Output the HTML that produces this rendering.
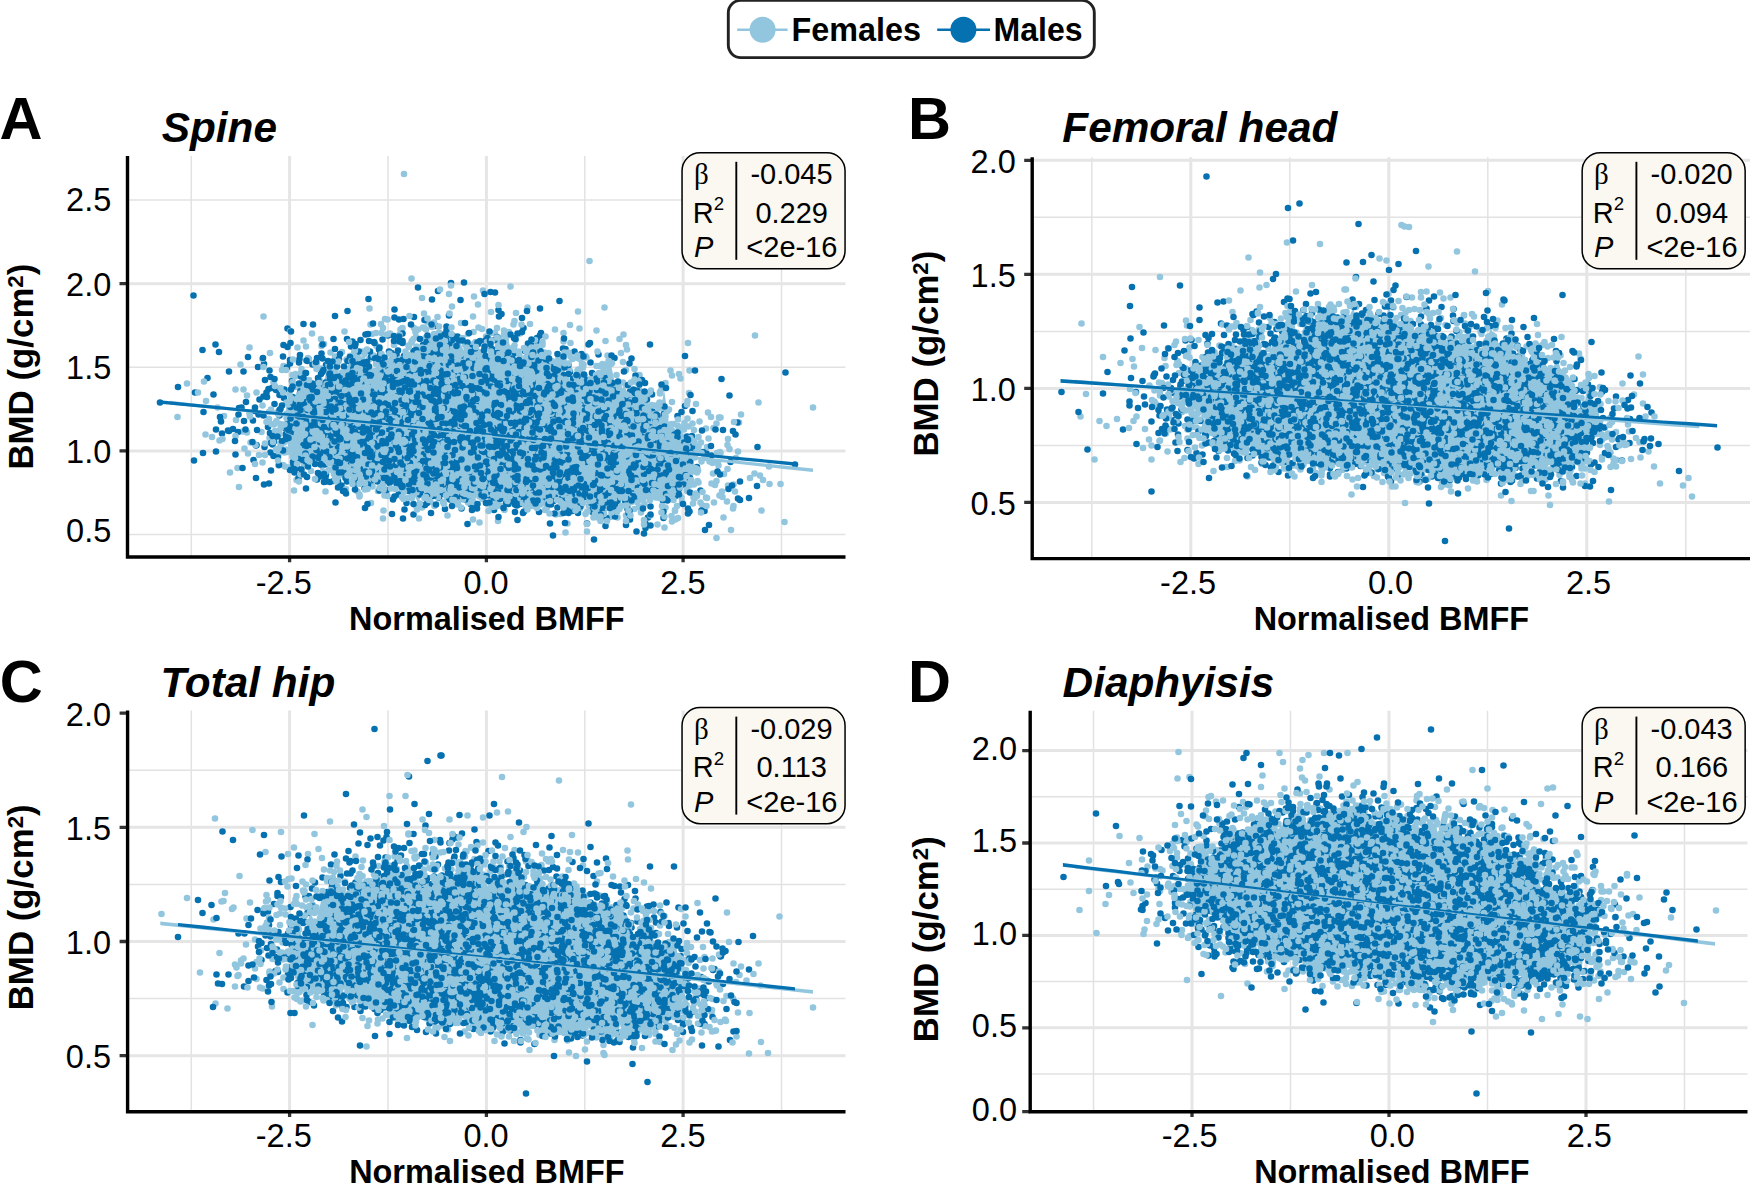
<!DOCTYPE html>
<html lang="en"><head><meta charset="utf-8"><title>BMD vs normalised BMFF</title>
<style>html,body{margin:0;padding:0;background:#fff}svg{display:block}text{font-family:"Liberation Sans",Arial,Helvetica,sans-serif;fill:#000}.tk{font-size:32.5px}.at{font-size:32.5px;font-weight:bold}.yt{font-size:35.3px;font-weight:bold}.sup{font-size:22.6px}.pl{font-size:59.5px;font-weight:bold}.pt{font-size:42.3px;font-weight:bold;font-style:italic}.sb{font-size:29px}.lg{font-size:32.7px;font-weight:bold}.f{stroke:#92C5DE}.m{stroke:#0571B0}</style></head><body>
<svg width="1750" height="1184" viewBox="0 0 1750 1184">
<rect width="1750" height="1184" fill="#fff"/>
<rect x="728.3" y="0.4" width="366" height="57.2" rx="12.5" ry="12.5" fill="#fff" stroke="#222" stroke-width="2.9"/>
<path d="M737.2 29.7H787.6" stroke="#92C5DE" stroke-width="2.6"/><circle cx="762.6" cy="29.7" r="13" fill="#92C5DE"/>
<path d="M937.2 29.7H990" stroke="#0571B0" stroke-width="2.6"/><circle cx="963.4" cy="29.7" r="13" fill="#0571B0"/>
<text class="lg" x="791.6" y="41.3" textLength="129.4" lengthAdjust="spacingAndGlyphs">Females</text>
<text class="lg" x="993.6" y="41.3" textLength="89.0" lengthAdjust="spacingAndGlyphs">Males</text>
<g id="panelA">
<path d="M191.3 156.0 V557.0M388.0 156.0 V557.0M584.8 156.0 V557.0M781.5 156.0 V557.0M127.5 534.5 H845.5M127.5 367.3 H845.5M127.5 200.1 H845.5" stroke="#e2e2e2" stroke-width="1.5" fill="none"/>
<path d="M289.6 156.0 V557.0M486.4 156.0 V557.0M683.1 156.0 V557.0M127.5 450.9 H845.5M127.5 283.7 H845.5" stroke="#e5e5e5" stroke-width="3.0" fill="none"/>
<path d="M286 399L292 402L298 389L304 378L310 387L316 388L322 388L328 366L334 366L340 377L346 374L352 347L358 356L364 363L370 375L376 375L382 362L388 365L394 358L400 362L406 360L412 359L418 351L424 344L430 340L436 338L442 338L448 332L454 341L460 342L466 356L472 349L478 356L484 360L490 361L496 353L502 341L508 337L514 365L520 365L526 352L532 346L538 344L544 357L550 365L556 366L562 360L568 388L574 395L580 359L586 383L592 383L598 378L604 377L610 360L616 388L622 394L628 397L634 395L640 384L646 397L652 412L658 432L664 389L670 431L676 436L682 431L688 443L694 442L694 468L688 481L682 480L676 492L670 495L664 496L658 493L652 493L646 496L640 503L634 497L628 515L622 494L616 512L610 504L604 517L598 513L592 507L586 499L580 501L574 507L568 508L562 502L556 496L550 500L544 500L538 501L532 502L526 500L520 500L514 499L508 499L502 501L496 502L490 491L484 494L478 491L472 498L466 495L460 495L454 500L448 495L442 494L436 492L430 498L424 490L418 503L412 490L406 493L400 491L394 484L388 479L382 486L376 477L370 482L364 480L358 479L352 478L346 472L340 471L334 467L328 460L322 474L316 459L310 459L304 458L298 468L292 466L286 436Z" fill="#92C5DE"/>
<g transform="scale(.5)" fill="none" stroke-linecap="round" stroke-width="13.2">
<path class="f" d="M578 935h0m48-38h0m112-178h0m140-54h0m118 377h0m139 5h0m224-128h0m111 64h0m30-27h0"/>
<path class="m" d="M471 909h0m105-63h0m4-126h0m6 204h0m21-276h0m574 77h0m113 74h0m57 193h0m59 68h0"/>
<path class="f" d="M559 868h0m14-32h0m20 124h0m23-244h0m6 226h0m166-252h0m94-22h0m115 36h0m115 325h0m66-17h0m17 23h0m41-264h0m10-47h0m85 212h0m88-13h0m18 8h0"/>
<path class="m" d="M466 858h0m47 32h0m24-112h0m38-84h0m9 68h0m29 130h0m32-175h0m86-48h0m62 40h0m210-81h0m226 88h0m31 67h0"/>
<path class="f" d="M633 829h0m213-174h0m111 0h0m75-29h0m57 79h0m226 344h0m4-244h0m41 104h0m1-152h0m75 167h0"/>
<path class="m" d="M356 774h0m216 94h0m3-211h0m287 369h0m37-340h0m22-86h0m262 406h0m197-83h0m135-29h0"/>
<path class="f" d="M646 816h0m47-97h0m48-70h0m34 343h0m294-274h0m41-59h0m123 91h0m117 272h0m89-31h0"/>
<path class="m" d="M512 956h0m115-185h0m9 175h0m24-189h0m52-1h0m77-137h0m292 83h0"/>
<path class="f" d="M485 863h0m11 44h0m90-65h0m109 81h0m209-246h0m32-9h0m36 5h0m286 314h0m11 31h0m95-14h0"/>
<path class="m" d="M528 728h0m40 68h0m59 23h0m741 66h0m3 65h0m200-205h0"/>
<path class="f" d="M561 887h0m119 63h0m62 56h0m62-267h0m356 278h0m6-282h0m26 250h0m9 40h0m130-259h0m74 245h0"/>
<path class="m" d="M458 862h0m123-48h0m19-104h0m50 219h0m2-119h0m94-163h0m82-13h0m74-68h0m160 120h0"/>
<path class="f" d="M539 876h0m43 5h0m21-143h0m2 149h0m48-87h0m14 97h0m150-206h0m141 13h0m102-56h0m61 380h0m305-81h0"/>
<path class="m" d="M509 822h0m8 7h0m63 111h0m17 16h0m117-214h0m201-69h0m7 74h0m6-182h0m60 455h0m173-7h0m142-75h0m24 98h0m2-183h0"/>
<path class="f" d="M634 924h0m5-129h0m260-88h0m375 58h0m49 13h0m31 234h0m124-167h0"/>
<path class="m" d="M598 725h0m16 229h0m38-224h0m69-50h0m55-9h0m2 32h0m164 306h0m373-178h0m66 84h0m94-70h0"/>
<path class="f" d="M540 706h0m103 189h0m27-182h0m49 276h0m104-304h0m99-39h0m42 12h0m57-85h0m31 142h0m127-193h0m30 274h0m26 239h0m106-294h0m15 142h0"/>
<path class="m" d="M476 864h0m31 56h0m22-26h0m138-216h0m39 83h0m35 204h0m215-277h0m62 263h0m127-173h0m187-2h0m44 251h0m9-205h0"/>
<path class="f" d="M567 732h0m1 153h0m30-8h0m26 30h0m28 6h0m192 102h0m196-348h0m127 62h0m213 159h0"/>
<path class="m" d="M432 903h0m24-42h0m327-155h0m22-20h0m41 4h0m30-108h0m122 51h0m158 393h0m140 9h0m47-121h0m23 94h0m43 14h0m4-115h0"/>
<path class="f" d="M494 791h0m60 34h0m190-157h0m383 15h0m47 380h0m41-315h0m24-70h0m32 193h0m5 120h0m6-194h0m15 46h0m25-37h0"/>
<path class="m" d="M431 689h0m108 52h0m137 221h0m642-15h0m8 54h0"/>
<path class="f" d="M472 840h0m105-31h0m14-56h0m50 20h0m20-68h0m189 257h0m267-245h0m170 266h0m8-168h0m37 142h0m44-271h0m13 311h0m25-103h0m31 100h0m65-323h0"/>
<path class="m" d="M585 794h0m87-9h0m221-132h0m54 330h0m70 25h0m18-341h0m200 113h0"/>
<path class="f" d="M481 729h0m88 176h0m12-243h0m54 225h0m22-157h0m69-27h0m19 270h0m86 38h0m21-336h0m37 59h0m129-70h0m229 5h0m273 282h0"/>
<path class="m" d="M438 704h0m78 30h0m70 72h0m26-60h0m36 218h0m10-155h0m102-100h0m111-57h0m7 344h0m7-271h0m8-64h0m6 34h0m98-75h0m77 56h0m66 68h0m65 274h0m6 34h0m55-66h0"/>
<path class="f" d="M435 815h0m144-12h0m96 152h0m14-292h0m36 56h0m221 320h0m58-42h0m108-16h0m72-165h0m84 164h0m44-51h0m135 106h0m8-97h0m68 83h0"/>
<path class="m" d="M387 591h0m71 152h0m190 127h0m3-105h0m608-38h0m32 320h0"/>
<path class="f" d="M594 900h0m45-141h0m215 230h0m128-323h0m137 54h0m96-9h0m65 75h0m40 1h0m49 59h0m90 52h0"/>
<path class="m" d="M660 733h0m49 235h0m56-289h0m179 341h0m136-349h0m211 385h0m37-228h0m25 87h0m50 106h0"/>
<path class="f" d="M575 904h0m372-216h0m71 9h0m66 13h0m70 298h0m3-269h0m65-11h0m60 297h0m89-58h0"/>
<path class="m" d="M506 841h0m53-21h0m28 109h0m96 42h0m8-169h0m237-83h0m260 360h0m73-256h0m27 244h0m67-96h0"/>
<path class="f" d="M460 945h0m125-116h0m6-81h0m2 86h0m31-167h0m129 25h0m10-26h0m12-27h0m30 17h0m19 336h0m109-274h0m18-34h0m42 45h0m129 13h0m157 84h0m41 161h0m3-7h0m16-122h0m4 174h0m28-142h0m56-34h0m134 112h0"/>
<path class="m" d="M427 789h0m153-62h0m17 191h0m28-189h0m759 143h0m39 39h0"/>
<path class="f" d="M494 865h0m330-183h0m3-4h0m34 326h0m13-291h0m74-120h0m91 407h0m150 5h0m116-82h0m26 92h0m25-86h0m18 53h0m23-17h0m31 40h0"/>
<path class="m" d="M607 890h0m87-212h0m8 15h0m105-55h0m78 350h0m215 59h0m190-281h0m86 251h0m104-54h0"/>
<path class="f" d="M585 764h0m58-72h0m72 291h0m30-219h0m110-120h0m48 11h0m87 344h0m49-6h0m180-240h0m23-47h0m4 59h0m25 54h0m58 154h0m0 60h0m63-225h0m20 49h0"/>
<path class="m" d="M559 831h0m94 132h0m9-210h0m48 226h0m96 58h0m114-44h0m77 41h0m44-26h0m15-321h0m168 92h0m81 44h0"/>
<path class="f" d="M439 881h0m48-102h0m95 17h0m110 36h0m29-78h0m123-59h0m51 302h0m117-319h0m344 174h0"/>
<path class="m" d="M527 793h0m88-71h0m37 227h0m31-186h0m72 200h0m85 26h0m49-320h0m3 11h0m79 1h0m155 16h0m125 96h0m2 204h0m50-56h0"/>
<path class="f" d="M525 811h0m197-90h0m130-62h0m67 43h0m171 318h0m67-239h0m95-41h0m23 60h0m58 115h0m2-38h0m2 102h0m11 6h0m8-121h0m22-78h0m10 183h0m37-43h0"/>
<path class="m" d="M607 798h0m1 11h0m32 75h0m46 98h0m32-279h0m277 3h0m53 291h0m53-268h0m212 243h0m158-103h0"/>
<path class="f" d="M566 930h0m126 48h0m82-309h0m62-10h0m41 57h0m9 288h0m9-23h0m27-275h0m14 299h0m63-297h0m128 11h0m4 346h0m10-379h0m2 203h0m21-161h0m88 303h0m27-281h0m33 168h0m170-89h0m57 139h0"/>
<path class="m" d="M528 969h0m24-189h0m43 156h0m83-218h0m135 288h0m94-326h0m137-16h0"/>
<path class="f" d="M557 931h0m35-157h0m6 189h0m0-66h0m60 30h0m13-185h0m85 240h0m112-337h0m24 81h0m86 283h0m93-286h0m74-5h0m23 87h0m53 229h0m65-209h0m23 3h0m25 138h0m75-50h0"/>
<path class="m" d="M320 805h0m95-49h0m225 197h0m33-159h0m37 148h0m2-234h0m23 300h0m49 20h0m58-46h0m11-298h0m85 37h0m108 305h0m182-11h0m72-179h0m32 152h0m134-126h0m124 67h0"/>
<path class="f" d="M518 910h0m94-217h0m0 135h0m158-91h0m99 275h0m121-303h0m6-16h0m23 56h0m32-32h0m46-11h0m98 293h0m14-384h0m63 184h0m53 114h0m42-6h0m34 98h0m125-45h0"/>
<path class="m" d="M600 808h0m57 61h0m85-155h0m244-9h0m42 293h0m58-276h0m30 18h0m97 296h0m102-75h0m3-30h0m2-75h0m74 78h0"/>
<path class="f" d="M525 718h0m128 50h0m83 197h0m33 26h0m92-300h0m14-57h0m18 340h0m20-273h0m98 46h0m190 295h0m22-261h0m23 1h0m32 87h0m10-42h0m13 123h0m9-139h0m131 24h0"/>
<path class="m" d="M530 760h0m6 94h0m123-105h0m0 50h0m11-101h0m59 278h0m20-290h0m28 76h0m333-7h0m99 0h0m21 278h0m6-270h0m225 161h0"/>
<path class="f" d="M527 633h0m47 194h0m3 53h0m37-57h0m44 117h0m89-229h0m165 276h0m85-377h0m15 81h0m46 24h0m21 35h0m62 248h0m15-375h0m15 89h0m81 101h0m1 6h0m37-29h0m12-9h0m6 60h0m82 74h0m6 26h0"/>
<path class="m" d="M496 714h0m125 87h0m35-79h0m49-39h0m81 316h0m104 19h0m64-1h0m71-300h0m124-14h0m161 150h0m13-84h0"/>
<path class="f" d="M471 779h0m52 85h0m82-43h0m44 1h0m4 100h0m45-238h0m135 9h0m133-112h0m33 95h0m28-27h0m90 76h0m56-10h0m79 56h0m100 129h0m38 36h0m43 26h0m0 114h0"/>
<path class="m" d="M406 906h0m26-47h0m80 32h0m59-34h0m11-4h0m19-71h0m35-26h0m227-32h0m97-42h0m70 24h0m44-24h0m15 321h0m56 19h0m32-333h0m105 163h0m31 11h0m146-72h0"/>
<path class="f" d="M612 818h0m195 180h0m16-441h0m40 121h0m5-10h0m57 8h0m11 327h0m160-271h0m74 21h0m88 39h0m63 73h0m67 17h0m29-5h0m31 71h0m24-32h0"/>
<path class="m" d="M444 867h0m137-30h0m12-22h0m57-34h0m24-48h0m19 207h0m47-237h0m28 69h0m180-52h0m27-44h0m45 92h0m1-99h0m9 340h0m68-288h0m201 133h0m81 49h0m26 1h0"/>
<path class="f" d="M607 681h0m32 154h0m121 118h0m155-265h0m32-24h0m61-3h0m147 55h0m4 31h0m34-86h0m61 38h0m44 222h0m44-1h0m23 39h0m29-56h0m18 92h0m18-25h0m8-135h0"/>
<path class="m" d="M545 889h0m24-110h0m46 61h0m43-5h0m5-51h0m67 232h0m7-418h0m9 178h0m232 215h0m173-2h0m12-281h0m72 294h0m25-190h0m49 130h0m46-110h0"/>
<path class="f" d="M445 878h0m128-73h0m34-27h0m1 151h0m19-21h0m37-133h0m13-52h0m23 218h0m28-14h0m103-263h0m90 45h0m74-26h0m13-14h0m31 321h0m50-259h0m2 276h0m48-267h0m66-12h0m151 308h0m38-98h0m19-24h0"/>
<path class="m" d="M534 794h0m4 173h0m3-213h0m1 132h0m22-4h0m51-62h0m10 93h0m9-61h0m4-80h0m57-150h0m44 161h0m20 198h0m0-59h0m188 92h0m420-45h0"/>
<path class="f" d="M424 874h0m123-109h0m14 11h0m24 137h0m33-195h0m24 19h0m58-25h0m66 325h0m83-381h0m123 38h0m83-79h0m49 107h0m11 270h0m12-326h0m52 319h0m8-198h0m21 241h0m15-3h0m74-202h0m44 159h0m2-31h0m2-67h0m37 61h0m127 2h0"/>
<path class="m" d="M390 785h0m193 81h0m6 79h0m41-17h0m3-16h0m8 17h0m1-181h0m18-1h0m32 240h0m17-219h0m80 225h0m20 26h0m10-63h0m22-252h0m128-116h0m74 191h0m30-38h0m9-75h0m62 317h0m119-266h0m72 170h0m50 6h0"/>
<path class="f" d="M525 925h0m18-77h0m14-19h0m22-41h0m44 52h0m61-95h0m96-78h0m53 318h0m43 10h0m2-342h0m24-82h0m92 436h0m128-257h0m39 34h0m21-26h0m16-12h0m80 268h0m11-216h0m0 210h0m45-15h0m49-25h0m16-125h0m68 169h0"/>
<path class="m" d="M602 753h0m23 132h0m40-162h0m11 252h0m13-69h0m122 46h0m6 30h0m256-253h0m51 268h0m4-247h0m33 256h0m26-211h0m17-42h0m94 189h0m72-130h0m12 95h0m116 89h0"/>
<path class="f" d="M411 869h0m37-37h0m27 104h0m98-37h0m21 29h0m53-121h0m4-24h0m13 46h0m25-75h0m180-66h0m49 22h0m13-5h0m43-21h0m12 330h0m43-372h0m81 349h0m25 16h0m24-350h0m19 345h0m38-223h0m72 110h0m56 154h0m3-43h0m28-198h0m0 155h0m163-24h0"/>
<path class="m" d="M533 785h0m33-72h0m61 97h0m7 149h0m104-277h0m23 61h0m38-60h0m39 295h0m60-347h0m136 380h0m65-241h0m7 301h0m8-330h0m70 5h0m2 271h0m87 46h0m14-232h0m3 14h0m37 81h0m0 97h0m31-45h0"/>
<path class="f" d="M548 849h0m86 54h0m20-78h0m98-159h0m107 64h0m86-15h0m13-6h0m36-53h0m56 354h0m14 2h0m9-319h0m18-20h0m0 61h0m70-15h0m37 13h0m68 77h0m32 179h0m17-147h0m4 98h0m40-42h0m18-44h0m2-112h0m8 254h0m16-89h0m63 111h0"/>
<path class="m" d="M549 808h0m127-29h0m18 184h0m111-281h0m3 30h0m19 317h0m40-37h0m13-283h0m289 85h0m21 13h0m5 203h0m2-301h0m58 309h0m5 21h0"/>
<path class="f" d="M561 848h0m25-129h0m73 156h0m25-171h0m26-3h0m80 241h0m55-242h0m59-87h0m11 396h0m67-385h0m45 71h0m4-15h0m41 334h0m191-154h0m6-11h0m34-39h0m7 90h0m10-116h0m13 156h0m2-118h0m9 39h0m30 118h0m59-132h0m8 59h0"/>
<path class="m" d="M519 799h0m40-9h0m13 82h0m2-137h0m63 27h0m54 194h0m67-257h0m160-18h0m156 55h0m33 266h0m1-225h0m1 250h0m2-261h0m26-36h0m48 294h0m81-47h0m3 19h0m15-236h0m2 113h0m18-84h0m45 80h0m12 86h0m29-214h0m11 240h0m113-9h0"/>
<path class="f" d="M412 802h0m98 126h0m92-51h0m25-1h0m7-150h0m31 213h0m1-101h0m25-27h0m114 147h0m33 79h0m11-279h0m196 248h0m368 6h0m1-16h0m42-25h0"/>
<path class="m" d="M676 773h0m25 157h0m17-202h0m68 30h0m7 208h0m56-326h0m25 64h0m32-32h0m17 345h0m46-324h0m7 27h0m30-35h0m6 322h0m104-236h0m30-14h0m125-6h0m2 67h0m101 55h0m61 70h0"/>
<path class="f" d="M489 897h0m12-12h0m56 24h0m9-124h0m26 105h0m16-98h0m60 45h0m1-42h0m66-12h0m7 172h0m49-233h0m70 268h0m6-299h0m19-10h0m79 317h0m105-318h0m66 105h0m19 232h0m37-267h0m23 266h0m46-41h0m2 29h0m9-28h0m3 29h0m30-148h0m66 59h0m31 109h0"/>
<path class="m" d="M541 905h0m15 10h0m105-25h0m4-67h0m5-25h0m9-45h0m10 229h0m21-25h0m64-208h0m14-77h0m34 128h0m5-98h0m35 3h0m20 12h0m22 295h0m174 12h0m102-338h0m118 147h0"/>
<path class="f" d="M562 894h0m83-59h0m24 39h0m14-77h0m5 120h0m38 14h0m10-120h0m65-93h0m25-7h0m2-55h0m43 41h0m83 291h0m55-286h0m47-2h0m61 29h0m49 277h0m41-274h0m21 267h0m45-185h0m8 181h0m6-118h0m31 35h0m20-93h0m3 70h0m6-41h0m5 42h0m18 21h0"/>
<path class="m" d="M616 933h0m10-284h0m17 279h0m59-23h0m83-186h0m9 251h0m4-331h0m20 330h0m113 30h0m100-321h0m0 45h0m19-21h0m30-85h0m119 383h0m6 14h0m51-244h0m12 115h0m16-70h0m35 138h0m44-129h0"/>
<path class="f" d="M593 798h0m75 134h0m22-1h0m3-112h0m29-74h0m51 241h0m38-283h0m38 122h0m4-129h0m6 57h0m31-71h0m63 21h0m44 35h0m136 22h0m3 210h0m2 45h0m49 20h0m2-19h0m73-251h0m61 260h0m40-30h0m6-81h0m16-67h0m12 46h0"/>
<path class="m" d="M547 912h0m48-81h0m17 11h0m36 59h0m8-131h0m24-62h0m11 69h0m9 29h0m8-77h0m2 33h0m11-4h0m3-25h0m4-5h0m37-2h0m67-26h0m40 309h0m100-3h0m53-228h0m33 0h0m4 0h0m69-80h0m21 88h0m49 243h0m19-13h0m30-15h0m28-75h0m29-43h0"/>
<path class="f" d="M530 910h0m112-232h0m10 216h0m21 17h0m44-195h0m23 210h0m124-272h0m35-27h0m47 6h0m19 85h0m28 295h0m70-318h0m11 321h0m7-7h0m56-282h0m24 226h0m52-167h0m11-60h0m45 12h0m12 203h0m2-11h0m3 69h0m47-69h0m62 32h0m73-118h0"/>
<path class="m" d="M388 921h0m100-79h0m52 24h0m71 41h0m26 9h0m61-161h0m38-87h0m14 49h0m2-1h0m18 41h0m7-22h0m11 28h0m2-9h0m2 36h0m70-47h0m76 253h0m42-315h0m86 24h0m181 98h0m12-2h0m4 51h0m19 111h0m19 88h0m79-95h0"/>
<path class="f" d="M499 695h0m12 195h0m19-3h0m20-25h0m1-16h0m10 11h0m29 59h0m8-44h0m24-17h0m7 44h0m10-20h0m7-96h0m2-95h0m44 108h0m42-97h0m18 29h0m38 12h0m91-21h0m13-15h0m12 11h0m15 8h0m35-114h0m28 402h0m6-345h0m10 345h0m15-242h0m39 240h0m27-282h0m23 32h0m44 47h0m23 222h0m23-14h0m7-251h0m37 226h0m28-153h0m10 12h0m12 201h0m8-88h0m5 70h0m6-114h0m50 8h0m11-66h0m29 15h0"/>
<path class="m" d="M440 834h0m142-55h0m61-72h0m56 92h0m8 2h0m33-27h0m5 19h0m3-109h0m107-13h0m25 19h0m55 358h0m3-70h0m131-235h0m41 252h0m59-1h0m7-18h0m18-5h0m0-191h0m24 106h0m40 29h0m1 107h0m9-119h0m15-1h0m8-51h0m20-9h0m12 76h0m13 54h0m30-43h0"/>
<path class="f" d="M558 866h0m8-16h0m28 42h0m16-18h0m20-146h0m90 10h0m29 4h0m8 20h0m22-55h0m31 232h0m0-153h0m11-63h0m2-9h0m11 305h0m1-312h0m0 261h0m20-331h0m20 345h0m41 24h0m58-18h0m32-253h0m31-32h0m55 55h0m4 245h0m25-246h0m67 221h0m52-138h0m8 28h0m9-22h0m55 149h0m31-147h0m2 25h0m20-18h0m21 152h0m48-101h0m20 97h0"/>
<path class="m" d="M487 743h0m125 180h0m30-82h0m20 28h0m8-237h0m3 122h0m15 11h0m16-26h0m74 9h0m18-47h0m75 234h0m9-262h0m27 51h0m43-27h0m34 55h0m6-167h0m23 124h0m12 293h0m17-13h0m2-353h0m33 85h0m51-44h0m43 83h0m86 266h0m123-41h0"/>
<path class="f" d="M471 872h0m82-30h0m17 91h0m32-187h0m31 44h0m0-52h0m51 83h0m10-83h0m2 197h0m23 33h0m7-155h0m5-3h0m25-44h0m20-23h0m5-22h0m22 264h0m32-274h0m13 29h0m7-39h0m11 17h0m3 30h0m17-10h0m101 3h0m25 34h0m40-73h0m38 11h0m32 222h0m13-129h0m5 10h0m14-25h0m8-35h0m31-24h0m8 301h0m10-58h0m32-162h0m6 98h0m14-110h0m0 169h0m0-5h0m14-203h0m15 101h0m86 70h0m38-108h0m7 142h0"/>
<path class="m" d="M478 816h0m88 85h0m9-46h0m6-169h0m44 81h0m12 37h0m16 99h0m15-103h0m6 106h0m11-88h0m51 151h0m10-18h0m33-45h0m2 57h0m19-1h0m22-313h0m48 176h0m12-126h0m18 271h0m12-242h0m67 277h0m10-325h0m37 46h0m40-20h0m71 42h0m54 91h0m80 93h0m8-163h0m56 232h0"/>
<path class="f" d="M396 785h0m104 48h0m13-48h0m118 18h0m2 69h0m30-98h0m4 128h0m18 0h0m51-127h0m17-32h0m1 33h0m5 200h0m45-319h0m39 319h0m5-349h0m37 349h0m32 5h0m9 18h0m8-289h0m73 44h0m5-22h0m61 26h0m13-14h0m28 256h0m23-14h0m3-199h0m0-137h0m15 91h0m20 282h0m10-27h0m10-177h0m40 23h0m22 179h0m38-233h0m43 144h0m44 28h0m6-100h0"/>
<path class="m" d="M407 824h0m141 59h0m16-72h0m47-65h0m7 125h0m5-75h0m0 94h0m2-111h0m36-11h0m66-43h0m32 221h0m38 43h0m6-203h0m18-5h0m29 229h0m13-361h0m24 320h0m15-256h0m113 73h0m57-12h0m26-57h0m14 23h0m66 52h0m18 70h0m16 143h0m12-154h0m1-85h0m8 200h0m62-56h0m9 70h0m114 70h0"/>
<path class="f" d="M355 834h0m53-71h0m70 211h0m102-99h0m15-180h0m18 88h0m25-17h0m34-3h0m24 91h0m11-111h0m28 173h0m66-257h0m27 89h0m4-74h0m12-78h0m51 435h0m5-291h0m47 264h0m41-274h0m35-9h0m16-10h0m8 30h0m17 6h0m21-63h0m1 64h0m36 39h0m9 31h0m6-113h0m19 280h0m6-197h0m17 183h0m17-176h0m8 185h0m26-136h0m8-68h0m28 87h0m8 88h0m1-92h0m10 20h0m10 25h0m16-30h0m20-41h0m10 112h0"/>
<path class="m" d="M405 700h0m219 222h0m13-63h0m34 76h0m7-97h0m20-7h0m1-41h0m1-38h0m7 155h0m2-57h0m7 12h0m24 52h0m30-150h0m82-20h0m36 222h0m10-236h0m72 220h0m1-238h0m21 48h0m6 225h0m32 20h0m19-273h0m2 262h0m44-226h0m20 247h0m20-237h0m39 269h0m63-221h0m36 1h0m28 186h0m23-141h0m12 59h0m144 69h0"/>
<path class="f" d="M538 838h0m8 46h0m18-144h0m21 10h0m16 199h0m4-182h0m37 80h0m7-13h0m18 27h0m4-20h0m38-63h0m136-28h0m26 237h0m21-293h0m0 22h0m22 259h0m5-11h0m66-242h0m12 26h0m15 17h0m3 237h0m29-254h0m15 239h0m1-5h0m9 8h0m13 14h0m38-2h0m17-144h0m18-147h0m1 284h0m27-152h0m20 162h0m10-47h0m0-168h0m24 184h0m14-17h0m8-119h0m12-44h0m23 177h0m7-140h0m18 165h0m22-144h0"/>
<path class="m" d="M613 882h0m0-161h0m6 74h0m13-71h0m8 184h0m11 47h0m20-95h0m16-19h0m19-31h0m7 38h0m21 41h0m42-109h0m1 174h0m19-232h0m41 51h0m3-95h0m13 84h0m3 4h0m57 195h0m18 21h0m42-1h0m41-219h0m3-2h0m29 1h0m8-139h0m9 92h0m5 267h0m4 4h0m16-219h0m40-1h0m31 222h0m46-13h0m10-159h0m20-27h0m52 72h0m14 169h0m31-84h0m26 44h0m46-128h0"/>
<path class="f" d="M588 981h0m17-130h0m25 107h0m8-180h0m38 136h0m7-6h0m2 27h0m20-37h0m15-75h0m10 156h0m2-47h0m14-181h0m11 182h0m6-225h0m11 182h0m4 57h0m21-151h0m9 188h0m14-253h0m5 252h0m2-239h0m11-15h0m1 231h0m1-208h0m6 205h0m4-229h0m9 249h0m25-36h0m2 67h0m16-275h0m11 20h0m29 223h0m117-206h0m0 209h0m14-193h0m7-33h0m1 238h0m11 24h0m35-310h0m34 99h0m16 2h0m21 161h0m3-12h0m1-130h0m4 173h0m2-32h0m11-171h0m15 0h0m3 133h0m3 67h0m10 16h0m1-222h0m16-30h0m4 207h0m6-90h0m12 45h0m1 36h0m8 43h0m13-96h0m10-31h0m27 147h0m29-49h0m23-86h0"/>
<path class="m" d="M545 872h0m116 5h0m5 45h0m2-166h0m13 113h0m39 69h0m29-12h0m52-202h0m26 284h0m2-44h0m35-365h0m3 162h0m6 192h0m24-228h0m3 274h0m31-195h0m12-108h0m81 287h0m3-13h0m9-4h0m35 41h0m35-42h0m26 31h0m23-243h0m6 57h0m21 40h0m49 109h0m36-180h0m9 196h0m25-64h0m19-26h0m11 113h0"/>
<path class="f" d="M591 857h0m13-93h0m43 86h0m37 13h0m10-48h0m15-103h0m13 205h0m19-117h0m7-43h0m16 187h0m2-288h0m33 114h0m18-60h0m19 148h0m23-163h0m11 76h0m6-50h0m10-21h0m44-11h0m73 39h0m51 69h0m78 64h0m60-56h0m1-31h0m11 12h0m7-104h0m6 289h0m6-16h0m1 9h0m37 67h0m23-54h0m2-60h0m2 123h0m3-154h0m30 75h0m23 29h0m17-49h0m28-56h0m14 38h0m223-108h0"/>
<path class="m" d="M558 930h0m30 8h0m35-144h0m37 170h0m38-126h0m27-74h0m7 189h0m0-199h0m41 226h0m6-14h0m25 5h0m2-252h0m15 24h0m10-4h0m23 253h0m44 3h0m81-20h0m3 9h0m66 39h0m4-46h0m45 31h0m10-222h0m5 44h0m17-25h0m25 21h0m11 154h0m6-188h0m20 40h0m17-23h0m10-42h0m17 211h0m6-168h0m11 240h0m9-114h0m13-155h0m1 60h0m25-152h0m7 171h0m8 79h0m4-47h0m36-27h0m85 84h0m6-89h0"/>
<path class="f" d="M588 876h0m36-43h0m19-33h0m3 85h0m3-102h0m2 200h0m4-123h0m7 63h0m3-118h0m0 98h0m9-78h0m16 87h0m8-133h0m2 88h0m5 60h0m12-90h0m2 112h0m0 44h0m7-83h0m21-139h0m32-48h0m1 50h0m2 4h0m32-47h0m83 214h0m1-356h0m0 226h0m7-116h0m54 295h0m48-25h0m12 25h0m10-12h0m2-32h0m14 38h0m21-191h0m35 181h0m12 1h0m12-10h0m27-215h0m7 57h0m32-43h0m3 65h0m17 21h0m16 35h0m18-99h0m46 179h0m9-63h0m0-121h0m11 63h0m18 13h0m54 48h0m73-30h0m6 182h0m55-255h0"/>
<path class="m" d="M527 831h0m40-141h0m26 157h0m65 8h0m15 13h0m2-55h0m6-8h0m2 111h0m11-20h0m1-174h0m0 195h0m9-56h0m42-18h0m2-33h0m2-11h0m34 82h0m4-55h0m27 46h0m1-150h0m9 258h0m5-257h0m24 234h0m24-205h0m30 100h0m0-107h0m6 198h0m11-262h0m3 58h0m22-10h0m20 53h0m3 184h0m11-207h0m48 30h0m1-10h0m5-59h0m9-64h0m6 345h0m8-161h0m2 119h0m0-229h0m10 251h0m29 28h0m5-55h0m1-207h0m22 299h0m25-279h0m34 246h0m24-167h0m10-135h0m7 298h0m21-181h0m4 14h0m0 27h0m4-64h0m30-22h0m7 94h0m10 33h0"/>
<path class="f" d="M572 740h0m96 208h0m22-102h0m14-1h0m3 36h0m1 74h0m12-193h0m4 136h0m6 69h0m26-188h0m2-44h0m9 32h0m0 213h0m3-342h0m17 256h0m53 113h0m18-234h0m11-104h0m8 261h0m1-115h0m37-93h0m14 144h0m14 137h0m41-322h0m30 19h0m15 72h0m2-8h0m1 224h0m9-237h0m29 217h0m11-233h0m7 36h0m11-29h0m4 85h0m2 163h0m19-259h0m7 28h0m9 45h0m24 144h0m14-92h0m1-29h0m21 44h0m3-60h0m5-67h0m1 208h0m5 90h0m15-240h0m3 152h0m0-145h0m11 203h0m19-114h0m18 84h0m4-29h0m9-101h0m32 28h0m13 19h0m53 88h0"/>
<path class="m" d="M491 859h0m14 25h0m39-108h0m72 113h0m13-64h0m31-27h0m16 95h0m38-77h0m0 98h0m18-93h0m5 108h0m13-12h0m23 39h0m15-9h0m1-312h0m24 115h0m4 132h0m30-184h0m40 226h0m29-193h0m12 261h0m35-2h0m18-406h0m9 399h0m4-309h0m37 79h0m53 49h0m10-55h0m43 189h0m56-179h0m15 169h0m3-139h0m16 46h0m13 57h0m3-58h0m21 39h0m24 77h0m31-30h0m62-128h0"/>
<path class="f" d="M576 861h0m26-63h0m13 19h0m4 106h0m28-30h0m6-11h0m26 35h0m1-100h0m10 51h0m8-84h0m12-4h0m6 143h0m6-64h0m9-10h0m18-16h0m1 104h0m0 22h0m5-43h0m26-175h0m13 7h0m10 246h0m8-282h0m7-80h0m2 256h0m6-6h0m0-144h0m2 193h0m3-218h0m20 157h0m44-110h0m7 188h0m10-208h0m25 225h0m34-192h0m11-62h0m20-2h0m6 311h0m15-282h0m46 99h0m20 153h0m25-13h0m12 12h0m20-172h0m1 36h0m4 26h0m15 101h0m14-220h0m2 60h0m0 108h0m34 64h0m2-39h0m3-115h0m29 22h0m11-32h0m38 60h0m6-25h0m69 31h0m6-18h0m41-42h0m147 210h0"/>
<path class="m" d="M526 716h0m86 261h0m1-118h0m1-89h0m29 95h0m19-52h0m5 149h0m11-17h0m6 0h0m16-231h0m9 150h0m3-101h0m2-3h0m18-19h0m14 112h0m7 49h0m8-117h0m7 171h0m8-127h0m7 78h0m20-125h0m0 68h0m2-183h0m4 205h0m6-68h0m20-18h0m1-211h0m8 330h0m10 48h0m7-20h0m3-143h0m17-49h0m6 208h0m13 12h0m22-196h0m13-80h0m3-19h0m8 107h0m30-32h0m11 254h0m13 3h0m7 18h0m11-38h0m54-212h0m5 34h0m21 193h0m4-170h0m21 161h0m3-30h0m10 67h0m31-247h0m2 42h0m25-53h0m9 18h0m35 81h0m33 94h0m15 61h0m84-305h0m9 311h0"/>
<path class="f" d="M374 767h0m224 97h0m4-26h0m49 106h0m5-152h0m11 94h0m18-27h0m1-76h0m11 105h0m10-57h0m7-95h0m1 34h0m1 8h0m6 55h0m7-125h0m5 127h0m5-218h0m20 299h0m7 53h0m12-185h0m3-54h0m3 185h0m7-121h0m3 14h0m1-74h0m2 28h0m4 72h0m12-96h0m4 212h0m8-166h0m38 198h0m22-15h0m4-191h0m16 223h0m5-185h0m18-65h0m22 202h0m3-192h0m5 42h0m15-50h0m6 18h0m18-35h0m12 247h0m5 12h0m0-40h0m36-192h0m2-22h0m2 19h0m11-48h0m6 161h0m6-99h0m1-9h0m12 12h0m28 55h0m10 30h0m1-39h0m0 8h0m7 168h0m5-284h0m0 150h0m2-76h0m2 34h0m0-15h0m7 22h0m0-9h0m6 22h0m14 13h0m11 13h0m10 1h0m6-12h0m18-94h0m4 65h0m5 50h0m0 111h0m14-32h0m11 32h0m3-158h0m5 76h0m16 76h0m3-110h0m30 121h0m9-176h0m4 99h0m35-77h0m19-2h0m92 132h0m9-66h0"/>
<path class="m" d="M442 843h0m119-25h0m38 15h0m9 116h0m21-107h0m57 5h0m5-86h0m4 28h0m6 124h0m0-57h0m2-49h0m1 114h0m21-68h0m8-126h0m1 131h0m35-143h0m19-33h0m13 83h0m4 43h0m5 28h0m40 65h0m2-109h0m20-115h0m0 288h0m28-296h0m5 87h0m6 238h0m14-232h0m2-36h0m28 50h0m0-91h0m5 292h0m43-197h0m6 3h0m19 184h0m2-190h0m9 18h0m20 4h0m13 108h0m32 8h0m3 31h0m12-344h0m12 240h0m15-6h0m2 113h0m20-200h0m4 21h0m2 92h0m18-65h0m18 194h0m5-40h0m2-150h0m22 96h0m10-4h0m4-53h0m2 104h0m34 24h0m24-139h0m16 121h0m93-58h0m42 79h0"/>
<path class="f" d="M533 844h0m9-25h0m52 49h0m29-45h0m33 23h0m44-21h0m3-103h0m6 66h0m6 152h0m13-165h0m7 165h0m0-176h0m1 64h0m21 77h0m13-176h0m7 155h0m4-98h0m5 124h0m1-198h0m33 103h0m2 100h0m2-130h0m4-28h0m5 163h0m5-104h0m6 80h0m2-116h0m7 24h0m22-72h0m13 74h0m2 136h0m7-196h0m4 240h0m7 14h0m5-141h0m6 121h0m1-241h0m4 50h0m14-89h0m1 58h0m20 212h0m0 75h0m8-310h0m10 287h0m16-28h0m14-51h0m1-40h0m21-170h0m2 231h0m5-189h0m7 186h0m7-190h0m1-9h0m13 45h0m7 139h0m8 26h0m6-282h0m6 117h0m5 141h0m14-98h0m4-66h0m9 222h0m18-225h0m10 141h0m6 78h0m6-181h0m10 148h0m6 29h0m1-107h0m3-28h0m2-91h0m1 193h0m25-233h0m3 169h0m9-43h0m8 75h0m12-131h0m16 85h0m7-32h0m3 111h0m14-25h0m3 21h0m32 10h0m126 13h0"/>
<path class="m" d="M470 882h0m22-78h0m22 56h0m28 81h0m59-121h0m12 30h0m10 1h0m25 97h0m4-124h0m17 59h0m0-64h0m14-27h0m18 52h0m9-152h0m1-4h0m19 195h0m26-83h0m1-82h0m6 192h0m2-73h0m4 102h0m7-94h0m10-75h0m8 64h0m11 139h0m25-95h0m4-2h0m5-66h0m3-63h0m12 259h0m5-274h0m10 51h0m1 13h0m1-18h0m5 173h0m4-16h0m0-157h0m1 16h0m19 140h0m5-150h0m7 186h0m16-108h0m28-50h0m12-111h0m3 233h0m10-246h0m3 10h0m16 162h0m35 180h0m29-65h0m4-145h0m20 21h0m7-74h0m1 7h0m1-11h0m7 67h0m5-20h0m3 98h0m7 58h0m3-135h0m0-28h0m3 10h0m1 37h0m18-29h0m2 113h0m19 31h0m5 12h0m2-63h0m3-122h0m1 111h0m3-131h0m1 211h0m14-3h0m14-225h0m10 97h0m8-69h0m6 131h0m28 23h0m16-29h0m2-17h0m49 5h0m2-93h0m29 141h0m14-57h0m3-19h0m56-19h0"/>
<path class="f" d="M499 827h0m102-40h0m39 14h0m4 72h0m49-13h0m2 91h0m4-110h0m6 127h0m7-27h0m4-11h0m5-137h0m3 41h0m2 8h0m8-48h0m3 49h0m19-30h0m34 103h0m6-75h0m3 17h0m10-120h0m9-44h0m23 241h0m8 61h0m9 4h0m1-34h0m5-158h0m0 24h0m7 94h0m5 8h0m3-46h0m1-309h0m12 412h0m7-185h0m15 5h0m1 50h0m3-56h0m0-7h0m5 151h0m6-152h0m5 168h0m5 26h0m2-250h0m8 236h0m2-35h0m2-196h0m12 206h0m1 21h0m0-35h0m20 52h0m4-57h0m19-87h0m20-155h0m19 288h0m0-29h0m8-201h0m1-22h0m3 274h0m6-187h0m1-59h0m14 7h0m7 54h0m6 167h0m6 19h0m10-184h0m2-17h0m4 3h0m1 151h0m2-149h0m3 27h0m4 20h0m5 51h0m5-20h0m7 40h0m1 79h0m10-240h0m3 35h0m1 54h0m9 20h0m1 65h0m6 111h0m4-146h0m1 35h0m5-163h0m11-71h0m2 256h0m3-17h0m1-102h0m5 87h0m2-77h0m15 50h0m2-37h0m3 7h0m6 47h0m1-68h0m2 89h0m2 80h0m15-109h0m1 65h0m27-61h0m9 80h0m4-95h0m10-21h0m1 79h0m18 56h0m1-15h0m19-193h0m8 115h0m8-26h0m0 82h0"/>
<path class="m" d="M483 815h0m27 0h0m66 43h0m58-74h0m11-40h0m26 74h0m5 106h0m3-146h0m0 68h0m9-113h0m17 13h0m5 165h0m16-112h0m5 144h0m34-36h0m0-112h0m0 49h0m1 80h0m3-138h0m2 130h0m33 58h0m1-130h0m5-69h0m0 162h0m10-11h0m10 27h0m4-10h0m2-97h0m5 82h0m11-19h0m3 58h0m7-12h0m3-102h0m5-88h0m3 176h0m8-159h0m1 189h0m0-212h0m13 191h0m4 28h0m7-207h0m3 93h0m9 94h0m1-200h0m19 188h0m8-143h0m7-36h0m20-6h0m6-98h0m3 110h0m3 34h0m15 39h0m28-170h0m5 304h0m10-146h0m5 11h0m4-8h0m1 121h0m3 2h0m4-153h0m10-15h0m5 83h0m0-64h0m8 112h0m1-7h0m9 58h0m3-39h0m5-82h0m21-68h0m2-7h0m3 248h0m8-118h0m10 34h0m1-140h0m2 57h0m0 121h0m22-129h0m33-52h0m7 19h0m7 168h0m4-61h0m5 51h0m5-69h0m8 75h0m26-41h0m5-155h0m7 97h0m27 83h0m34-27h0m14-17h0m24-42h0"/>
<path class="f" d="M550 772h0m6 149h0m1-24h0m47-39h0m6 10h0m11 11h0m31 41h0m8-71h0m26 41h0m4-110h0m14 95h0m11 56h0m2-126h0m12 33h0m4-54h0m7 100h0m3-140h0m1 85h0m1 69h0m2-20h0m7-44h0m10 64h0m3 123h0m2-117h0m7-111h0m15 185h0m0-174h0m8-2h0m0-72h0m0-61h0m1 226h0m8-547h0m2 552h0m2-64h0m5 99h0m7 61h0m14-261h0m1-18h0m2 234h0m14-166h0m9 130h0m6-115h0m0 12h0m10-8h0m9-83h0m10 200h0m5 62h0m1-62h0m7 30h0m6-18h0m4-131h0m7-50h0m2 236h0m9-136h0m19 53h0m5 6h0m0-102h0m12-3h0m1 52h0m3-45h0m1 165h0m2-251h0m1 62h0m5-13h0m6 25h0m5-46h0m1 175h0m1 60h0m1-242h0m0 203h0m1-230h0m4 85h0m5 45h0m3-102h0m3 212h0m3-16h0m26-249h0m1 106h0m3-37h0m13 137h0m0 52h0m9-120h0m5-49h0m5-73h0m5 115h0m0 99h0m1 18h0m3-100h0m4-21h0m8 107h0m2-89h0m4-67h0m1 82h0m7-57h0m8 209h0m5-48h0m0-164h0m11 215h0m1-145h0m6 99h0m13-117h0m3-61h0m2 95h0m10-49h0m1 9h0m11 186h0m2-76h0m9 42h0m6-253h0m3 87h0m4 83h0m3-20h0m1-19h0m3 23h0m4 53h0m19-27h0m2 19h0m3 25h0m1 31h0m1-111h0m1 157h0m4-82h0m0-151h0m1 116h0m8-7h0m5 23h0m5-27h0m1-127h0m10 51h0m21 143h0m4-136h0m15 58h0m18-152h0m27 186h0m2 15h0m1-143h0m20 136h0m0 47h0"/>
<path class="m" d="M485 936h0m64-178h0m6 115h0m43-106h0m24 6h0m11 127h0m12-60h0m14 74h0m35-32h0m11-62h0m16 34h0m0 35h0m12-26h0m4-39h0m1-91h0m6 179h0m11-86h0m21 136h0m17-104h0m1-92h0m0-24h0m13 108h0m4 38h0m2-154h0m5 91h0m3 21h0m3 63h0m1 53h0m3-159h0m13-63h0m0 22h0m13 162h0m2-4h0m5-78h0m19-92h0m12 14h0m0 193h0m24-177h0m2 104h0m1 91h0m11-329h0m4 151h0m9-2h0m4-59h0m0 171h0m1 60h0m5-28h0m13-110h0m6-63h0m4 161h0m13-115h0m3-7h0m1 47h0m20 80h0m2-5h0m2 9h0m2-13h0m4-11h0m1-80h0m3-49h0m2 138h0m1 103h0m8-252h0m6 40h0m6-24h0m9 88h0m2-89h0m6-51h0m1 85h0m7 180h0m3-159h0m16 63h0m10 69h0m0-37h0m0-132h0m9-16h0m2-81h0m15 136h0m1 135h0m6-23h0m9 18h0m0-128h0m7-96h0m6 132h0m11-61h0m0 72h0m1-52h0m1 134h0m2-146h0m3 70h0m1-7h0m3-126h0m9 84h0m0 111h0m7-138h0m8-3h0m1 73h0m4 16h0m2-77h0m2 83h0m13-7h0m7 36h0m5-123h0m5 161h0m1-174h0m4 38h0m19 89h0m4-25h0m20 70h0m5-51h0m44-23h0m135 91h0"/>
<path class="f" d="M552 899h0m58-50h0m1 62h0m22-49h0m8-38h0m46-79h0m7 131h0m4 72h0m1-128h0m5 141h0m5-123h0m2 48h0m11 72h0m0-143h0m12 0h0m18 71h0m2 65h0m2-74h0m8-99h0m2 68h0m13-24h0m2-20h0m4-19h0m2 78h0m3-24h0m4 27h0m2-84h0m3 43h0m3 114h0m5-34h0m1-37h0m10-113h0m9 87h0m5 77h0m2-24h0m0-133h0m2-1h0m1 92h0m2 117h0m3-106h0m3 81h0m6-163h0m4 121h0m2-77h0m8 125h0m6-55h0m2 78h0m1-238h0m5 183h0m3 63h0m0-18h0m5-162h0m1-10h0m5 117h0m2-144h0m0 159h0m10-21h0m0-150h0m1 52h0m1-4h0m6 93h0m2 15h0m2-96h0m5 204h0m4-54h0m2-28h0m1 11h0m2-133h0m2-116h0m2 263h0m1-211h0m3 97h0m0 98h0m1-110h0m7 160h0m6-178h0m1 18h0m4 126h0m4-34h0m3-83h0m0-70h0m2 46h0m1-22h0m7 123h0m2-92h0m2 75h0m2 38h0m0 11h0m1-247h0m12-28h0m4 163h0m3 35h0m6 83h0m9-238h0m2 211h0m19-185h0m0 110h0m0-15h0m2 89h0m1-98h0m1 112h0m3 41h0m3-108h0m1 45h0m1-105h0m6 95h0m1 37h0m3-80h0m1 47h0m2-171h0m12 208h0m13-193h0m2 78h0m4-41h0m3 15h0m0 160h0m2-57h0m1-118h0m1 95h0m1-24h0m1 98h0m3-175h0m2 90h0m5-154h0m15 290h0m0-212h0m2-6h0m2-36h0m4 137h0m1-52h0m9 76h0m0-21h0m2 55h0m4 65h0m1-159h0m8-24h0m2-73h0m2 162h0m2-96h0m1 21h0m0 40h0m3 56h0m0 14h0m6-4h0m3-36h0m2 12h0m2-56h0m2 76h0m6-20h0m8 12h0m5-31h0m3-144h0m9 37h0m0 139h0m14-81h0m0 33h0m20 32h0m0-54h0m2-187h0m38 128h0m19 15h0m9 155h0m9-29h0m2 96h0m7-185h0m15 169h0"/>
<path class="m" d="M477 829h0m105-166h0m17 55h0m4 221h0m3-19h0m39-231h0m19 162h0m4-9h0m10 37h0m20-110h0m7-47h0m12 100h0m1 48h0m24-119h0m2 191h0m2-96h0m1-17h0m1 57h0m11-12h0m0-179h0m0 161h0m2-38h0m12 115h0m0-73h0m3-50h0m2 112h0m8-148h0m13 7h0m14 39h0m5-35h0m3 109h0m0-125h0m10 115h0m4 0h0m0 27h0m10-122h0m2 103h0m2-179h0m2 55h0m2 169h0m2-43h0m0-45h0m3 14h0m0 78h0m0-147h0m13 22h0m1-11h0m0-22h0m1 56h0m2-53h0m2 40h0m2 52h0m0-76h0m10 107h0m2-126h0m3 61h0m1-96h0m0 103h0m6-29h0m8-35h0m5 135h0m2-46h0m5-23h0m0-38h0m9-61h0m10 18h0m4 19h0m8 76h0m1-26h0m6-18h0m0-45h0m3 7h0m6 119h0m7 39h0m2 16h0m10-66h0m1-63h0m5 120h0m3-117h0m4 2h0m0 138h0m3-49h0m5-88h0m1 43h0m6 101h0m2-70h0m2-111h0m6 58h0m8-47h0m0 198h0m5-165h0m2-20h0m9 61h0m2-43h0m3 59h0m1-124h0m9 69h0m2 156h0m10-170h0m2-55h0m4 42h0m6 29h0m0-58h0m7 108h0m2-35h0m0-2h0m1 97h0m0-71h0m8 59h0m1-102h0m9 132h0m2-12h0m1-109h0m1 70h0m1-139h0m0 42h0m4 98h0m2-41h0m2-149h0m8 64h0m0 227h0m11-91h0m9 9h0m4-84h0m1 25h0m5-172h0m1 255h0m18 2h0m5-24h0m9 34h0m3-81h0m0-48h0m1 100h0m13-81h0m7 45h0m2 20h0m1-13h0m1-26h0m15 74h0m5-227h0m14 208h0m5-98h0m8 38h0m12 43h0m9-59h0m1-4h0m48 97h0m10-94h0m88-116h0"/>
<path class="f" d="M615 920h0m11-56h0m14 3h0m30 90h0m15-125h0m0 63h0m9-2h0m11-60h0m6 38h0m2 4h0m4 27h0m21 43h0m6-14h0m3-118h0m4 52h0m2-108h0m5 40h0m3 81h0m1-230h0m3 150h0m1 62h0m1 43h0m1 73h0m5-106h0m2-76h0m8 41h0m3 70h0m1-8h0m9-78h0m1 41h0m4 40h0m1 12h0m4-49h0m0 55h0m1-38h0m0 5h0m2-62h0m1 60h0m1 77h0m3-105h0m4-19h0m1 4h0m0 105h0m10-137h0m6 98h0m3-111h0m1 52h0m0 32h0m1 36h0m2-26h0m5-19h0m1-145h0m0 48h0m1 80h0m7-37h0m3 94h0m0-91h0m3 108h0m9-9h0m1 51h0m3-71h0m0-48h0m3 25h0m5-35h0m5-13h0m1-48h0m1 120h0m2 49h0m1-130h0m1 17h0m4-34h0m0 57h0m4 116h0m2-103h0m0-43h0m1 65h0m3-132h0m7 153h0m1-50h0m5-14h0m1-67h0m1 123h0m4-47h0m2-3h0m1 74h0m2-86h0m0 69h0m0-149h0m8 193h0m1-91h0m2 55h0m4-206h0m2 123h0m3-144h0m1 70h0m1-27h0m0 188h0m1-194h0m2-7h0m1 66h0m1 176h0m1-149h0m8-71h0m0 139h0m1 80h0m1 21h0m3-256h0m4 54h0m1 16h0m2-15h0m3 96h0m7-88h0m0 148h0m1-161h0m3 142h0m1 67h0m4-171h0m1 145h0m2-46h0m2 41h0m1-17h0m0-177h0m2 199h0m6-146h0m2-81h0m1 115h0m8-93h0m0 149h0m4-207h0m3 46h0m1 137h0m11-22h0m0-212h0m1 240h0m3-68h0m1 85h0m3 32h0m4 67h0m0-143h0m0 157h0m1-82h0m2 10h0m0 27h0m3-148h0m8 65h0m5 85h0m2-161h0m2 3h0m0 90h0m0-42h0m3 12h0m1 64h0m3 35h0m0-131h0m1 105h0m3 13h0m1-123h0m2 87h0m1-101h0m2 96h0m14-14h0m1 62h0m1-83h0m1-16h0m3-100h0m4 93h0m0-31h0m0 117h0m7-56h0m3-19h0m1-149h0m12 239h0m3-106h0m4 33h0m5 13h0m3-91h0m2 93h0m3 93h0m3-148h0m6 92h0m3 4h0m2-107h0m2-26h0m7 102h0m0 23h0m6-67h0m2 45h0m5-36h0m3-133h0m4 161h0m5 27h0m2 32h0m9-130h0m10 20h0m3 81h0m8 27h0m1-115h0m2 54h0m12-15h0m15 3h0m1 66h0m3-122h0m14 87h0m17-34h0m1 57h0m1 19h0m10-159h0m10 85h0m1-6h0m17-1h0m3-3h0m105 6h0"/>
<path class="m" d="M607 834h0m19-10h0m8-108h0m37 289h0m3-143h0m7 16h0m16-127h0m2 68h0m12-19h0m10 83h0m9 23h0m7-29h0m0-2h0m2-125h0m1 124h0m4-10h0m11 28h0m3-47h0m3-30h0m3 50h0m1 22h0m2-158h0m3 78h0m2 80h0m9-33h0m0 46h0m2-31h0m7-63h0m1 124h0m1-39h0m4 6h0m2-224h0m0 190h0m0 41h0m4-37h0m3 62h0m2-167h0m1 59h0m2 94h0m9-15h0m3-41h0m1-29h0m4-10h0m2 125h0m2-141h0m16 56h0m11-14h0m3-70h0m6 171h0m10-76h0m8-24h0m1 38h0m2-69h0m1-67h0m10 136h0m1-23h0m3 65h0m1-84h0m1 67h0m1 24h0m2-111h0m2 15h0m1-68h0m1 65h0m1-143h0m6 138h0m5-10h0m0 53h0m0-24h0m1-77h0m5 5h0m1-43h0m1 118h0m2-34h0m2 64h0m2-7h0m1 15h0m1-28h0m1 13h0m1-66h0m2 7h0m2-1h0m0-27h0m6 37h0m11 48h0m1 29h0m2 56h0m1-79h0m3-126h0m1-14h0m2-3h0m0 51h0m2 36h0m3 86h0m0-16h0m6 3h0m6-75h0m2 150h0m2-77h0m6-127h0m2 43h0m6 79h0m5-18h0m1-81h0m2-43h0m3 91h0m1 61h0m2-30h0m0-75h0m3 25h0m1 2h0m2 89h0m0-62h0m2 82h0m0-34h0m0-47h0m2-7h0m4 95h0m1-50h0m1-23h0m2-132h0m2 136h0m0-53h0m0 97h0m1-36h0m4-151h0m2 131h0m3-50h0m0 158h0m1-160h0m3 78h0m3-57h0m2 27h0m17-25h0m0 158h0m1-98h0m1 52h0m3-45h0m4 42h0m1-23h0m1-128h0m1 101h0m12-27h0m6-121h0m6 177h0m3-75h0m3 68h0m12-15h0m2 52h0m12-68h0m1-107h0m3 231h0m3-130h0m0 63h0m8-57h0m0 28h0m1-37h0m4-12h0m6 56h0m1-75h0m17 50h0m8-43h0m2 73h0m1 33h0m3-90h0m0 5h0m5-28h0m0 46h0m20 8h0m10-18h0m24 87h0m95 9h0"/>
<path class="f" d="M527 734h0m11 90h0m31 25h0m35 17h0m14-49h0m0-57h0m31 157h0m18-67h0m4 5h0m2 108h0m5-190h0m5 77h0m31 44h0m2-21h0m0-26h0m2-77h0m0 47h0m7 54h0m1-3h0m2-111h0m7 221h0m1-159h0m8 67h0m6-27h0m10-108h0m2 46h0m4 20h0m5 82h0m10 41h0m1 37h0m9-93h0m3 60h0m1-67h0m1 46h0m3-41h0m1 67h0m1-198h0m5 73h0m1-78h0m5 162h0m0-105h0m0-9h0m1 127h0m1-73h0m1 148h0m3-130h0m4 68h0m3-141h0m1 23h0m1 38h0m3 48h0m4-68h0m1-59h0m1 96h0m1 29h0m1 31h0m6-115h0m0 11h0m0 16h0m0 10h0m6 124h0m1-112h0m1 129h0m3-159h0m2-119h0m2 169h0m9-50h0m1 75h0m0-171h0m2 124h0m0-128h0m1 11h0m1 18h0m7 135h0m1 8h0m3-90h0m0 80h0m0-73h0m2 135h0m1-72h0m0-29h0m1 31h0m6 43h0m2-18h0m0-46h0m1-6h0m0-30h0m1-56h0m3 204h0m2-312h0m2 285h0m0 5h0m3-81h0m1 9h0m1-18h0m7 78h0m3-3h0m4-42h0m0-58h0m2 143h0m1-231h0m1 169h0m0-13h0m1 63h0m2-24h0m1-168h0m1 49h0m0 91h0m3-26h0m0-103h0m1 112h0m1-178h0m0 198h0m0-104h0m5-38h0m1 5h0m0 126h0m0-154h0m1 175h0m0-91h0m2 32h0m0-44h0m4 131h0m1-109h0m5 39h0m1-21h0m0 78h0m1-67h0m0-122h0m5 135h0m1 45h0m0-13h0m4-61h0m1-143h0m4 109h0m0 31h0m2 15h0m2-41h0m2 117h0m0-84h0m1 37h0m2-53h0m0 114h0m1 4h0m0-67h0m2 30h0m1-92h0m0 86h0m3-49h0m2 31h0m1-44h0m2-48h0m2 84h0m0-56h0m6-77h0m2 24h0m1 37h0m2 32h0m1 55h0m2-97h0m1 37h0m0-134h0m4 161h0m2 85h0m1-121h0m2-44h0m1 29h0m0-18h0m1 75h0m2-28h0m1-106h0m3 126h0m4-51h0m1 36h0m1 48h0m3-7h0m0-110h0m4 173h0m1-77h0m1 31h0m5-61h0m1-41h0m4-46h0m0 77h0m1 40h0m2-7h0m1-44h0m1 88h0m2-15h0m1-101h0m2 84h0m1-143h0m10 171h0m1-46h0m1-29h0m0 27h0m2 82h0m2-164h0m2 132h0m0-71h0m8 35h0m0-25h0m3-31h0m3-20h0m0 99h0m2 109h0m1-124h0m7-2h0m2 4h0m2 2h0m4 4h0m3-93h0m0 68h0m1-64h0m0 52h0m1 23h0m3 42h0m2-74h0m0 13h0m3 35h0m3-142h0m2 161h0m4-101h0m0-54h0m4 143h0m1-98h0m4 91h0m1-23h0m9-18h0m1 45h0m5 44h0m2-23h0m8-39h0m0-121h0m4 38h0m5-18h0m14 109h0m6-11h0m6-22h0m1 57h0m0-117h0m2-81h0m7-11h0m5 258h0m3-167h0m1 8h0m8 203h0m1-139h0m7 25h0m3-29h0m3-30h0m18 29h0m11 13h0m12 5h0m14-26h0m11 116h0m16-159h0m15 138h0m13-219h0m47 236h0m35-80h0"/>
<path class="m" d="M572 878h0m5-2h0m0-16h0m8-87h0m22-17h0m40-16h0m1 114h0m11-37h0m21 156h0m0-47h0m42-139h0m4 78h0m8-141h0m7 179h0m2-78h0m6-36h0m3 70h0m1-6h0m5-48h0m7 77h0m4-54h0m2 92h0m1-97h0m5 55h0m2-40h0m1 95h0m2-59h0m3-57h0m1 26h0m3 75h0m0 38h0m1-135h0m11 104h0m2-124h0m9 10h0m2-51h0m1 156h0m1-76h0m1-74h0m2 141h0m1-124h0m3-20h0m1 106h0m1 23h0m2 10h0m1-39h0m0-94h0m6 24h0m4 33h0m0-21h0m7 33h0m0-24h0m1 65h0m0 43h0m1 27h0m3-62h0m1-2h0m5 15h0m3-22h0m2 2h0m2-80h0m2 92h0m1-33h0m0-58h0m1 104h0m1-21h0m0-14h0m2-51h0m6 17h0m3 22h0m4-91h0m0 67h0m3 36h0m4 45h0m0 11h0m2-123h0m3 77h0m1-87h0m12 91h0m1-36h0m1 52h0m2-75h0m1 107h0m3-146h0m6 53h0m1 80h0m2-24h0m1-19h0m2-63h0m1 39h0m0-22h0m2 54h0m2-90h0m2 143h0m7-233h0m0 201h0m2-125h0m1-28h0m0 205h0m1-72h0m2 11h0m2 37h0m3-87h0m0-48h0m1 62h0m2 55h0m2-59h0m1-108h0m1 109h0m0 74h0m1-40h0m1 55h0m1-103h0m0-79h0m1 69h0m1 58h0m0 66h0m1-94h0m2-13h0m0 143h0m4-69h0m1-1h0m6-74h0m3 10h0m6 59h0m0 48h0m1-3h0m0-9h0m0-90h0m2 9h0m2 10h0m0-53h0m2-61h0m1 139h0m0-190h0m3 67h0m0 102h0m1 24h0m0-140h0m0 57h0m1 110h0m0-85h0m4 47h0m1-37h0m1 44h0m0-185h0m1 136h0m6 34h0m0-60h0m1 83h0m2-210h0m1 116h0m3 60h0m1-35h0m2 31h0m1 26h0m4-106h0m0 142h0m1 16h0m2-86h0m1 21h0m1-74h0m1 144h0m0-8h0m2-192h0m3 145h0m5 2h0m1 0h0m0-123h0m10 134h0m0 11h0m2-127h0m6 94h0m0-76h0m1 45h0m0 66h0m1 40h0m1-91h0m2 59h0m1-20h0m0-23h0m1 62h0m1-102h0m1-11h0m0 69h0m7-55h0m3 46h0m3-13h0m1 23h0m3-37h0m2 54h0m1-196h0m0 143h0m5-127h0m4 125h0m6-68h0m0 56h0m1 63h0m1-116h0m3 123h0m6-39h0m0 53h0m1-4h0m7-232h0m4 261h0m5-93h0m1 38h0m2 24h0m0 39h0m6-187h0m2 32h0m9 66h0m1 78h0m4-13h0m3-42h0m14-41h0m10 31h0m1-11h0m1-6h0m6 40h0m3-16h0m16 24h0m5-70h0m2 138h0m8-92h0m27 69h0m6 19h0m5-72h0m2-129h0m31 90h0m156 88h0"/>
<path class="f" d="M629 894h0m133-63h0m9 19h0m21-5h0m5 25h0m13-72h0m39 6h0m81 83h0m40-78h0m15 116h0m1-188h0m9 14h0m57 19h0m132 178h0m63 2h0m8-48h0"/>
<path class="m" d="M736 897h0m59-130h0m66 109h0m32-14h0m2 32h0m19 42h0m41 72h0m0-129h0m31 86h0m10-139h0m4 50h0m52-35h0m11-162h0m73 189h0m3-99h0"/>
</g>
<path d="M170.0 400.8L196.8 403.8L223.6 406.7L250.4 409.6L277.2 412.5L304.0 415.4L330.8 418.4L357.5 421.3L384.3 424.2L411.1 427.1L437.9 430.0L464.7 432.8L491.5 435.7L518.3 438.5L545.1 441.2L571.9 444.0L598.7 446.7L625.5 449.4L652.2 452.2L679.0 454.9L705.8 457.6L732.6 460.3L759.4 463.1L786.2 465.8L813.0 468.5L813.0 472.1L786.2 469.2L759.4 466.3L732.6 463.3L705.8 460.4L679.0 457.5L652.2 454.6L625.5 451.7L598.7 448.7L571.9 445.8L545.1 443.0L518.3 440.1L491.5 437.2L464.7 434.4L437.9 431.6L411.1 428.9L384.3 426.1L357.5 423.4L330.8 420.7L304.0 418.0L277.2 415.2L250.4 412.5L223.6 409.8L196.8 407.1L170.0 404.4Z" fill="#92C5DE"/>
<path d="M160.0 400.2L186.5 402.9L212.9 405.6L239.4 408.3L265.8 410.9L292.3 413.6L318.8 416.3L345.2 419.0L371.7 421.6L398.1 424.3L424.6 427.0L451.0 429.6L477.5 432.2L504.0 434.8L530.4 437.3L556.9 439.9L583.3 442.4L609.8 444.9L636.2 447.4L662.7 449.8L689.2 452.3L715.6 454.8L742.1 457.3L768.5 459.8L795.0 462.3L795.0 465.7L768.5 463.0L742.1 460.4L715.6 457.7L689.2 455.0L662.7 452.3L636.2 449.6L609.8 447.0L583.3 444.3L556.9 441.6L530.4 439.0L504.0 436.4L477.5 433.8L451.0 431.2L424.6 428.7L398.1 426.2L371.7 423.7L345.2 421.2L318.8 418.7L292.3 416.2L265.8 413.7L239.4 411.2L212.9 408.8L186.5 406.3L160.0 403.8Z" fill="#0571B0"/>
<path d="M119.5 450.9 H127.5M119.5 283.7 H127.5M289.6 557.0 V562.2M486.4 557.0 V562.2M683.1 557.0 V562.2" stroke="#333" stroke-width="3.3" fill="none"/>
<path d="M127.5 156.0 V557.0 H845.5" stroke="#000" stroke-width="3.4" fill="none" stroke-linejoin="miter"/>
<text class="tk" text-anchor="end" x="111.3" y="542.2">0.5</text>
<text class="tk" text-anchor="end" x="111.3" y="462.9">1.0</text>
<text class="tk" text-anchor="end" x="111.3" y="379.3">1.5</text>
<text class="tk" text-anchor="end" x="111.3" y="295.7">2.0</text>
<text class="tk" text-anchor="end" x="111.3" y="210.7">2.5</text>
<text class="tk" text-anchor="middle" x="283.8" y="594.2">-2.5</text>
<text class="tk" text-anchor="middle" x="486.1" y="594.2">0.0</text>
<text class="tk" text-anchor="middle" x="682.9" y="594.2">2.5</text>
<text class="at" text-anchor="middle" x="486.8" y="630.4" textLength="275.4" lengthAdjust="spacingAndGlyphs">Normalised BMFF</text>
<text class="yt" text-anchor="middle" textLength="206" lengthAdjust="spacingAndGlyphs" transform="translate(32.9 366.6) rotate(-90)">BMD (g/cm<tspan class="sup" dy="-10.1">2</tspan><tspan dy="10.1">)</tspan></text>
<text class="pl" x="-0.5" y="139.0">A</text>
<text class="pt" x="161.8" y="142.0">Spine</text>
<g transform="translate(681.3 152.0)">
<rect x="0.75" y="0.75" width="163.0" height="116.1" rx="18" ry="18" fill="#FAF8F1" stroke="#000" stroke-width="1.5"/>
<path d="M55.0 9.8 V107.8" stroke="#000" stroke-width="1.9"/>
<text class="sb" x="12.6" y="32.3" style="font-family:'Liberation Serif',serif;font-size:29px">β</text>
<text class="sb" x="11.4" y="70.6">R<tspan style="font-size:18.6px" dy="-12.6">2</tspan></text>
<text class="sb" x="12.6" y="105.1" style="font-style:italic">P</text>
<text class="sb" text-anchor="middle" x="110.2" y="32.3">-0.045</text>
<text class="sb" text-anchor="middle" x="110.4" y="70.6">0.229</text>
<text class="sb" text-anchor="middle" x="110.6" y="105.1">&lt;2e-16</text>
</g>
</g>
<g id="panelB">
<path d="M1091.8 157.2 V558.6M1289.8 157.2 V558.6M1487.8 157.2 V558.6M1685.8 157.2 V558.6M1032.2 445.4 H1750.0M1032.2 331.4 H1750.0M1032.2 217.3 H1750.0" stroke="#e2e2e2" stroke-width="1.5" fill="none"/>
<path d="M1190.8 157.2 V558.6M1388.8 157.2 V558.6M1586.8 157.2 V558.6M1032.2 502.4 H1750.0M1032.2 388.4 H1750.0M1032.2 274.3 H1750.0M1032.2 160.3 H1750.0" stroke="#e5e5e5" stroke-width="3.0" fill="none"/>
<path d="M1185 374L1191 375L1197 370L1203 370L1209 357L1215 360L1221 372L1227 351L1233 353L1239 353L1245 346L1251 345L1257 335L1263 358L1269 358L1275 344L1281 330L1287 318L1293 315L1299 350L1305 321L1311 333L1317 326L1323 315L1329 313L1335 322L1341 322L1347 322L1353 308L1359 326L1365 322L1371 322L1377 325L1383 326L1389 307L1395 329L1401 329L1407 325L1413 336L1419 335L1425 331L1431 332L1437 341L1443 344L1449 344L1455 342L1461 341L1467 341L1473 352L1479 349L1485 349L1491 327L1497 350L1503 349L1509 343L1515 360L1521 360L1527 366L1533 349L1539 359L1545 373L1551 374L1557 357L1563 377L1569 384L1575 402L1581 428L1587 389L1593 407L1599 409L1599 429L1593 430L1587 444L1581 459L1575 457L1569 465L1563 466L1557 465L1551 458L1545 474L1539 474L1533 461L1527 463L1521 457L1515 459L1509 477L1503 476L1497 461L1491 470L1485 469L1479 470L1473 473L1467 473L1461 473L1455 474L1449 475L1443 480L1437 472L1431 467L1425 466L1419 476L1413 462L1407 463L1401 463L1395 468L1389 470L1383 465L1377 462L1371 462L1365 461L1359 452L1353 459L1347 463L1341 460L1335 458L1329 463L1323 463L1317 460L1311 457L1305 457L1299 455L1293 450L1287 464L1281 459L1275 466L1269 451L1263 452L1257 449L1251 442L1245 447L1239 448L1233 446L1227 444L1221 444L1215 442L1209 429L1203 408L1197 401L1191 423L1185 397Z" fill="#92C5DE"/>
<g transform="scale(.5)" fill="none" stroke-linecap="round" stroke-width="13.2">
<path class="f" d="M2273 833h0m51-67h0m178 168h0m185-309h0m286 335h0m0-278h0m140 127h0m114 108h0m35 1h0"/>
<path class="m" d="M2123 784h0m126-83h0m764-24h0m67 37h0m74 15h0m44 135h0"/>
<path class="f" d="M2213 852h0m100-43h0m59-72h0m38 115h0m88-179h0m19-3h0m849 301h0"/>
<path class="m" d="M2549 644h0m37-163h0m488 476h0m45-207h0m103 230h0"/>
<path class="f" d="M2303 919h0m26-203h0m191-171h0m221 85h0m160-35h0m60 68h0m155 150h0m11 130h0m141-154h0"/>
<path class="m" d="M2351 885h0m29-144h0m188-137h0m87 35h0m5 314h0m0-4h0m66 25h0m61-394h0m52 383h0m136-342h0m49 19h0m88 130h0m71-86h0m3 202h0m42-69h0"/>
<path class="f" d="M2343 822h0m122-198h0m196-15h0m343 0h0m196 165h0m58 89h0"/>
<path class="m" d="M2518 645h0m10 43h0m52-59h0m27-9h0m184-49h0m334 19h0"/>
<path class="f" d="M2265 718h0m94 166h0m15-233h0m105 270h0m54-351h0m48 67h0m8 316h0m166-14h0m23-298h0m43 1h0m108 32h0m10-20h0m16 125h0"/>
<path class="m" d="M2317 866h0m257-206h0m77-24h0m78 315h0m178-309h0m276 140h0"/>
<path class="f" d="M2587 899h0m181 47h0m79-7h0m254-203h0m26-10h0m74 82h0m20 27h0m76 68h0"/>
<path class="m" d="M2290 809h0m43-56h0m80-400h0m31 353h0m128 218h0m311-310h0m129 112h0m14-19h0m100 268h0m70-173h0"/>
<path class="f" d="M2241 726h0m62 165h0m32 12h0m1-207h0m69 18h0m196-66h0m31 298h0m8-458h0m45 452h0m173-312h0"/>
<path class="m" d="M2418 956h0m24-309h0m45 13h0m26-37h0m75 20h0m11-236h0m126 223h0m514 246h0"/>
<path class="f" d="M2290 858h0m48-65h0m37 84h0m80 57h0m120-322h0m26 327h0m23-369h0m209 394h0m27-327h0m22-1h0m50 61h0m144-27h0m94 137h0"/>
<path class="m" d="M2288 793h0m60-7h0m396-130h0m162-25h0m50 320h0"/>
<path class="f" d="M2268 733h0m169 46h0m87 149h0m47-302h0m3 8h0m187 20h0m230 2h0m53 56h0m20-8h0m75 245h0m31-12h0m62-73h0"/>
<path class="m" d="M2307 753h0m8 141h0m222-240h0m139 290h0m56-324h0m25 8h0m85 21h0m64 304h0"/>
<path class="f" d="M2353 730h0m2 52h0m54 49h0m14 6h0m72 116h0m199-1h0m103-350h0m85 372h0m157-263h0m116 200h0"/>
<path class="m" d="M2330 708h0m45 192h0m105-3h0m143 6h0m95-295h0m64-7h0m392 304h0"/>
<path class="f" d="M2320 791h0m18 41h0m166-172h0m132-25h0m122 12h0m126 317h0m128-282h0m67 61h0m18 181h0m16-104h0m33-1h0m10-12h0m76 126h0m145 23h0"/>
<path class="m" d="M2770 613h0m27-85h0m212 73h0m104 121h0m119 71h0"/>
<path class="f" d="M2298 879h0m174-182h0m46-38h0m149-44h0m11-7h0m366 354h0m36-3h0m81-242h0m43 202h0m77-4h0m5-108h0"/>
<path class="m" d="M2287 665h0m150 237h0m10-299h0m141 82h0m274-35h0m141 305h0m107-201h0m28 73h0m16-47h0m22-11h0"/>
<path class="f" d="M2189 919h0m130-37h0m80-6h0m37 16h0m56 4h0m101-231h0m231-70h0m14 65h0m2-40h0m4 40h0m47-10h0m74 39h0m156 22h0m10 156h0"/>
<path class="m" d="M2259 803h0m479-141h0m120-61h0m118 354h0m146 7h0m142-170h0"/>
<path class="f" d="M2375 705h0m267-63h0m123 322h0m12-376h0m12 55h0m91-58h0m18 352h0m101-245h0m54 1h0"/>
<path class="m" d="M2259 811h0m210-113h0m26 218h0m10-5h0m26 19h0m94-16h0m218 36h0m110-297h0m116 278h0m21-141h0m88 71h0"/>
<path class="f" d="M2396 816h0m111 74h0m61 47h0m81-303h0m57 19h0m222-23h0m106 65h0m83 108h0m44 125h0m4-2h0m51-59h0m8 12h0"/>
<path class="m" d="M2356 869h0m30-122h0m111 166h0m41 2h0m275-221h0m224 19h0m59 261h0m57-22h0m44-18h0m40-55h0"/>
<path class="f" d="M2400 741h0m24 125h0m43-61h0m60 102h0m47 10h0m69 34h0m25-330h0m44-7h0m4 342h0m55-291h0m110 277h0m38-278h0m90 51h0m28 11h0m19 206h0m44 78h0m26-99h0"/>
<path class="m" d="M2393 906h0m62-73h0m80 64h0m83-254h0m184 11h0m277 139h0m110 132h0"/>
<path class="f" d="M2284 696h0m137 159h0m30 79h0m92-289h0m86 270h0m119 37h0m55-502h0m181 220h0m1 84h0m111-38h0"/>
<path class="m" d="M2384 768h0m51-163h0m55 88h0m259-93h0m17 43h0m23 11h0m415 130h0"/>
<path class="f" d="M2337 836h0m53-3h0m7-86h0m42 111h0m157 75h0m81 12h0m413-18h0m36 36h0m14-229h0m52 99h0"/>
<path class="m" d="M2380 652h0m26 137h0m46 68h0m291-347h0m263 196h0"/>
<path class="f" d="M2172 788h0m127-17h0m164-81h0m61 204h0m33-208h0m50 243h0m107 44h0m193-297h0m226 250h0m139-50h0"/>
<path class="m" d="M2342 776h0m36 108h0m74-116h0m8-11h0m104-95h0m12 289h0m48-295h0m69 281h0m160-320h0m11 336h0m213-197h0m42 176h0m84-187h0m53 55h0m6 15h0"/>
<path class="f" d="M2383 811h0m0-34h0m93 127h0m98-419h0m177 151h0m94 263h0m135-209h0m28 263h0m54-27h0m3 24h0m2-204h0m22-62h0m51 119h0m12 120h0m6-216h0m2 115h0m117-109h0"/>
<path class="m" d="M2303 983h0m291-295h0m7 239h0m142 18h0m54 5h0m71-357h0m134 374h0m22-6h0m17-261h0m131 184h0"/>
<path class="f" d="M2332 867h0m32-43h0m40 67h0m9-116h0m41 141h0m16 6h0m11-62h0m356 105h0m18-300h0m11-39h0m33 345h0m55-282h0m52 35h0m22 226h0m14-247h0m81-29h0m0 197h0m3 95h0m10-103h0m41-115h0m27 166h0m19-76h0m33 11h0m128 144h0"/>
<path class="m" d="M2246 859h0m307-201h0m37-24h0m36 10h0m7 5h0m10-2h0m189-145h0m149 150h0m112 258h0"/>
<path class="f" d="M2279 654h0m159 109h0m7-114h0m11 124h0m15-67h0m11 139h0m16 71h0m3-276h0m163 11h0m70-14h0m288 85h0m3 217h0m87 29h0m122-48h0"/>
<path class="m" d="M2401 842h0m55 59h0m503-213h0m72 248h0m113-2h0m88-40h0m12 27h0m16-83h0"/>
<path class="f" d="M2386 870h0m21-56h0m115-148h0m5-13h0m52 273h0m113-347h0m38 76h0m178-15h0m126 313h0m73-238h0m23 26h0"/>
<path class="m" d="M2272 784h0m47 47h0m9-180h0m84 91h0m20 127h0m23-143h0m10-10h0m22-19h0m7-43h0m401-2h0m140 39h0m245 76h0"/>
<path class="f" d="M2309 803h0m27-34h0m47 57h0m32 15h0m11 14h0m3-151h0m40-51h0m50-78h0m8 348h0m350-277h0m37-143h0m168 224h0m24 211h0m35-10h0m5-133h0m15 127h0m43-53h0m75 15h0"/>
<path class="m" d="M2360 793h0m97 91h0m15-215h0m164 236h0m64-257h0m318 103h0"/>
<path class="f" d="M2307 809h0m64-11h0m33-46h0m6 66h0m293 171h0m139-394h0m88 52h0m165 247h0m120-2h0"/>
<path class="m" d="M2206 787h0m56-31h0m71 100h0m12-41h0m40 27h0m31-137h0m77 246h0m23-47h0m197-273h0m14 39h0m157 2h0m21 50h0m137 229h0m13-277h0m4 54h0m15-24h0m32 197h0"/>
<path class="f" d="M2342 782h0m16-36h0m69 144h0m12 11h0m22-42h0m92-211h0m75 270h0m68-283h0m40 16h0m8 13h0m58-34h0m8 376h0m19-388h0m20-9h0m87 368h0m14-27h0m55 16h0m86-7h0m50-196h0m19 109h0m3-76h0"/>
<path class="m" d="M2324 858h0m40-95h0m43-31h0m41-37h0m6-44h0m16 29h0m53 234h0m19 21h0m361-262h0m21 14h0m5 149h0m156-106h0m60-28h0m22 111h0m135 64h0"/>
<path class="f" d="M2349 690h0m21 162h0m57 90h0m12-251h0m52-14h0m19 263h0m10-326h0m20 22h0m82 33h0m36-55h0m35 32h0m46-32h0m50 51h0m199 8h0m183 92h0m47 108h0"/>
<path class="m" d="M2332 837h0m373-238h0m77 364h0m95-40h0m333-143h0m45 37h0"/>
<path class="f" d="M2206 714h0m201 57h0m70 13h0m177-162h0m3 39h0m65 9h0m10 254h0m22-273h0m17 3h0m46 302h0m72-33h0m122-175h0m8 205h0m59-1h0m7-262h0m1 245h0m153-44h0"/>
<path class="m" d="M2285 762h0m42 33h0m83-38h0m15 75h0m63-163h0m152 17h0m81 246h0m46-301h0m12 13h0m34-50h0m20 366h0m188 4h0m51-234h0m76 102h0"/>
<path class="f" d="M2331 732h0m40 89h0m6 81h0m24-142h0m101-30h0m67-42h0m32 233h0m42 43h0m83-322h0m87-49h0m40 31h0m34-27h0m27 49h0m16 91h0m20-194h0m24 113h0m49 346h0m3-288h0m3 222h0m62-186h0m88 172h0m39 81h0"/>
<path class="m" d="M2260 612h0m69 255h0m62-143h0m0 7h0m31 63h0m9-40h0m74-86h0m247-7h0m56-24h0m166 7h0m71 293h0m108-204h0m28 59h0"/>
<path class="f" d="M2385 854h0m102 51h0m90 35h0m4-319h0m57 28h0m101 297h0m57-1h0m141-274h0m77 60h0m1 185h0m2-210h0m163 111h0m24 63h0"/>
<path class="m" d="M2557 944h0m59-286h0m59-23h0m57 312h0m19-297h0m27 305h0m287-196h0m14 186h0m10-223h0m33 141h0m63 4h0m74 19h0"/>
<path class="f" d="M2271 786h0m97 18h0m2-64h0m20 20h0m92-2h0m9 143h0m23-217h0m57 11h0m16 236h0m26-257h0m30 272h0m129-338h0m120 325h0m63 10h0m95-212h0m19 171h0m19-166h0m0 221h0m14-210h0m17 203h0m6-13h0m31-142h0m75 8h0"/>
<path class="m" d="M2261 677h0m99-106h0m42 160h0m44-25h0m12 132h0m22-155h0m7 78h0m59-203h0m36 54h0m39 29h0m87-27h0m25 52h0m40-77h0m36 338h0m36-205h0m13 285h0m148-320h0m8 195h0m88 67h0m9-24h0m19 10h0m51-130h0"/>
<path class="f" d="M2379 695h0m52 16h0m50-14h0m0-116h0m27 82h0m27 63h0m65-89h0m16 285h0m49-25h0m29-195h0m82-46h0m11 272h0m10-264h0m23-2h0m16-1h0m109 34h0m8 16h0m62 2h0m74 169h0m100-94h0m12 1h0"/>
<path class="m" d="M2310 747h0m78 170h0m40-35h0m23-132h0m31-11h0m38-77h0m70-40h0m145 298h0m43-380h0m17 137h0m31-29h0m44 23h0m112 49h0m37 219h0m118-160h0m25-59h0m4 62h0"/>
<path class="f" d="M2161 833h0m166-3h0m70-150h0m20 148h0m56-113h0m19-15h0m47 30h0m37-44h0m34-21h0m31-38h0m144 46h0m2-58h0m67 325h0m36 29h0m21-285h0m17-6h0m34 78h0m22 180h0m11-295h0m194 111h0m57 128h0m4 10h0m36-141h0"/>
<path class="m" d="M2385 796h0m78 136h0m34-220h0m26 213h0m3-203h0m15-55h0m57 26h0m8-56h0m48 32h0m123-3h0m169 7h0m77-6h0m42 53h0m20 247h0m23-289h0m117 150h0"/>
<path class="f" d="M2345 802h0m48 53h0m11-92h0m25 63h0m18 64h0m2 7h0m16-198h0m73 46h0m8 156h0m90-293h0m31 340h0m219-31h0m2 3h0m45-260h0m35 65h0m25-78h0m90 153h0m23-57h0m33 157h0m105 22h0"/>
<path class="m" d="M2368 702h0m10 69h0m8 19h0m58 145h0m4-53h0m3-148h0m7 41h0m47-147h0m14 45h0m19 52h0m67-77h0m25 24h0m306-11h0m41 51h0m5 236h0m4-310h0m18 65h0m7 65h0m25 185h0m112-248h0m3 168h0m31 56h0"/>
<path class="f" d="M2419 766h0m75 122h0m168-263h0m130 307h0m30-276h0m241 111h0m8-80h0m2 37h0m14 46h0m31 135h0m41-12h0m161 74h0"/>
<path class="m" d="M2411 670h0m5 61h0m70 112h0m17-155h0m5 59h0m116-121h0m35 11h0m122-7h0m29 13h0m60 304h0m30-238h0m54-9h0m38 28h0m76-92h0m67 248h0m36-62h0"/>
<path class="f" d="M2355 784h0m2 90h0m49-52h0m9-95h0m89-29h0m66 203h0m40 19h0m86-267h0m77-132h0m80 408h0m4-204h0m61-53h0m10-41h0m20 2h0m53 279h0m20-257h0m6 65h0m50-27h0m38 106h0m51 47h0m79-45h0m8 88h0"/>
<path class="m" d="M2361 774h0m7-24h0m37 159h0m80-42h0m50-101h0m15-91h0m63-10h0m21 10h0m4-56h0m74-65h0m170 384h0m48-286h0m29 78h0m39 211h0m109-12h0m8-143h0m5 39h0m31-43h0m13 102h0m21-108h0m40 92h0"/>
<path class="f" d="M2286 896h0m112 19h0m37-166h0m33 23h0m35-63h0m5 20h0m11-38h0m46 207h0m58-208h0m109 249h0m181 3h0m99 18h0m83-267h0m46 248h0m52-73h0m7 22h0m24-46h0"/>
<path class="m" d="M2175 899h0m133-149h0m26 69h0m29 0h0m2-85h0m11 22h0m7-76h0m39 119h0m15 0h0m33 18h0m22 56h0m29-144h0m35 179h0m17-213h0m88 225h0m6-256h0m46-27h0m143 338h0m32-164h0m2 271h0m52-434h0m3 301h0m14-50h0m1 25h0m49-167h0m3 164h0m35-267h0m46 128h0m52 71h0"/>
<path class="f" d="M2304 800h0m37 59h0m18-52h0m12-59h0m1-36h0m100 187h0m1-253h0m2 210h0m35 31h0m31 57h0m8-4h0m3-25h0m61-236h0m82-76h0m59 352h0m44-49h0m31 20h0m81-216h0m69 19h0m9-35h0m123 88h0m34 8h0m21 64h0m12-98h0m67 11h0"/>
<path class="m" d="M2349 840h0m16-51h0m39-5h0m29 131h0m7-199h0m16 142h0m33-9h0m16-131h0m70-121h0m37 11h0m28 298h0m378 151h0m41-369h0m104 218h0"/>
<path class="f" d="M2258 856h0m121-141h0m17 111h0m3 13h0m4-37h0m36-51h0m15 8h0m13 135h0m9-22h0m72 47h0m20-262h0m26 24h0m50 259h0m83-256h0m74 277h0m21-287h0m12 278h0m86-245h0m43 224h0m8-203h0m12 31h0m28-103h0m60 41h0m8 216h0m3-12h0m108-86h0m31 90h0"/>
<path class="m" d="M2346 760h0m29 79h0m24-199h0m13 232h0m3-101h0m91-64h0m229-67h0m135 281h0m9-283h0m36 49h0m51 195h0m41-135h0m16-22h0m1 198h0m17 0h0m33-4h0m9-171h0m9 105h0m12-89h0m36 172h0m31-19h0m17-63h0m73-103h0m4 111h0"/>
<path class="f" d="M2163 647h0m146 134h0m28 42h0m15-140h0m68 119h0m4-65h0m9 7h0m5-8h0m20-77h0m50 212h0m8-31h0m23 38h0m30-156h0m14-47h0m35-34h0m8 246h0m68 5h0m143 59h0m18 7h0m54-25h0m27-247h0m21 33h0m3 18h0m77 30h0m82 45h0m10 41h0m16-67h0m18 151h0m6-124h0m2 99h0m4 9h0m116-88h0"/>
<path class="m" d="M2317 820h0m40 27h0m4-78h0m10-88h0m68 85h0m3 5h0m41 107h0m69-330h0m26 388h0m1-271h0m74 243h0m1-231h0m29-22h0m118 7h0m13 20h0m44-14h0m72 282h0m66-250h0m65 209h0m47-124h0m4-83h0m5 238h0m53-131h0m117 74h0m13 9h0"/>
<path class="f" d="M2381 677h0m9 218h0m8-80h0m18-51h0m2 18h0m1-57h0m5 97h0m30-109h0m9 105h0m6-83h0m83 200h0m17-267h0m23-85h0m39 315h0m17-21h0m12-202h0m51-118h0m7 93h0m3 33h0m45-79h0m26 351h0m13-339h0m33 327h0m30-29h0m32-237h0m17 69h0m7-65h0m18 33h0m2 8h0m33-48h0m73 271h0m20-21h0m6 7h0m8-221h0m23 29h0m26 29h0m1 52h0m9 68h0"/>
<path class="m" d="M2399 615h0m75 277h0m16-157h0m60 5h0m35 186h0m28-294h0m5 63h0m39 3h0m3 238h0m27-235h0m21-8h0m14-2h0m103 212h0m6 37h0m64-212h0m18-66h0m5 293h0m57-18h0m7-237h0m24 257h0m52-179h0m60-72h0m25 168h0m12-69h0m31 157h0"/>
<path class="f" d="M2375 859h0m34-61h0m5 49h0m22-20h0m4 57h0m44-90h0m34-90h0m19 206h0m35-164h0m36-127h0m23 77h0m9 212h0m12-252h0m62 32h0m47-25h0m5 14h0m38 10h0m5-234h0m45 231h0m72 241h0m61-218h0m1 37h0m53 224h0m14-16h0m51-72h0m10-165h0m13 88h0m43-26h0m8 67h0m3-1h0m27 32h0"/>
<path class="m" d="M2323 737h0m27 14h0m5 151h0m55-36h0m90-167h0m27 181h0m5 31h0m26-183h0m26-46h0m46 270h0m20-278h0m126 279h0m0-340h0m44 274h0m51-230h0m67 61h0m36 210h0m18-173h0m57 17h0m40 73h0m21-103h0m145 98h0"/>
<path class="f" d="M2366 818h0m22-11h0m2 21h0m2 14h0m16-115h0m47 84h0m31 68h0m36-66h0m22 99h0m13-255h0m6 269h0m6-200h0m11-11h0m13 192h0m6-234h0m25 7h0m23 21h0m7 110h0m14-165h0m0 267h0m125-277h0m40 294h0m18 27h0m5-277h0m106 22h0m6 244h0m5-217h0m32 113h0m7-99h0m10 216h0m8-230h0m5 173h0m12-157h0m15-10h0m34 175h0m38-82h0m5 12h0m35 32h0"/>
<path class="m" d="M2157 824h0m192 34h0m75-154h0m0-36h0m16 115h0m27-31h0m12 165h0m5-112h0m25-123h0m17 101h0m15-20h0m5 168h0m37-264h0m45-6h0m38 21h0m5 229h0m53-284h0m17 43h0m14-8h0m29 277h0m8-254h0m54 237h0m29-243h0m1 277h0m24 4h0m21-320h0m32 109h0m27 12h0m120 193h0m11-111h0m12-70h0m28 110h0m11-17h0m44-30h0"/>
<path class="f" d="M2199 842h0m155-1h0m45-105h0m20 111h0m28 25h0m6-165h0m21 113h0m2-118h0m65 9h0m9-6h0m2 63h0m17 112h0m47 27h0m49-210h0m6 1h0m13-25h0m61-7h0m14-149h0m50 148h0m76 286h0m19-255h0m28 246h0m29-2h0m31-24h0m32-4h0m39-138h0m16 56h0m22 17h0m27-47h0m13 18h0m5 147h0m43-21h0m11-98h0m10 9h0m11 79h0"/>
<path class="m" d="M2276 816h0m61-119h0m10 148h0m60-26h0m10 66h0m0-41h0m9-66h0m17-85h0m32 193h0m11-174h0m204-1h0m35-16h0m12 13h0m105-36h0m23 24h0m19-4h0m29 164h0m26-174h0m14 39h0m78 207h0m57-99h0m9 6h0m39-26h0m72 46h0m2 51h0m39-96h0m54 15h0"/>
<path class="f" d="M2320 554h0m67 183h0m41 130h0m72-22h0m62-208h0m33 246h0m32 12h0m44-203h0m12-14h0m19 231h0m3-245h0m24 255h0m40-281h0m5 287h0m6-250h0m13-14h0m8 19h0m11-43h0m2 279h0m28 7h0m23-259h0m14 9h0m12 272h0m6 8h0m35-235h0m42 201h0m28-178h0m6 120h0m48-74h0m5 136h0m1 59h0m18-218h0m14 80h0m1 5h0m6-68h0m16 59h0m6 11h0m35 7h0m6 93h0m6 16h0"/>
<path class="m" d="M2215 744h0m106 68h0m22 5h0m84 30h0m3 51h0m22-154h0m42 47h0m5 46h0m8-207h0m19 129h0m106-175h0m115-21h0m39 90h0m85 50h0m17-2h0m24 226h0m27-9h0m33-231h0m17 43h0m16 174h0m3 10h0m1 16h0m14-3h0m23-225h0m23 110h0m18-52h0m21 126h0m65-10h0m112 24h0m32-12h0"/>
<path class="f" d="M2355 722h0m9 92h0m108 14h0m25 45h0m8-8h0m19-78h0m37-87h0m11 1h0m1 187h0m11 59h0m51-236h0m10-49h0m1-13h0m26 26h0m14-11h0m1 271h0m6-269h0m5-26h0m74 35h0m29-27h0m17 57h0m16 8h0m14-31h0m83 247h0m50-205h0m2 194h0m9 1h0m10 72h0m0-269h0m0 223h0m2-209h0m16-61h0m20 81h0m22 141h0m7-101h0m14 128h0m11-23h0m21-68h0m13-18h0m24 23h0m21 23h0"/>
<path class="m" d="M2412 714h0m32 113h0m4-157h0m52 66h0m77-54h0m2-5h0m4 205h0m126-174h0m9-63h0m41 83h0m5 4h0m45-64h0m10 47h0m38 225h0m66 5h0m18-241h0m39 3h0m11-57h0m13 130h0m10-93h0m1 87h0m77 35h0m15-14h0m56 51h0"/>
<path class="f" d="M2375 784h0m26 1h0m7-68h0m49 135h0m7-22h0m38-86h0m22-85h0m21 83h0m5-47h0m22 164h0m15-140h0m4 199h0m7-289h0m39 262h0m68 68h0m36-259h0m43 11h0m69 203h0m7 19h0m53-274h0m2 287h0m6-236h0m4 1h0m19-5h0m19-38h0m14 5h0m18 113h0m25-52h0m9-11h0m17 71h0m8 91h0m2 7h0m41-136h0m2 159h0m4-108h0m47 5h0m77 115h0m10-111h0"/>
<path class="m" d="M2264 574h0m103 162h0m44 151h0m11-140h0m17-22h0m28-91h0m22 48h0m11 79h0m5 98h0m39-175h0m6 37h0m3 28h0m30 141h0m17-129h0m7-65h0m4-7h0m43 214h0m62 12h0m25 3h0m1-277h0m43-28h0m57 20h0m16 88h0m15-27h0m49 41h0m18 6h0m27 132h0m44 111h0m8-155h0m59-133h0m30 155h0m12 26h0m23-36h0m5-35h0m1-48h0m21 214h0m2-139h0m16 31h0"/>
<path class="f" d="M2358 728h0m52-2h0m15 159h0m39-96h0m7 12h0m1 63h0m11-37h0m4-104h0m9 138h0m9-6h0m9-39h0m14 76h0m0-64h0m14-34h0m4-3h0m39 104h0m24-163h0m10 186h0m56-252h0m45 32h0m13-11h0m21 13h0m1-36h0m16 250h0m18-197h0m18 232h0m6-231h0m8 229h0m2-266h0m51 231h0m15 2h0m13-161h0m0 192h0m18-5h0m15-69h0m3 55h0m24-13h0m1-209h0m8 186h0m1-88h0m44 89h0m10-147h0m47 166h0m4-33h0m4-3h0m13-84h0m5 149h0m10-44h0m4 44h0m6-83h0m6 27h0m92 14h0m37-61h0"/>
<path class="m" d="M2327 776h0m30 56h0m36-56h0m38-58h0m7 74h0m8-36h0m3 112h0m0-69h0m13-90h0m8 71h0m0-41h0m1 171h0m0-41h0m26-200h0m31-36h0m8 59h0m9 40h0m2 67h0m4 102h0m10-219h0m3-32h0m15-52h0m10 67h0m25 152h0m23 110h0m6-259h0m31 52h0m19-27h0m33-169h0m49 153h0m62 21h0m19-43h0m124 258h0m5-100h0m40-7h0m22 41h0m62-10h0m3 76h0m8-144h0m7 148h0m54-39h0"/>
<path class="f" d="M2372 641h0m35 236h0m5-75h0m36-44h0m2 119h0m8-276h0m36 51h0m3-137h0m40 183h0m26 56h0m6 28h0m1-107h0m28 231h0m14 5h0m10-156h0m14-67h0m14 247h0m8-228h0m21-26h0m83 256h0m21 8h0m27 1h0m20-239h0m11-31h0m7-22h0m1 278h0m11-230h0m17-78h0m77 310h0m19-197h0m5 171h0m7-4h0m9-35h0m11 49h0m12-104h0m20-99h0m11 196h0m0-131h0m2-60h0m11 25h0m4 134h0m2-102h0m30 214h0m15-285h0m15 79h0m2 9h0m10 160h0m2-103h0m5-96h0"/>
<path class="m" d="M2352 828h0m26-21h0m28-55h0m11-76h0m7 24h0m33-12h0m18 41h0m15 99h0m41-9h0m17 35h0m40 2h0m7 0h0m2-24h0m26-154h0m11 46h0m27-59h0m49 263h0m27-241h0m41 14h0m22 222h0m8-56h0m25 77h0m37-199h0m30-59h0m22 33h0m4 37h0m26 63h0m23-18h0m13 118h0m1-238h0m4 248h0m15 7h0m3-164h0m3 12h0m5-17h0m19 33h0m31-59h0m7 164h0m50-76h0m74 23h0m2-32h0m233 75h0"/>
<path class="f" d="M2325 832h0m71-55h0m34 10h0m17 110h0m14-159h0m10 12h0m6 69h0m8-91h0m10 9h0m19 127h0m2-237h0m7 239h0m1-113h0m19-30h0m0 12h0m15-53h0m2 58h0m22 169h0m20-204h0m1 35h0m12-36h0m8-86h0m7 1h0m7 38h0m3 266h0m2-154h0m40 2h0m16-53h0m19 204h0m1-241h0m21-55h0m16 15h0m8 47h0m2 238h0m19 47h0m23-58h0m4-290h0m6 204h0m29 105h0m11-28h0m7-4h0m1 39h0m1-5h0m16-252h0m9 250h0m38-240h0m38 98h0m11-47h0m10-5h0m3 162h0m16-106h0m2-4h0m29 3h0m4 108h0m3-40h0m20-166h0m7 251h0m8-133h0m5 103h0m19-228h0m37 101h0m8-10h0m5 79h0m66 46h0m88 27h0"/>
<path class="m" d="M2273 888h0m174-67h0m30-97h0m17 91h0m2 18h0m3-48h0m1 68h0m24-103h0m10 115h0m14-186h0m11 216h0m6-160h0m25 41h0m6-42h0m20 164h0m44 26h0m0-253h0m2 207h0m3 48h0m26-249h0m7-1h0m68 45h0m11 207h0m25-253h0m28 14h0m4 224h0m22-206h0m10 50h0m12 79h0m26-61h0m59 126h0m2-193h0m3-74h0m1 131h0m0 184h0m5-196h0m9 140h0m40-15h0m4 20h0m34-84h0m5 29h0m4-42h0m11-53h0m15 130h0m48 29h0m4-93h0m9 61h0m49-99h0"/>
<path class="f" d="M2320 784h0m33 10h0m60 66h0m14-73h0m14-45h0m2 123h0m12-44h0m5-15h0m13 27h0m11 58h0m10-65h0m15-108h0m7 175h0m3-58h0m0 17h0m12-112h0m3 136h0m13 14h0m7 32h0m3-94h0m4 34h0m30 33h0m4-84h0m1 57h0m17-121h0m10 39h0m19 148h0m13-7h0m34-24h0m12-188h0m21-56h0m15 63h0m3 179h0m8-1h0m7 3h0m9-195h0m46-3h0m4-27h0m4-224h0m0 166h0m9 153h0m4-107h0m22-83h0m12 125h0m3 203h0m26-170h0m4 174h0m3 43h0m1 25h0m7-66h0m16-160h0m8-28h0m16 33h0m19 51h0m5 70h0m17 65h0m0-261h0m35-4h0m14 39h0m1 86h0m19-1h0m3-107h0m8 124h0m2-37h0m10 35h0m2 75h0m7-156h0m2 60h0m7 84h0m3-68h0m8-55h0m7 30h0m26-20h0"/>
<path class="m" d="M2331 851h0m10-71h0m74-93h0m17 152h0m19-35h0m3 52h0m8-132h0m13 82h0m18-55h0m17-63h0m2 159h0m24 41h0m1-3h0m2-26h0m8-145h0m9 75h0m4-139h0m4 172h0m7 31h0m5-437h0m2 493h0m4-246h0m9 121h0m4-41h0m22 149h0m5-193h0m10 3h0m45 219h0m10-286h0m12 27h0m78 44h0m3 189h0m67-199h0m35 139h0m47-92h0m19 27h0m23-54h0m3 78h0m33-37h0m7 133h0m14-127h0m3-84h0m3 217h0m5-110h0m4 34h0m9 90h0m4-75h0m12 25h0m1 27h0m6-77h0m16 82h0m6-121h0m11 132h0m75-28h0m63-1h0m43 4h0"/>
<path class="f" d="M2311 700h0m44 106h0m13-27h0m61-6h0m2 36h0m0 12h0m8 64h0m35-184h0m8 90h0m2-18h0m3 60h0m11-66h0m59-21h0m11 174h0m14-72h0m5-141h0m18 71h0m2 100h0m17 15h0m10-190h0m7 0h0m0-11h0m3 218h0m16-221h0m4 74h0m19-68h0m10 189h0m8-172h0m7 120h0m3 29h0m1 46h0m14-187h0m6 117h0m1-189h0m18-2h0m4 277h0m3-9h0m21 49h0m2-222h0m3-42h0m1 221h0m5-27h0m8-209h0m1 251h0m13 1h0m9-163h0m10 10h0m26-88h0m11 194h0m1 20h0m16-195h0m0 70h0m2-47h0m3-51h0m2 59h0m12 17h0m14-67h0m2-23h0m13 32h0m10 75h0m1-151h0m0 191h0m10 106h0m19-12h0m5-115h0m9 59h0m6 33h0m7-133h0m11 32h0m2 117h0m1-36h0m1 34h0m1-165h0m6 45h0m7-46h0m6-45h0m3 139h0m8 41h0m1 20h0m5-78h0m13 100h0m9-267h0m26 170h0m0-16h0m5 23h0m10 85h0m3-167h0m20 174h0m5-51h0m76-16h0"/>
<path class="m" d="M2377 858h0m50-113h0m5 69h0m57-50h0m7 93h0m4-27h0m1-84h0m4 153h0m7-98h0m1-76h0m7 82h0m20 46h0m4-39h0m7 65h0m6-227h0m37 168h0m9 113h0m43-216h0m3 183h0m4-78h0m4 78h0m17-255h0m7 211h0m6 37h0m21-17h0m23-145h0m6 44h0m3-40h0m1-55h0m7 48h0m0 41h0m13 146h0m62-214h0m14 31h0m0-43h0m25 31h0m83 185h0m20-245h0m8 98h0m20 0h0m6 170h0m42-8h0m6-116h0m2 119h0m6-130h0m4 72h0m16 26h0m29-104h0m42 100h0m212 55h0"/>
<path class="f" d="M2318 765h0m43 159h0m8-8h0m5-205h0m18 21h0m20 34h0m25 41h0m5-2h0m28 33h0m35-28h0m23-2h0m4-90h0m1-6h0m3 111h0m3-40h0m3-32h0m12 125h0m0-22h0m20 1h0m3-18h0m6-140h0m4 8h0m12-13h0m3 90h0m21 159h0m18-50h0m11 26h0m22-63h0m5 56h0m0-19h0m8-123h0m5-79h0m7 210h0m4-20h0m3-178h0m3-93h0m10 294h0m6-198h0m5 13h0m2-16h0m10 187h0m2 35h0m11-255h0m3-44h0m5 92h0m5-22h0m9 246h0m3-248h0m17 53h0m1 176h0m3-154h0m10-113h0m6 109h0m2-73h0m2 48h0m3-10h0m14-88h0m1 297h0m3-353h0m55 337h0m14-215h0m7 52h0m7 120h0m11 6h0m7-73h0m1 102h0m12-172h0m7 10h0m9-54h0m3 92h0m19-72h0m1 76h0m6-85h0m8 168h0m24-53h0m4 91h0m3-29h0m12-41h0m4 36h0m12-116h0m11 23h0m12-12h0m3 40h0m0 36h0m8 73h0m10-100h0m19-69h0m178 78h0"/>
<path class="m" d="M2349 714h0m33 200h0m15-51h0m61-77h0m17-24h0m7-108h0m7 204h0m9-37h0m3-43h0m2 37h0m9 38h0m5 10h0m10-157h0m4 84h0m3-1h0m1 23h0m4 22h0m1 16h0m10-163h0m10 22h0m2 185h0m1-119h0m5-47h0m2-16h0m7 37h0m17 20h0m12-18h0m3 70h0m5 6h0m7-240h0m2 147h0m2-12h0m5 27h0m9 71h0m3 109h0m5-308h0m15 23h0m18 39h0m3 228h0m4-191h0m16 197h0m11-162h0m21 138h0m10-146h0m12-47h0m0 238h0m2-265h0m2 237h0m0-33h0m16-97h0m21-91h0m12 224h0m9 13h0m2-170h0m15 105h0m2 6h0m20-134h0m5 120h0m2-107h0m28 37h0m12 68h0m2-233h0m4 116h0m0-144h0m1 158h0m3 213h0m6-26h0m12-66h0m20-83h0m23 29h0m17-33h0m1 114h0m56-131h0m2-24h0m5 160h0m35-137h0m12 101h0m27-28h0m47 14h0m2 122h0m115-159h0"/>
<path class="f" d="M2234 838h0m140-77h0m23 167h0m6-69h0m33-91h0m10-29h0m7 109h0m3-151h0m0 96h0m53 29h0m5 55h0m10-44h0m1 90h0m1-53h0m22-113h0m1 22h0m1 41h0m12-9h0m12-104h0m6 30h0m2 67h0m4-105h0m2 71h0m1 117h0m20-165h0m1 108h0m1 59h0m10-258h0m14 130h0m1-95h0m26 57h0m11-66h0m26 135h0m1-180h0m0 303h0m3-138h0m9-56h0m8-51h0m7 66h0m9-59h0m2 257h0m2-226h0m12 225h0m2-50h0m0-79h0m4-56h0m7-47h0m7 232h0m10-211h0m7 0h0m6 177h0m3 18h0m4-224h0m3 37h0m5 61h0m2 75h0m1-99h0m15-3h0m9 92h0m9-183h0m6 37h0m5-177h0m1 384h0m1-66h0m3 100h0m9-217h0m5-30h0m23 59h0m7-44h0m1 50h0m5 115h0m5 27h0m0-150h0m4 119h0m0-98h0m9-15h0m16 194h0m4-62h0m26-317h0m3 358h0m5 6h0m15-58h0m18-11h0m3 51h0m5-112h0m5 29h0m2 75h0m5-68h0m8-36h0m11 55h0m38-76h0m1 77h0m16 25h0m4-22h0m1-13h0m10-117h0m8 164h0m27 58h0m15-115h0"/>
<path class="m" d="M2372 790h0m5 11h0m18-8h0m23 9h0m24 15h0m6-73h0m23-22h0m1 73h0m39 110h0m3-148h0m5 37h0m4-60h0m12 49h0m1 72h0m3-25h0m18 90h0m3-132h0m1-45h0m0 92h0m5-23h0m0 12h0m10-66h0m6-6h0m5 72h0m7-107h0m4 201h0m5-71h0m2 9h0m10-4h0m2-18h0m2-76h0m0 101h0m6-149h0m16 67h0m25 132h0m15-127h0m12-257h0m6 205h0m7 60h0m22 26h0m9-65h0m9-72h0m8 28h0m2 13h0m5 175h0m2-152h0m8-5h0m17 149h0m7-197h0m6 213h0m0-162h0m0 145h0m6-169h0m3 160h0m9-91h0m21 148h0m2-227h0m9 0h0m3 153h0m8-21h0m4-164h0m4 51h0m6 160h0m13-137h0m21 15h0m5-43h0m2 200h0m8-24h0m0-174h0m6 168h0m5-143h0m6 79h0m9 63h0m4-39h0m3-104h0m6 160h0m4-146h0m2 154h0m5-131h0m5 41h0m5-16h0m2 59h0m1 6h0m1-91h0m4 94h0m9-12h0m0 10h0m12-83h0m27-16h0m6 43h0m8 36h0m7-31h0m4-89h0m58 162h0m10 2h0m0-23h0m145-40h0"/>
<path class="f" d="M2320 881h0m17-93h0m33-110h0m26 129h0m23-48h0m30 24h0m10-18h0m3 119h0m1-231h0m19 190h0m2-66h0m8 128h0m2-102h0m12 79h0m3-33h0m1-15h0m6 49h0m0-258h0m1 120h0m3 146h0m6-125h0m0 36h0m8 93h0m7-67h0m5-126h0m1 73h0m1 65h0m4 23h0m7-137h0m15 65h0m4 61h0m1-128h0m4 139h0m1-67h0m4-69h0m7 120h0m6 12h0m4-144h0m6 201h0m0-13h0m4-53h0m12-57h0m3 16h0m15-102h0m2 84h0m3 33h0m3-95h0m2 35h0m7 97h0m1-37h0m11-186h0m8 241h0m1-243h0m6 128h0m2 170h0m2-273h0m5 262h0m6 12h0m1-258h0m1 210h0m7-5h0m1-169h0m5-10h0m1 142h0m1-184h0m2 270h0m2-232h0m3 47h0m1-50h0m14 180h0m5 54h0m4-248h0m1 102h0m8-18h0m10 17h0m1-62h0m4 130h0m6 17h0m9-123h0m2 175h0m6-201h0m3-4h0m27 153h0m10-132h0m1 123h0m3 38h0m2-141h0m6-103h0m2 43h0m1 176h0m3 28h0m6-176h0m16 20h0m0 191h0m1 17h0m14-176h0m7-28h0m2-60h0m1 201h0m2-54h0m0-217h0m14 211h0m1 65h0m2 42h0m12-32h0m1-73h0m1-88h0m2 9h0m2 22h0m3 147h0m2-172h0m7-22h0m1 104h0m1-114h0m4 228h0m12-72h0m22-57h0m8-51h0m0 136h0m1-51h0m6 40h0m2-195h0m12-1h0m1 212h0m3-126h0m0 106h0m4 29h0m8-69h0m4 48h0m2-106h0m6 17h0m1 93h0m0 36h0m14-84h0m9 5h0m0-47h0m13 19h0m3 122h0m27-62h0m12-8h0m4-120h0m11 201h0m7-59h0m18-6h0m12 45h0m11-96h0"/>
<path class="m" d="M2385 756h0m13 9h0m69 114h0m17-62h0m2-28h0m4-11h0m8 24h0m12-69h0m8 89h0m9 32h0m2-81h0m10-143h0m8 266h0m7-115h0m3 76h0m1-103h0m2 16h0m12 102h0m5-128h0m2 124h0m14-22h0m6-95h0m11-42h0m1 155h0m3 2h0m4-16h0m11-112h0m1 106h0m7-110h0m16-25h0m4 44h0m4-34h0m1 57h0m1-89h0m1 26h0m8 54h0m15-15h0m5 69h0m27-84h0m6 154h0m5-115h0m6-9h0m4 27h0m3-37h0m1 31h0m21-12h0m5 164h0m12-159h0m2-127h0m0 191h0m1-96h0m2 72h0m8-103h0m1 126h0m4-39h0m4-63h0m10 40h0m5 152h0m5-211h0m21 133h0m1 5h0m4 23h0m1 23h0m6-152h0m5 74h0m6 41h0m3-41h0m2-75h0m1 33h0m11-68h0m0 71h0m3 100h0m1-166h0m3 160h0m4-173h0m2 127h0m14-51h0m1 110h0m1-137h0m5 42h0m3-28h0m0 95h0m5-74h0m4 61h0m1-31h0m1-14h0m9 49h0m4-58h0m14-9h0m6 70h0m1-124h0m10 129h0m20-30h0m19-158h0m4 183h0m8 17h0m1-155h0m1 96h0m5-9h0m11 23h0m3 21h0m0 46h0m2-42h0m18 7h0m18-52h0m51 87h0m17 21h0m7-90h0"/>
<path class="f" d="M2267 842h0m148-152h0m2 24h0m20 149h0m5-14h0m12-7h0m9-100h0m3 18h0m3 86h0m46-149h0m8 108h0m0 1h0m2 33h0m12-83h0m20-32h0m2 130h0m6 25h0m6-101h0m3 66h0m0 4h0m2-145h0m10 31h0m12 89h0m1-33h0m0 81h0m0-8h0m1 14h0m6 38h0m1-126h0m11-17h0m3 55h0m1 93h0m2-99h0m1 44h0m1 71h0m1-120h0m2 56h0m3-99h0m1 14h0m5 94h0m4-156h0m2 101h0m5-90h0m1 118h0m0 9h0m14 68h0m2-180h0m6 40h0m0 94h0m0-145h0m6 166h0m0 22h0m1-24h0m3-170h0m7-155h0m3 178h0m1-133h0m6 234h0m0 21h0m3 22h0m0-212h0m0 179h0m11-49h0m3-77h0m3 11h0m1 83h0m1-21h0m1-105h0m5 87h0m1-19h0m2 95h0m3-128h0m4 17h0m3 63h0m9-86h0m1 19h0m5-23h0m0 60h0m7-128h0m5 257h0m4-17h0m4-37h0m3-156h0m1 55h0m1 142h0m5-222h0m0 162h0m3-118h0m2 4h0m1 142h0m2 56h0m11-92h0m4-146h0m0 2h0m20 13h0m9 162h0m1-25h0m2-10h0m14-46h0m1 49h0m2 41h0m4-140h0m2 29h0m4 103h0m10-48h0m3-53h0m1 16h0m0-33h0m3 77h0m1 66h0m8-54h0m2-76h0m2 12h0m1 88h0m1-58h0m17-39h0m0-5h0m3 27h0m1 23h0m4 31h0m2-10h0m5 55h0m0-114h0m4 44h0m11-144h0m2 56h0m7 137h0m4-47h0m10 75h0m0-161h0m3-17h0m2 116h0m0 40h0m4-19h0m1-69h0m7 59h0m14 32h0m4 7h0m11-64h0m8-59h0m8 20h0m5-15h0m31 211h0m6-208h0m16 51h0m3 2h0m8 53h0m9-119h0m5-50h0m11 135h0m26 50h0m11-126h0m16 126h0"/>
<path class="m" d="M2398 798h0m68 80h0m5-110h0m2 13h0m5-33h0m10 112h0m6 25h0m4-201h0m1 194h0m1-127h0m4 87h0m5-77h0m4 27h0m0 10h0m3-30h0m1 31h0m4-88h0m28 120h0m1 6h0m1-26h0m5-12h0m2 79h0m6-70h0m2 23h0m2-70h0m1-22h0m3 154h0m8-165h0m2 114h0m1-70h0m10-22h0m2 51h0m2-96h0m4 101h0m2 30h0m2-113h0m10 151h0m11 53h0m2-71h0m2-51h0m15-7h0m2-122h0m5 174h0m4-53h0m1 68h0m2-146h0m1 74h0m4 59h0m2-219h0m4 123h0m2-43h0m3 117h0m3 51h0m3-51h0m0-107h0m4 68h0m5-19h0m5-15h0m4 127h0m4-77h0m1-43h0m2-30h0m1 47h0m2-137h0m1 144h0m6 48h0m1-113h0m0-275h0m5 265h0m1 86h0m3-49h0m1 71h0m8 20h0m6 32h0m5-25h0m2-27h0m3 24h0m2 48h0m6-78h0m0-22h0m2-38h0m6 98h0m9 35h0m3-201h0m8 84h0m1 65h0m0-37h0m1-37h0m4-57h0m4 87h0m5-87h0m2 90h0m5 114h0m0-155h0m3 48h0m1-46h0m1-5h0m1 138h0m10-93h0m1 86h0m2-56h0m3 78h0m0-141h0m1 60h0m0 54h0m1 22h0m4-217h0m1 249h0m4-55h0m3-23h0m1-2h0m1 39h0m0-45h0m1-7h0m3-5h0m3-52h0m3-30h0m2 168h0m3-120h0m0 45h0m1 14h0m2-56h0m1-27h0m1 67h0m3 67h0m3-190h0m0 211h0m7-31h0m3 8h0m1-206h0m6 175h0m2-109h0m4 133h0m1-151h0m1-27h0m15 148h0m1-105h0m6 2h0m3 98h0m6 48h0m3 45h0m2-197h0m1 34h0m0-26h0m5 46h0m6-26h0m2 68h0m0-70h0m10 97h0m4-36h0m4 5h0m6-23h0m4 74h0m5-65h0m3-74h0m7-34h0m3 126h0m23-41h0m4 4h0m1 19h0m4-16h0m0-3h0m26 141h0m8-173h0m3 155h0m10-97h0m2 18h0m10 7h0m4 75h0m33-189h0m3 186h0m1-147h0m3 93h0m4-111h0m21 73h0m35-43h0m11 74h0"/>
<path class="f" d="M2260 778h0m119 71h0m40-36h0m7-100h0m3 79h0m3-53h0m5 98h0m8-77h0m35 54h0m0-71h0m8 65h0m1-59h0m4-25h0m7 75h0m9-10h0m2-82h0m10 28h0m3-60h0m13 105h0m4 65h0m14-7h0m0-32h0m1 44h0m8-176h0m13 143h0m10 15h0m1-23h0m2-52h0m11-34h0m0 109h0m1 78h0m7-130h0m0 35h0m2 30h0m2-66h0m4-65h0m12 165h0m2-119h0m0 37h0m2 78h0m4-88h0m1 77h0m1-206h0m2 179h0m1 18h0m0 12h0m1-18h0m0-36h0m9 17h0m5 63h0m2-24h0m0-127h0m3 91h0m5-4h0m0 47h0m1-93h0m0-76h0m1 111h0m1 81h0m1-113h0m4 89h0m1 73h0m1-171h0m0-37h0m2-36h0m2 45h0m1-3h0m3 52h0m1 10h0m0-16h0m1 46h0m4-58h0m0 34h0m3-74h0m0 60h0m2-161h0m1 101h0m1 26h0m1 80h0m0-31h0m0-65h0m0 118h0m1-72h0m1 53h0m1-167h0m2 64h0m3 2h0m0 93h0m3-69h0m5-7h0m4 148h0m1-39h0m2-98h0m3 76h0m2-88h0m3 141h0m3-28h0m2 35h0m2-99h0m1-25h0m18-23h0m3 36h0m3-60h0m1 47h0m1 98h0m0-21h0m5 18h0m1-116h0m1-8h0m3-8h0m2 40h0m3 88h0m0-38h0m5 21h0m4 52h0m0-110h0m3 169h0m0-144h0m1 53h0m4 6h0m1-132h0m1 104h0m1-10h0m2-40h0m1-41h0m10 51h0m2-81h0m2 162h0m2-128h0m1-120h0m0 257h0m0-15h0m1 20h0m1-109h0m1-120h0m1 239h0m7-134h0m3-99h0m3 85h0m0 104h0m1 29h0m7-122h0m5-12h0m1-37h0m1 77h0m2 49h0m0-129h0m13 146h0m1-197h0m1 79h0m4-52h0m3 135h0m8 24h0m1-45h0m1 57h0m1-114h0m1 36h0m0-48h0m1 107h0m4-12h0m2-103h0m1 145h0m0 15h0m2-107h0m5-86h0m1 110h0m10-32h0m1 35h0m1-65h0m0 117h0m2-41h0m2-109h0m12 82h0m1-28h0m8 58h0m3 94h0m1-12h0m0-196h0m7 84h0m4 73h0m1-120h0m2 46h0m0-45h0m2 35h0m0 42h0m1-47h0m5 37h0m4-127h0m1 150h0m5-78h0m1 68h0m2-40h0m2 125h0m2-60h0m1-98h0m0-67h0m3 122h0m3-20h0m2 15h0m4 34h0m1-54h0m7-77h0m0 102h0m2-86h0m1 69h0m2-122h0m1 85h0m5 169h0m3-106h0m6-44h0m4-41h0m1 130h0m0-86h0m1 93h0m0-30h0m10 19h0m1-142h0m10 182h0m1-101h0m3 59h0m0-50h0m4 17h0m6 43h0m19-46h0m1 51h0m7-24h0m3-48h0m7 31h0m4 17h0m53 45h0"/>
<path class="m" d="M2407 924h0m39-89h0m9-131h0m1 139h0m5 47h0m3-55h0m6 24h0m1-104h0m34-41h0m17 59h0m1-27h0m4 100h0m1-7h0m3-87h0m3 21h0m5 96h0m5-97h0m12 29h0m19 96h0m4-137h0m4 54h0m6-49h0m8-92h0m3 212h0m2-101h0m0 113h0m3-130h0m3-87h0m8-39h0m1 88h0m3 212h0m0-140h0m1 90h0m4-17h0m1-110h0m0 192h0m7-127h0m1-32h0m2 56h0m1-102h0m2 75h0m3-78h0m2 88h0m0-82h0m5-45h0m0-22h0m1 127h0m0 60h0m6-103h0m0 114h0m1-111h0m5-38h0m0 9h0m5 24h0m0 29h0m3 83h0m1-202h0m2 184h0m1-46h0m0-14h0m5 35h0m1-78h0m0 57h0m3 5h0m2 10h0m1 13h0m2-162h0m3 167h0m3-119h0m0 133h0m2-184h0m2 63h0m9 67h0m2-9h0m1-62h0m2 165h0m0-75h0m1 13h0m0 6h0m3-180h0m2 122h0m5 15h0m8-21h0m2 45h0m1 26h0m4-51h0m1 60h0m5-3h0m0-147h0m1 86h0m4-109h0m7 26h0m4-33h0m1 135h0m0 30h0m4-66h0m14 2h0m1 26h0m3-14h0m2-141h0m2 131h0m11 2h0m0 84h0m2-46h0m6 29h0m2-184h0m1 258h0m1-163h0m6-39h0m0 129h0m2 40h0m9 19h0m3-244h0m0 83h0m0 140h0m3-175h0m1 81h0m1 18h0m3-52h0m2 80h0m5 3h0m0-135h0m1 35h0m0 53h0m2-9h0m0-18h0m3 184h0m3-196h0m2 43h0m10-97h0m1 97h0m2-29h0m0 117h0m1-36h0m2-57h0m2 92h0m3-15h0m1-23h0m2 38h0m1-163h0m1 135h0m1-132h0m1 117h0m2-6h0m1-171h0m1 289h0m2-126h0m7 23h0m4-59h0m10 15h0m2 51h0m3 120h0m1-81h0m1-116h0m3 69h0m5 29h0m1-80h0m7 37h0m6 82h0m1-110h0m8 18h0m2-94h0m2-12h0m1 72h0m3 110h0m2-135h0m2 61h0m2-9h0m4-47h0m1-2h0m1 128h0m3-46h0m15-61h0m4 44h0m3 81h0m4-71h0m9-255h0m2 201h0m2 55h0m0-13h0m3 4h0m22-97h0m21 6h0m20 81h0m23-61h0m1 136h0m35-60h0m8 64h0m73-5h0"/>
<path class="f" d="M2394 779h0m1 91h0m49-79h0m13 27h0m1-87h0m2 141h0m40-96h0m8 11h0m0 121h0m6-132h0m1 52h0m11 23h0m8 4h0m2-54h0m1 9h0m4-10h0m3-33h0m2-6h0m10 88h0m1-91h0m1 127h0m2-84h0m1-86h0m1 89h0m1 76h0m0-84h0m4 116h0m2-68h0m2-40h0m4-18h0m4-4h0m5 91h0m4-84h0m2 52h0m2-53h0m12 119h0m5-142h0m4-7h0m4 30h0m0-33h0m1-17h0m2 57h0m0 41h0m4-26h0m1-68h0m1 33h0m5-95h0m0 30h0m1 144h0m2-21h0m4-30h0m1 113h0m4-87h0m1-86h0m2 58h0m1 40h0m0 47h0m1-110h0m1-30h0m0 23h0m4-21h0m1 32h0m9 62h0m0-32h0m5 34h0m0 40h0m0-18h0m0-231h0m1 205h0m1-112h0m0 223h0m1-86h0m1-132h0m1-41h0m7 115h0m2 60h0m2-26h0m2 16h0m1 69h0m2-55h0m3-159h0m0 218h0m1-64h0m1-72h0m1 119h0m0-135h0m0 52h0m2-15h0m2-58h0m9-31h0m2-51h0m6 123h0m0 16h0m0 50h0m1-79h0m0-59h0m3-16h0m0 151h0m1-113h0m0 134h0m1-53h0m3-101h0m2 150h0m1 36h0m1-53h0m2-101h0m3 26h0m0 63h0m2 34h0m0-77h0m1-113h0m1 0h0m1 140h0m4 71h0m1-91h0m0-40h0m0 42h0m0 4h0m2-150h0m0 241h0m2-100h0m4 29h0m1-64h0m5 99h0m5-91h0m0 28h0m0 12h0m1 83h0m1-59h0m1-43h0m1 14h0m0 77h0m1 0h0m1-85h0m1-14h0m3 69h0m3-36h0m1 25h0m1 44h0m2-112h0m4 8h0m2-184h0m0 130h0m3 125h0m2-35h0m0 23h0m0-153h0m1 75h0m2-45h0m2 88h0m2-11h0m1-27h0m1 57h0m1 39h0m1-82h0m2 65h0m3-106h0m7 92h0m4-37h0m0-15h0m1 29h0m2-75h0m1 113h0m2 10h0m1-22h0m0-11h0m4-98h0m3 45h0m2 102h0m1-71h0m4-135h0m2 117h0m2-7h0m0-48h0m1 167h0m1-184h0m0 110h0m12-99h0m1 71h0m0 64h0m0-86h0m7 41h0m0-2h0m3 101h0m1-111h0m0-46h0m0 53h0m6-63h0m0 40h0m2 3h0m5 2h0m0 85h0m3-72h0m0-21h0m6 60h0m2-64h0m2-32h0m0 34h0m2-99h0m0 120h0m5 68h0m0-6h0m2-74h0m1 78h0m0-56h0m1-43h0m1 66h0m0-113h0m1 171h0m0-53h0m0 13h0m3-27h0m0-33h0m5 4h0m1-70h0m1-21h0m2 187h0m6-123h0m10 85h0m1-87h0m5-22h0m1 174h0m0-46h0m0-23h0m5 46h0m0-48h0m0-24h0m5-69h0m1 28h0m0 15h0m0 150h0m6-99h0m11-102h0m4 86h0m0-80h0m7 60h0m4 10h0m6-6h0m2 3h0m0-68h0m2 160h0m2-110h0m9 84h0m1-77h0m14 27h0m2-95h0m0 109h0m8-32h0m1-60h0m1 94h0m0-35h0m3 40h0m9-114h0m1 80h0m5-7h0m4-36h0m10 53h0m2-133h0m0 115h0m10 22h0m6-72h0m2 83h0m7-102h0m3 126h0m2-28h0m30 44h0m48 20h0m4-28h0m37-93h0"/>
<path class="m" d="M2303 843h0m1-29h0m52-108h0m33-14h0m2 61h0m37-22h0m1 126h0m7-13h0m5-32h0m25 36h0m2 59h0m6-136h0m4-53h0m8-16h0m13 118h0m4-71h0m3 16h0m2 84h0m6-110h0m5-19h0m1 107h0m6-87h0m3 101h0m2-152h0m6 31h0m8 149h0m12-28h0m2-74h0m6 3h0m6 47h0m2-44h0m2 3h0m1 53h0m12 10h0m8 33h0m1-17h0m1-100h0m6 61h0m1-14h0m2-2h0m1 8h0m1-96h0m0 27h0m0-55h0m2 67h0m5 38h0m1 97h0m1-17h0m1-59h0m2 34h0m4-40h0m13-19h0m4 31h0m2 53h0m2-104h0m6 83h0m0-142h0m1 131h0m3-104h0m1 96h0m0-27h0m12-42h0m3 88h0m1-38h0m1-28h0m9-139h0m1 61h0m2 212h0m0-185h0m7 146h0m1 54h0m0-163h0m1 162h0m4-95h0m1-13h0m4 23h0m0 47h0m1-37h0m2-76h0m0-92h0m1 124h0m2 45h0m3-65h0m1 113h0m0-121h0m1 110h0m0-122h0m2 85h0m2-38h0m2-44h0m2 53h0m6-24h0m0 112h0m2-160h0m1 94h0m0-62h0m0 125h0m12-74h0m1 29h0m3-84h0m1 91h0m4-109h0m2 108h0m2-13h0m2-27h0m4 5h0m1-40h0m0 65h0m1-37h0m5-16h0m0-9h0m2-112h0m1 41h0m0 108h0m0 40h0m1-71h0m0 8h0m2 10h0m2-7h0m0-55h0m1 91h0m1-121h0m1 20h0m0 98h0m1-102h0m1 37h0m0 119h0m9-201h0m2 108h0m2-2h0m1-92h0m10 178h0m0-63h0m1-16h0m0-42h0m5-38h0m0 141h0m1-43h0m1 34h0m2-67h0m4 15h0m5 45h0m2-25h0m2 8h0m3-35h0m1 20h0m1-66h0m1-12h0m2 64h0m2 66h0m1-94h0m1-50h0m3 27h0m2 55h0m0 5h0m1-12h0m4 17h0m3 59h0m4-208h0m1 143h0m1-1h0m4-31h0m2-9h0m1-15h0m1-2h0m0 76h0m6-25h0m1 48h0m0-207h0m2 204h0m12-36h0m1 86h0m4-204h0m6-12h0m0 36h0m2 197h0m3-141h0m1 110h0m1-53h0m6-99h0m1 75h0m13-4h0m8-19h0m3 50h0m1 100h0m5-69h0m3-34h0m4 76h0m5-76h0m0-101h0m6 147h0m3-70h0m1 6h0m4-76h0m1-165h0m3 240h0m2 70h0m3-30h0m2 20h0m7-114h0m5-24h0m5 26h0m9 51h0m8-23h0m26 90h0m22-102h0m3 114h0m13-103h0m1 80h0m37 39h0m73-62h0"/>
<path class="f" d="M2460 799h0m41-8h0m40 96h0m67-18h0m55-122h0m20 95h0m3-127h0m68 114h0m1 28h0m33-40h0m6-38h0m8-83h0m3 79h0m34-20h0m49 78h0m33 18h0m16 46h0m50-111h0m23 46h0"/>
<path class="m" d="M2564 871h0m20-126h0m43 92h0m51-28h0m6 19h0m29-175h0m0 82h0m33 109h0m66-60h0m33 25h0m80-21h0m27 79h0"/>
</g>
<path d="M1075.0 379.8L1101.0 381.7L1127.0 383.7L1153.0 385.7L1179.0 387.7L1205.1 389.6L1231.1 391.6L1257.1 393.6L1283.1 395.5L1309.1 397.5L1335.1 399.4L1361.1 401.4L1387.2 403.3L1413.2 405.1L1439.2 407.0L1465.2 408.8L1491.2 410.6L1517.2 412.4L1543.2 414.2L1569.2 416.0L1595.2 417.7L1621.3 419.5L1647.3 421.3L1673.3 423.1L1699.3 424.9L1699.3 428.3L1673.3 426.4L1647.3 424.4L1621.3 422.4L1595.2 420.4L1569.2 418.5L1543.2 416.5L1517.2 414.5L1491.2 412.5L1465.2 410.6L1439.2 408.7L1413.2 406.7L1387.2 404.8L1361.1 403.0L1335.1 401.1L1309.1 399.3L1283.1 397.5L1257.1 395.7L1231.1 393.9L1205.1 392.2L1179.0 390.4L1153.0 388.6L1127.0 386.8L1101.0 385.0L1075.0 383.2Z" fill="#92C5DE"/>
<path d="M1060.5 379.1L1087.9 381.1L1115.2 383.0L1142.6 385.0L1169.9 387.0L1197.3 388.9L1224.7 390.9L1252.0 392.9L1279.4 394.8L1306.7 396.8L1334.1 398.7L1361.4 400.6L1388.8 402.5L1416.2 404.4L1443.5 406.2L1470.9 408.0L1498.2 409.8L1525.6 411.5L1552.9 413.3L1580.3 415.1L1607.7 416.8L1635.0 418.6L1662.4 420.4L1689.7 422.1L1717.1 423.9L1717.1 427.5L1689.7 425.5L1662.4 423.6L1635.0 421.6L1607.7 419.6L1580.3 417.7L1552.9 415.7L1525.6 413.7L1498.2 411.8L1470.9 409.8L1443.5 407.9L1416.2 406.0L1388.8 404.1L1361.4 402.2L1334.1 400.4L1306.7 398.6L1279.4 396.8L1252.0 395.1L1224.7 393.3L1197.3 391.5L1169.9 389.8L1142.6 388.0L1115.2 386.2L1087.9 384.5L1060.5 382.7Z" fill="#0571B0"/>
<path d="M1024.2 502.4 H1032.2M1024.2 388.4 H1032.2M1024.2 274.3 H1032.2M1024.2 160.3 H1032.2" stroke="#333" stroke-width="3.3" fill="none"/>
<path d="M1032.2 157.2 V558.6 H1750.0" stroke="#000" stroke-width="3.4" fill="none" stroke-linejoin="miter"/>
<text class="tk" text-anchor="end" x="1015.8" y="514.7">0.5</text>
<text class="tk" text-anchor="end" x="1015.8" y="400.7">1.0</text>
<text class="tk" text-anchor="end" x="1015.8" y="286.6">1.5</text>
<text class="tk" text-anchor="end" x="1015.8" y="172.6">2.0</text>
<text class="tk" text-anchor="middle" x="1188.1" y="594.2">-2.5</text>
<text class="tk" text-anchor="middle" x="1390.5" y="594.2">0.0</text>
<text class="tk" text-anchor="middle" x="1588.5" y="594.2">2.5</text>
<text class="at" text-anchor="middle" x="1391.4" y="630.2" textLength="275.4" lengthAdjust="spacingAndGlyphs">Normalised BMFF</text>
<text class="yt" text-anchor="middle" textLength="206" lengthAdjust="spacingAndGlyphs" transform="translate(938.1 353.6) rotate(-90)">BMD (g/cm<tspan class="sup" dy="-10.1">2</tspan><tspan dy="10.1">)</tspan></text>
<text class="pl" x="908.0" y="139.0">B</text>
<text class="pt" x="1062.3" y="142.0">Femoral head</text>
<g transform="translate(1581.4 152.0)">
<rect x="0.75" y="0.75" width="163.0" height="116.1" rx="18" ry="18" fill="#FAF8F1" stroke="#000" stroke-width="1.5"/>
<path d="M55.0 9.8 V107.8" stroke="#000" stroke-width="1.9"/>
<text class="sb" x="12.6" y="32.3" style="font-family:'Liberation Serif',serif;font-size:29px">β</text>
<text class="sb" x="11.4" y="70.6">R<tspan style="font-size:18.6px" dy="-12.6">2</tspan></text>
<text class="sb" x="12.6" y="105.1" style="font-style:italic">P</text>
<text class="sb" text-anchor="middle" x="110.2" y="32.3">-0.020</text>
<text class="sb" text-anchor="middle" x="110.4" y="70.6">0.094</text>
<text class="sb" text-anchor="middle" x="110.6" y="105.1">&lt;2e-16</text>
</g>
</g>
<g id="panelC">
<path d="M191.3 710.4 V1111.8M388.0 710.4 V1111.8M584.8 710.4 V1111.8M781.5 710.4 V1111.8M127.6 998.6 H845.5M127.6 884.4 H845.5M127.6 770.2 H845.5" stroke="#e2e2e2" stroke-width="1.5" fill="none"/>
<path d="M289.6 710.4 V1111.8M486.4 710.4 V1111.8M683.1 710.4 V1111.8M127.6 1055.7 H845.5M127.6 941.5 H845.5M127.6 827.3 H845.5" stroke="#e5e5e5" stroke-width="3.0" fill="none"/>
<path d="M292 937L298 923L304 944L310 911L316 926L322 896L328 896L334 869L340 894L346 898L352 890L358 885L364 887L370 886L376 878L382 880L388 870L394 870L400 878L406 873L412 882L418 887L424 886L430 888L436 881L442 880L448 872L454 880L460 869L466 869L472 875L478 863L484 879L490 892L496 884L502 888L508 887L514 867L520 877L526 890L532 892L538 871L544 893L550 893L556 895L562 881L568 888L574 890L580 895L586 907L592 909L598 910L604 908L610 912L616 911L622 907L628 927L634 940L640 937L646 913L652 937L658 951L664 951L670 947L676 945L682 983L682 1012L676 1013L670 1013L664 1016L658 1022L652 1029L646 1031L640 1026L634 1032L628 1032L622 1032L616 1010L610 1031L604 1032L598 1032L592 1028L586 1023L580 1031L574 1032L568 1033L562 1028L556 1029L550 1029L544 1031L538 1023L532 1022L526 1029L520 1027L514 1026L508 1025L502 1025L496 1022L490 1026L484 1026L478 1025L472 1024L466 1016L460 1018L454 1019L448 1020L442 1021L436 1017L430 1016L424 1012L418 1012L412 1017L406 1016L400 1020L394 1014L388 1003L382 1003L376 1005L370 1002L364 1002L358 995L352 995L346 982L340 1001L334 998L328 996L322 992L316 988L310 988L304 987L298 987L292 968Z" fill="#92C5DE"/>
<g transform="scale(.5)" fill="none" stroke-linecap="round" stroke-width="13.2">
<path class="f" d="M567 1978h0m263-261h0m364 46h0m161 154h0m43 60h0"/>
<path class="m" d="M405 1826h0m508-151h0m19 54h0m47-98h0m244 139h0m5 315h0m174-131h0m39-41h0"/>
<path class="f" d="M594 1998h0m216-254h0m219-44h0m259 159h0m63 149h0m115-11h0"/>
<path class="m" d="M396 1800h0m132-130h0m11 91h0m100 35h0m6-41h0m173-202h0m124 177h0m176 57h0"/>
<path class="f" d="M477 1950h0m62-7h0m49-248h0m166 99h0m3-62h0m209 17h0m126-31h0m22 62h0m4-219h0m138 158h0m92 206h0"/>
<path class="m" d="M488 1973h0m50-2h0m47-105h0m2 79h0m27 29h0m413-258h0m213 57h0m160 52h0m9 223h0"/>
<path class="f" d="M723 1734h0m305 348h0m341-128h0m5-35h0m21 31h0m14-36h0m84 47h0"/>
<path class="m" d="M542 1888h0m34 60h0m133 66h0m52 6h0m426-268h0m42 20h0m83 94h0m32 94h0"/>
<path class="f" d="M374 1796h0m234 84h0m6 76h0m269 95h0m9 1h0m61-3h0m93 18h0m143-258h0m18 281h0m111-222h0m2-57h0m18 73h0m1 168h0m20 29h0m13-141h0m37 112h0m14-116h0"/>
<path class="m" d="M639 1957h0m13 4h0m200 103h0m395-233h0"/>
<path class="f" d="M431 2007h0m94-30h0m34-12h0m5-60h0m49-90h0m221-102h0m25 57h0m135 299h0m35-315h0m119 13h0m66 37h0m88 52h0"/>
<path class="m" d="M575 1985h0m43-193h0m68 13h0m22-156h0m3 116h0m53 3h0m141-89h0m366 118h0m90 115h0m28 2h0m23 69h0"/>
<path class="f" d="M475 1952h0m150 98h0m50-277h0m58 320h0m74-75h0m245-295h0m100 389h0m55-39h0m2 37h0m89-40h0"/>
<path class="m" d="M444 1968h0m150-232h0m76 45h0m11-29h0m12 262h0m86 30h0m217-353h0m35 101h0m136 224h0m143-116h0"/>
<path class="f" d="M482 1921h0m11-84h0m111-26h0m83-21h0m69 249h0m56-317h0m46-56h0m31 408h0m166-354h0m111 11h0m53 296h0m69-262h0m23 318h0m34-201h0"/>
<path class="m" d="M497 1931h0m51-123h0m31 135h0m104 57h0m125 51h0m63-338h0m393 179h0m18-12h0m94 77h0"/>
<path class="f" d="M430 1637h0m180 341h0m82 42h0m33 16h0m86-7h0m224-281h0m121-43h0"/>
<path class="m" d="M538 1850h0m68-4h0m24-81h0m225-9h0m51-85h0m18-4h0m133 65h0m12 356h0m187-318h0m44-37h0m53 211h0m114 119h0"/>
<path class="f" d="M537 1859h0m23-9h0m236 191h0m431-201h0m104 202h0m43-136h0"/>
<path class="m" d="M583 1889h0m28-96h0m185 257h0m55-399h0m13 117h0m113-66h0m228 378h0"/>
<path class="f" d="M562 1664h0m349 382h0m307-202h0m112 63h0m6-39h0m37 142h0m106-60h0m43 134h0"/>
<path class="m" d="M697 1702h0m158-180h0m194 188h0m33 340h0m17-355h0m113 22h0m58 65h0m37 27h0m5 36h0m35 32h0m99 91h0"/>
<path class="f" d="M500 1805h0m45 113h0m44 77h0m18-157h0m18-29h0m5 136h0m129-188h0m58-88h0m58 387h0m357-214h0m43 223h0m33-177h0m7-19h0m67 25h0m41 130h0"/>
<path class="m" d="M592 1837h0m74-52h0m442-6h0m145 33h0m53 196h0m115-143h0"/>
<path class="f" d="M780 1788h0m14-50h0m20 338h0m92-322h0m62-25h0m16-28h0m70 376h0m195-316h0m227 264h0"/>
<path class="m" d="M523 1920h0m32-128h0m26 22h0m20 143h0m149 115h0m38-379h0m26-45h0m51 60h0m19 43h0m256 53h0m133 258h0m102-200h0m25 121h0m25 51h0"/>
<path class="f" d="M450 1786h0m63 172h0m7 17h0m59-131h0m87 157h0m9-195h0m15-43h0m125-8h0m54-55h0m12 5h0m34 46h0m40 303h0m26-311h0m29 7h0m38 4h0m371 300h0m5-34h0m23-18h0"/>
<path class="m" d="M620 1866h0m64 177h0m57-366h0m54 44h0m53-13h0m61 5h0m112 348h0m11-336h0m19-7h0m50 349h0m44-343h0m211 316h0m44 8h0"/>
<path class="f" d="M513 1924h0m14-105h0m14 46h0m24 20h0m55-36h0m34-87h0m10-6h0m15 73h0m43-48h0m247 11h0m120 259h0m12-292h0m119 204h0m3-148h0m211 156h0m102 135h0"/>
<path class="m" d="M516 1893h0m26 75h0m12-69h0m64 105h0m62-12h0m67-260h0m110 298h0m272-254h0m133 70h0m13-3h0m82 137h0m34-47h0m24 63h0"/>
<path class="f" d="M427 1839h0m453-86h0m16 306h0m151-395h0m88 417h0m35-267h0m51 259h0m6-223h0m71 24h0m73-41h0m1 111h0"/>
<path class="m" d="M562 1794h0m66 217h0m64-423h0m57-130h0m20 557h0m2-300h0m31-4h0m27-103h0m159 0h0m120 504h0m186-299h0m5 64h0m57 80h0m73-19h0"/>
<path class="f" d="M544 2013h0m23-58h0m7-80h0m329-136h0m118-65h0m88 406h0m188-258h0m67 116h0"/>
<path class="m" d="M579 1935h0m10 91h0m7-53h0m109-232h0m44 277h0m120-219h0m298-81h0m123 160h0"/>
<path class="f" d="M561 1802h0m187-53h0m201-31h0m17-33h0m314 173h0m12 198h0m79-58h0m36-38h0m46 32h0"/>
<path class="m" d="M537 1911h0m14 31h0m64-116h0m61 209h0m10-232h0m68-26h0m14-42h0m124 323h0m416-223h0m23 220h0m39-40h0m56-75h0"/>
<path class="f" d="M571 1829h0m5-121h0m128 296h0m25-195h0m445-18h0m159 221h0m47 20h0m11-38h0m168-161h0"/>
<path class="m" d="M423 1810h0m134 54h0m29 70h0m6-162h0m139 241h0m12-188h0m65-129h0m278 99h0m95 10h0m153 159h0m103 129h0m32-89h0"/>
<path class="f" d="M521 1857h0m10-5h0m54 26h0m94 127h0m12 29h0m215-267h0m127 301h0m111-398h0m103 332h0m30-87h0m69 71h0m66-27h0m61 114h0"/>
<path class="m" d="M356 1874h0m141 88h0m322-276h0m0 356h0m42-257h0m82-44h0m154 36h0m113 15h0m105 261h0"/>
<path class="f" d="M595 1846h0m15-15h0m47 66h0m111 115h0m11-420h0m46 191h0m41-85h0m39-30h0m32 77h0m144 12h0m284 265h0m60-24h0m92-71h0"/>
<path class="m" d="M445 1663h0m57 174h0m54 88h0m86 28h0m1-35h0m29 78h0m53 17h0m31-267h0m17 71h0m24-121h0m130 49h0m17-20h0m38 8h0m183 338h0m2-278h0m7 330h0m127-86h0m34-147h0m31 159h0m13-132h0m3 138h0"/>
<path class="f" d="M585 1897h0m11-42h0m13-73h0m24 212h0m160 5h0m136 64h0m73-329h0m25 12h0m75 25h0m134 85h0m20 205h0m59-112h0m3 16h0m52 42h0m1-27h0m18 3h0m49-40h0"/>
<path class="m" d="M626 1813h0m55-16h0m19-21h0m16 12h0m5 234h0m46-341h0m187 63h0m172 39h0m109 297h0m110-90h0m128 16h0"/>
<path class="f" d="M464 1818h0m46 119h0m70 45h0m45-221h0m225-101h0m18 48h0m88 53h0m101 318h0m80-339h0m125-131h0m35 300h0m7 123h0m5-21h0m36-99h0m79 25h0"/>
<path class="m" d="M582 1851h0m11 35h0m2 80h0m14-24h0m85-195h0m95-8h0m5 278h0m33-254h0m49-34h0m127 24h0m198 196h0m104-12h0m16-113h0m17 28h0m29-5h0m92 111h0"/>
<path class="f" d="M400 1945h0m232-3h0m157-229h0m22-121h0m3 140h0m31-93h0m71 407h0m3-371h0m75-50h0m124 439h0m32-261h0m162 119h0m5 107h0m15-79h0m2-35h0m13 41h0"/>
<path class="m" d="M567 1915h0m429-154h0m19-38h0m416 74h0"/>
<path class="f" d="M616 1708h0m91 294h0m68 28h0m31-272h0m18-19h0m93-50h0m92 370h0m7-436h0m37 31h0m144 93h0m79 62h0m26-32h0m45 257h0m7-73h0m23 85h0m18-240h0"/>
<path class="m" d="M543 2004h0m25-131h0m13 153h0m17-149h0m68 145h0m27-79h0m190-432h0m36 244h0m122 330h0m33-324h0m140-23h0m7 95h0m122 75h0m42 116h0m22-49h0"/>
<path class="f" d="M528 1863h0m89 16h0m16-64h0m1 144h0m20-203h0m7 154h0m72-276h0m52 393h0m139-181h0m42 181h0m208 56h0m6-250h0m26 233h0m51-30h0m11 43h0m0-277h0m61 236h0m103 23h0"/>
<path class="m" d="M624 1777h0m136-86h0m240 342h0m9 54h0m307-202h0m18 16h0m55 72h0m5-98h0m48 37h0"/>
<path class="f" d="M470 1929h0m64-62h0m96 97h0m2-112h0m5-154h0m88-79h0m77 408h0m27-326h0m0 13h0m223 347h0m87-245h0m27 221h0m46 27h0m47-113h0m37 116h0m4-11h0"/>
<path class="m" d="M541 1871h0m35-4h0m32 17h0m152-81h0m140-55h0m138-103h0m2 96h0m58-1h0m84 104h0m81 11h0m23 175h0m14-131h0m68 73h0m68-19h0"/>
<path class="f" d="M505 1660h0m29 185h0m86-21h0m28 90h0m128-199h0m9 37h0m86 303h0m100-345h0m32 358h0m135-349h0m63 27h0m37 87h0m105 192h0m13-29h0m58-33h0m24-54h0m3 135h0"/>
<path class="m" d="M533 1960h0m8-87h0m20 2h0m101-146h0m55 48h0m3-112h0m48 129h0m5-59h0m85-107h0m40 73h0m145 54h0m55 35h0m44 287h0m75-143h0m99-24h0m30 18h0m100-23h0"/>
<path class="f" d="M467 1815h0m93 12h0m2-12h0m4 104h0m54-41h0m52 133h0m38-241h0m163-4h0m69-72h0m226 376h0m82-233h0m24-2h0m8 222h0m6-216h0m50 86h0m120-43h0"/>
<path class="m" d="M536 1823h0m56 80h0m27-21h0m6 37h0m6-50h0m25-59h0m99 216h0m24-9h0m59-286h0m61-45h0m21 381h0m71-36h0m70-243h0m189 156h0m115 94h0m14-8h0m81 50h0"/>
<path class="f" d="M521 1928h0m65 54h0m19-3h0m37-154h0m2-109h0m16 25h0m65 11h0m53-21h0m197 22h0m267 82h0m10 56h0m6-36h0m5 205h0m30-137h0m54 85h0"/>
<path class="m" d="M497 1850h0m85 106h0m89-127h0m21-112h0m79 102h0m20-116h0m81 364h0m36-350h0m198 17h0m45 311h0m60-235h0m22 0h0m130 88h0m9 60h0"/>
<path class="f" d="M531 1704h0m44 69h0m23 86h0m3 144h0m4-2h0m9-113h0m1 51h0m4-127h0m28 189h0m16-92h0m11-50h0m0 117h0m24-189h0m1 111h0m70-175h0m90 13h0m13 2h0m16 80h0m2-81h0m33 52h0m10-86h0m9 58h0m43 39h0m25-104h0m8 377h0m66-366h0m136 170h0m30-104h0m33 73h0m22 175h0m15-170h0m3-24h0m73 220h0"/>
<path class="m" d="M523 1886h0m59-52h0m87-125h0m77 16h0m357-53h0m101 135h0m17 12h0m16 101h0m51-27h0m43-6h0m17-154h0m8 204h0"/>
<path class="f" d="M591 1799h0m58 201h0m21-5h0m29 2h0m18 18h0m62-268h0m2 7h0m15 255h0m55-313h0m69 84h0m69 262h0m63-298h0m106 305h0m12 19h0m74-155h0m3-18h0m82-63h0m27 202h0m23-113h0m50 141h0"/>
<path class="m" d="M436 1967h0m21-18h0m101-32h0m5-204h0m48 222h0m43 35h0m47-248h0m97 291h0m38-225h0m59-56h0m52 40h0m7-52h0m97 50h0m123-28h0m75 56h0m38 73h0m11-59h0m38 206h0m21-203h0m17 213h0m42-10h0"/>
<path class="f" d="M572 1933h0m21 36h0m30-171h0m6 28h0m48-65h0m16 100h0m26-101h0m46 277h0m37-281h0m92 19h0m124-41h0m41 366h0m24-370h0m14-7h0m28 30h0m11 319h0m44-6h0m19-275h0m9 30h0m36-4h0m23 101h0m111 127h0m29-108h0"/>
<path class="m" d="M433 1836h0m82-16h0m12 7h0m4 44h0m127 123h0m65 16h0m14-240h0m37-106h0m3 115h0m76-18h0m180 20h0m8 299h0m206-154h0m43 146h0m8-124h0m0-89h0m31 80h0m12 56h0m22-23h0m77-25h0"/>
<path class="f" d="M631 1815h0m2 118h0m37-131h0m77-40h0m60 278h0m2-271h0m20 43h0m41-37h0m77-26h0m53 80h0m44 233h0m22-260h0m103 246h0m24 27h0m208-66h0m2 56h0m3-171h0"/>
<path class="m" d="M477 1867h0m136 123h0m8-29h0m189-225h0m25 290h0m4-245h0m20 266h0m9-294h0m23 15h0m10-10h0m11-58h0m169 104h0m86 16h0m74 123h0m1-158h0m15 289h0m1-75h0m13 53h0m42-160h0m65 102h0m55 6h0"/>
<path class="f" d="M447 1802h0m45 87h0m47 58h0m35-29h0m12 13h0m26-132h0m12 132h0m5-263h0m40 132h0m50-52h0m19 14h0m60-46h0m3 311h0m136 44h0m59-230h0m28-64h0m45-21h0m69 349h0m8-317h0m15 21h0m46 297h0m6-266h0m6 233h0m7-320h0m24 319h0m31-176h0m66 45h0m15-24h0m47 93h0"/>
<path class="m" d="M557 1754h0m77 155h0m20-125h0m9 54h0m88-71h0m30 242h0m22-221h0m202 259h0m25-250h0m104 281h0m1-258h0m117-10h0m31 207h0m41-174h0m59 104h0m25 43h0m54 1h0"/>
<path class="f" d="M510 1879h0m12 22h0m84-120h0m8 77h0m46-215h0m35 160h0m25 199h0m52 27h0m11-264h0m17-43h0m16 94h0m7-114h0m43 13h0m0 14h0m63 9h0m113 344h0m75-260h0m66 230h0m9-6h0m6-66h0m54-95h0m1 33h0m19 32h0m12 146h0m1-38h0m29-74h0m11-66h0m115 61h0"/>
<path class="m" d="M518 1882h0m44-118h0m5 114h0m10 30h0m54 49h0m17 29h0m8-197h0m30 217h0m31-319h0m54 38h0m121 59h0m54-16h0m39 102h0m11 158h0m25 22h0m55-2h0m1-315h0m33 340h0m3-320h0m15 73h0m22 241h0m86-168h0m18-56h0m6 25h0m4 202h0m2 25h0m3-50h0m37-17h0m30 7h0m18-180h0m97 47h0"/>
<path class="f" d="M632 1780h0m2 159h0m13-6h0m27-96h0m56-6h0m2-51h0m117-30h0m42 7h0m64 10h0m58 24h0m116 38h0m6 210h0m77-184h0m29 173h0m88-135h0m13 108h0m46 6h0m15 14h0m79-88h0"/>
<path class="m" d="M556 1944h0m70-73h0m40-26h0m33-120h0m5 101h0m193-101h0m35 320h0m93-336h0m166 60h0m25 305h0m47-66h0m15 39h0m29-84h0m77 99h0m15-75h0m5-124h0m15 1h0"/>
<path class="f" d="M479 1752h0m70 147h0m0-38h0m22 78h0m12-90h0m10-57h0m6 192h0m140-144h0m86-64h0m7-14h0m34 301h0m47-21h0m1-270h0m6-48h0m5 97h0m6-119h0m24 80h0m32-59h0m17-169h0m20 203h0m163 87h0m7 225h0m31-22h0m5-113h0m11-129h0m2 233h0m16 12h0m41-132h0m29 109h0m9-49h0m48 38h0m14-96h0m7 36h0m13 40h0m79 30h0"/>
<path class="m" d="M591 1915h0m14 18h0m20-56h0m11 64h0m56-121h0m23 171h0m20-301h0m33 62h0m53 6h0m3 47h0m3 230h0m1-299h0m156 303h0m53-264h0m15 412h0m17-154h0m73 30h0m15-33h0m3-210h0m107 252h0m4-169h0m41 68h0m21-166h0m27 121h0m54-79h0"/>
<path class="f" d="M536 1800h0m8 104h0m39-30h0m14 8h0m9 25h0m92-28h0m40 162h0m144-217h0m17-185h0m1 443h0m17-351h0m68 328h0m14-336h0m37 14h0m18 59h0m70-6h0m148-32h0m13 126h0m7-54h0m10 88h0"/>
<path class="m" d="M616 1858h0m36-65h0m12-20h0m17 17h0m27 177h0m63-193h0m15 261h0m73-224h0m68 235h0m60-257h0m175 40h0m3-48h0m1 286h0m41-274h0m44 59h0m18 182h0m94-107h0"/>
<path class="f" d="M570 1817h0m25 169h0m17 27h0m56-269h0m18 35h0m15 108h0m10-82h0m2 88h0m1-104h0m21 263h0m32-233h0m24 95h0m16-119h0m67-15h0m32-7h0m57 18h0m3-156h0m2 389h0m3-301h0m46 337h0m25-17h0m4-223h0m75 32h0m81-9h0m29 81h0m22 87h0m46-171h0m12 228h0m58-101h0m8-41h0m7 153h0"/>
<path class="m" d="M611 1867h0m43 109h0m4 13h0m22-77h0m5 102h0m61-175h0m14-29h0m31-51h0m24 0h0m65-79h0m39-50h0m62 433h0m91-373h0m42 47h0m41 337h0m20-253h0m18 7h0m0-39h0m10 66h0m34 210h0m19-202h0m15 208h0m57-118h0m0-28h0"/>
<path class="f" d="M470 1973h0m78-26h0m46-22h0m2-31h0m52-155h0m57 39h0m6-65h0m28 83h0m71 5h0m70-38h0m21 1h0m33 61h0m85-105h0m57 326h0m9 14h0m17-342h0m9 93h0m2 253h0m68-238h0m25 231h0m14-228h0m41 18h0m1 95h0m33 84h0m1-34h0m60-80h0"/>
<path class="m" d="M489 1867h0m16 62h0m29-33h0m115 8h0m24-37h0m12-14h0m16-106h0m1 154h0m60-122h0m1 46h0m7-96h0m8 7h0m28 263h0m28 61h0m136-51h0m59-196h0m125 248h0m59-14h0m6-120h0m0-99h0m20 256h0m3-132h0m41 31h0m24-74h0m52 75h0m7 80h0"/>
<path class="f" d="M439 1906h0m16 111h0m78-227h0m47 117h0m9-58h0m9 58h0m14-138h0m23 54h0m33 26h0m12-108h0m0 242h0m28-101h0m72 112h0m35-444h0m1 253h0m13 16h0m79-95h0m51 33h0m12 279h0m17-301h0m17-22h0m30 328h0m32-291h0m53 60h0m74 12h0m21 98h0m13-50h0m5 172h0m3-24h0m47 28h0m6-79h0m101 56h0"/>
<path class="m" d="M433 1949h0m75 6h0m47-169h0m61 74h0m36 28h0m27-42h0m17-54h0m13 108h0m50-107h0m38 4h0m6 5h0m10-21h0m32-14h0m51-31h0m64 43h0m13-27h0m11 292h0m22 19h0m27-326h0m42 32h0m56-15h0m10 36h0m0-13h0m36-130h0m11 412h0m6-264h0m17 101h0m32 0h0m4 120h0m61-78h0m29-92h0m13 120h0m156-94h0"/>
<path class="f" d="M473 1935h0m22 40h0m75-212h0m19 112h0m13 65h0m41 30h0m7-156h0m10 127h0m38-137h0m10-25h0m25-16h0m31 25h0m24-16h0m12-20h0m35 283h0m17-310h0m45 312h0m4-22h0m20-198h0m76 125h0m123-102h0m6 195h0m2 31h0m16-23h0m7 12h0m1-4h0m3-264h0m13 15h0m30 230h0m4-142h0m1-26h0m29 204h0m37 18h0m22-156h0m54 170h0m80-183h0"/>
<path class="m" d="M572 1886h0m44 20h0m6-3h0m21-23h0m6-41h0m10 116h0m3-27h0m7 2h0m21-164h0m3 65h0m10-10h0m29 119h0m8-153h0m240-24h0m7 291h0m13-318h0m47 39h0m20 276h0m92-45h0m6-151h0m19 220h0m33-182h0m1-25h0m1 47h0m14-58h0m21 188h0m10-45h0m9 72h0m60-95h0m72 64h0m40-144h0"/>
<path class="f" d="M529 1816h0m9 19h0m70-50h0m32 186h0m15-168h0m33 152h0m14-86h0m14 23h0m10-171h0m18 293h0m24-362h0m1 108h0m81 16h0m13-38h0m108 19h0m20 69h0m9-83h0m58 29h0m11 20h0m36 239h0m21-331h0m18 151h0m3 88h0m53 80h0m12-174h0m15-23h0m6 5h0m2-10h0m7 112h0m11-7h0m3 100h0m11-205h0m29 67h0m68 108h0m88 50h0"/>
<path class="m" d="M577 1959h0m64-67h0m29 26h0m34 58h0m0-167h0m6 54h0m9-28h0m12 10h0m12-106h0m31 6h0m2 57h0m4-183h0m9 174h0m27 158h0m128-127h0m35 20h0m61-143h0m44 338h0m103-189h0m19 81h0m27-13h0m27 14h0m14-11h0m4-35h0m11 155h0m82-93h0m21 50h0"/>
<path class="f" d="M443 1803h0m146 107h0m26 48h0m47-99h0m3-39h0m22 152h0m7-122h0m17-54h0m27 194h0m21 14h0m33 10h0m80-256h0m58-45h0m11 328h0m2-291h0m2 272h0m1 27h0m69-3h0m23-274h0m54 13h0m23 41h0m8 232h0m1-223h0m10 199h0m2-230h0m34 295h0m51-145h0m1-15h0m11 114h0m23-59h0m2 32h0m51-6h0m163-56h0"/>
<path class="m" d="M597 1711h0m18 8h0m46 229h0m1-53h0m1 73h0m4-65h0m0 34h0m8 30h0m6-65h0m3-85h0m17 161h0m27-208h0m12 193h0m9-61h0m40-173h0m38-61h0m16 112h0m53-34h0m4 302h0m0-269h0m4-53h0m23-17h0m22-50h0m35 128h0m86 32h0m115 36h0m16 1h0m67 172h0m7-38h0m81 28h0m97 0h0m24-134h0"/>
<path class="f" d="M532 1803h0m48 42h0m48 17h0m46-33h0m4-49h0m23 218h0m47-206h0m16 140h0m16-139h0m36 18h0m37 226h0m16-357h0m3 112h0m2-60h0m139 49h0m4 277h0m4-266h0m10 261h0m13-1h0m34-265h0m26 42h0m1 238h0m49-287h0m4 28h0m5 234h0m43-116h0m8-53h0m43 192h0m10-165h0m13 131h0m36-103h0m24-27h0m93 67h0"/>
<path class="m" d="M541 1953h0m62-1h0m42-50h0m8-49h0m22 154h0m19-48h0m28-117h0m22-37h0m39 87h0m8-45h0m4-81h0m35 33h0m18 235h0m3-216h0m77-22h0m32-79h0m1 5h0m28 32h0m4 8h0m21 281h0m5-279h0m17 68h0m24-38h0m28 243h0m35-270h0m4 24h0m50 247h0m20-16h0m1-179h0m19 42h0m5 152h0m31-191h0m10 80h0m15 15h0m14 84h0m4-75h0m23 41h0m4-85h0m2 118h0m11-81h0"/>
<path class="f" d="M577 1758h0m11 148h0m15 11h0m23 89h0m6-23h0m22-160h0m10 156h0m3-92h0m7-164h0m2 174h0m9 50h0m26-115h0m5-14h0m12-28h0m35 3h0m12 178h0m46-188h0m1 53h0m14 174h0m25-190h0m40 200h0m10-4h0m22-211h0m16 18h0m5-17h0m9-9h0m20 215h0m8-245h0m4 257h0m5 32h0m12-281h0m48 0h0m25-7h0m0 299h0m9-6h0m56-195h0m2-57h0m25 237h0m6-42h0m5-142h0m4 151h0m0-115h0m48 111h0m15-308h0m2 222h0m12-38h0m2-6h0m20 127h0m2-21h0m0 80h0m18 0h0m37-171h0"/>
<path class="m" d="M592 1932h0m101-42h0m17 33h0m2-134h0m58 151h0m3-266h0m6 394h0m2-198h0m13-89h0m9-31h0m5 127h0m8 63h0m8 114h0m58-12h0m14-242h0m12-21h0m39-35h0m128 64h0m9 228h0m44-226h0m34 218h0m35-141h0m2 164h0m3 12h0m17 19h0m13-34h0m10-162h0m31 8h0m8 125h0m7-40h0m23-48h0m5 8h0m6-44h0m87 135h0m64-87h0"/>
<path class="f" d="M553 1830h0m5 49h0m85-45h0m2 162h0m9 4h0m7-160h0m1-60h0m0 39h0m13 3h0m4 17h0m34 120h0m42 55h0m37-70h0m23 84h0m16 23h0m25 8h0m11-238h0m5 199h0m5-154h0m122-76h0m4 283h0m1-41h0m60 4h0m45-195h0m8 204h0m25-188h0m14-19h0m22-33h0m3 131h0m16 2h0m6 123h0m18-20h0m32-66h0m5-15h0m1-77h0m7 69h0m1 1h0m5-26h0m17 137h0m19-112h0m0-130h0m2 183h0m16-25h0m7-10h0m22 45h0m19-129h0m55 154h0m25-215h0"/>
<path class="m" d="M541 1839h0m13 75h0m31 1h0m53-68h0m12 97h0m31-84h0m6-21h0m3 73h0m13 79h0m13-101h0m8 44h0m53-90h0m26-67h0m122 15h0m27 3h0m29 10h0m3-69h0m6 102h0m45-109h0m22 112h0m47-59h0m21 61h0m39 220h0m33-21h0m25-193h0m17 110h0m18-3h0m24-92h0m37 181h0m3-70h0m7 40h0m5-50h0m12-14h0m73 12h0"/>
<path class="f" d="M605 1972h0m18-63h0m4 66h0m7-53h0m10 58h0m0-119h0m3 17h0m29-48h0m6 135h0m10-116h0m4-13h0m0-27h0m9 173h0m6-80h0m8-32h0m1 71h0m18 8h0m9-2h0m31-89h0m13 40h0m25-56h0m26 13h0m3-92h0m84 112h0m1 157h0m35 13h0m11-251h0m26-53h0m12 114h0m9 185h0m2-253h0m13 28h0m27 237h0m26-78h0m2-171h0m39 251h0m8-350h0m3 355h0m2-29h0m19-56h0m8-77h0m70-18h0m8 152h0m3-92h0m1-88h0m25 169h0m22-51h0m14 46h0m2 67h0m7-90h0m15-71h0m10 135h0m101-17h0m15 46h0"/>
<path class="m" d="M426 2014h0m94-305h0m25 197h0m70 12h0m6-26h0m54 65h0m9-91h0m33-23h0m34 51h0m3-71h0m27 33h0m1 11h0m104-102h0m23 255h0m15-3h0m3-247h0m15-3h0m5 291h0m1-221h0m43-125h0m7 283h0m18-214h0m5-49h0m22 67h0m6-14h0m36 149h0m15-93h0m81-12h0m10 33h0m7-28h0m23 60h0m10 18h0m17 116h0m17 100h0m13-159h0m1 42h0m0-87h0m1 80h0m0 38h0m1-134h0m13 26h0m42-14h0"/>
<path class="f" d="M560 1905h0m60 35h0m1 45h0m13-95h0m26-46h0m20 51h0m9-23h0m37 93h0m7 41h0m1-150h0m22-42h0m4 0h0m11 36h0m2-68h0m9 35h0m16 33h0m7-40h0m40 215h0m9-178h0m27-39h0m32 225h0m22-402h0m9 65h0m23 146h0m6 183h0m44-209h0m2-15h0m3 4h0m10-38h0m12 26h0m38-20h0m8 92h0m2-111h0m6 273h0m40-248h0m8 126h0m3-75h0m17 134h0m1 92h0m40-117h0m1 67h0m22-117h0m1-32h0m7 81h0m2-7h0m1-102h0m3 234h0m9-271h0m13 96h0m3 51h0m24 108h0m3-60h0m14-54h0m10 120h0m201-82h0"/>
<path class="m" d="M536 1983h0m103-55h0m12 4h0m36-49h0m1 8h0m4 49h0m3-122h0m6 1h0m11-97h0m2 229h0m16 8h0m23-200h0m3 53h0m20 107h0m10-77h0m26-30h0m10 200h0m5 10h0m12-290h0m21 109h0m3 142h0m63-270h0m16 71h0m38 53h0m16 8h0m3-72h0m3 52h0m3 216h0m12 14h0m7-21h0m13-288h0m5 284h0m24-199h0m19-4h0m9-6h0m0 147h0m9-51h0m48-7h0m9-62h0m6-24h0m28-99h0m11 187h0m24-59h0m35 54h0m31-12h0m24 178h0m4-56h0m31 12h0m4-147h0m18 100h0m57-89h0"/>
<path class="f" d="M555 1809h0m33-1h0m6 0h0m31 47h0m3 41h0m5-2h0m9 50h0m47-51h0m3-27h0m3 109h0m7-14h0m6-27h0m7-29h0m15 28h0m0 51h0m5-205h0m3 219h0m8-130h0m0 134h0m3-87h0m4-80h0m29 49h0m2-25h0m1 133h0m5-158h0m1 119h0m21 19h0m3-188h0m3 197h0m1 41h0m1-13h0m1-236h0m1 218h0m25-209h0m2 160h0m28-157h0m10-81h0m16 94h0m12 206h0m8 23h0m16-265h0m21 20h0m0 59h0m17 197h0m6-267h0m63 258h0m0-9h0m17-296h0m16 113h0m22-22h0m13 182h0m8 18h0m24-172h0m2 33h0m16-2h0m8 154h0m2-166h0m1-21h0m4 16h0m4 112h0m3 96h0m11-8h0m4-246h0m7 20h0m27 115h0m20 95h0m3-70h0m12 31h0m42-43h0m8 125h0m9-239h0m38 190h0m28-50h0"/>
<path class="m" d="M601 1842h0m9 2h0m14 45h0m10 12h0m72-66h0m11 14h0m8-4h0m0-25h0m16 11h0m1 123h0m8-84h0m6-156h0m5 220h0m10-49h0m1 81h0m12-15h0m7-160h0m36 57h0m4-77h0m13 229h0m0-292h0m15 118h0m8 98h0m1-93h0m2 212h0m2-34h0m2-169h0m19 168h0m6-10h0m2-213h0m5 245h0m14-265h0m14 263h0m6-234h0m17 241h0m31-201h0m9-66h0m19-20h0m6 117h0m19-73h0m11 248h0m14-227h0m41-43h0m31 151h0m35-17h0m0 26h0m1 37h0m6-153h0m4 80h0m13 102h0m10 38h0m10-59h0m5-66h0m13 27h0m57 5h0m17 40h0m25-62h0m16 13h0m76-49h0"/>
<path class="f" d="M578 1861h0m39-17h0m23-8h0m4 87h0m9-95h0m14 136h0m9-32h0m8-98h0m6 90h0m27 54h0m7-99h0m2 97h0m14-73h0m12 93h0m7-43h0m10-101h0m3-47h0m2 65h0m2-34h0m9 50h0m8 145h0m10-166h0m14-198h0m12 126h0m3 244h0m0-28h0m1-12h0m4-222h0m14 47h0m2 162h0m6 11h0m10-234h0m11 204h0m19 79h0m28-259h0m24 5h0m1 39h0m3-101h0m7 338h0m5-58h0m3-172h0m7-8h0m3 209h0m9 45h0m11-62h0m52-195h0m1 211h0m2-326h0m15 41h0m1 335h0m4-25h0m1-236h0m0 106h0m1 75h0m2 64h0m2-191h0m17 161h0m10-252h0m1 17h0m8 176h0m6 49h0m10-106h0m11-100h0m9 75h0m6 112h0m3-170h0m9 107h0m22-9h0m9-37h0m0 5h0m3-23h0m3-8h0m6 183h0m2-147h0m10 109h0m3 5h0m3-90h0m12 36h0m9-107h0m21 139h0m15-87h0m9 145h0m7-67h0m47 94h0m9-30h0m18 26h0m15-83h0"/>
<path class="m" d="M551 1872h0m48-45h0m3 140h0m5-58h0m47 12h0m19 28h0m7-27h0m1 45h0m11-13h0m63-119h0m11-69h0m4 238h0m4-24h0m6-23h0m0 46h0m3-25h0m3-11h0m4-6h0m2 10h0m13 39h0m35-213h0m9 184h0m18-156h0m21 198h0m2-233h0m21 204h0m5-227h0m22 36h0m21 45h0m23 17h0m2-50h0m12-49h0m4 20h0m54 7h0m22 242h0m12-252h0m17 107h0m34 95h0m5-92h0m40-6h0m3-77h0m2 148h0m8-109h0m12-34h0m22 107h0m13-12h0m6 23h0m6 51h0m19-165h0m1 49h0m3 103h0m20-77h0m29 40h0m18 65h0m37-80h0"/>
<path class="f" d="M323 1828h0m232 111h0m46-18h0m38-63h0m28 7h0m2 57h0m13-7h0m5-14h0m9 6h0m6 5h0m3 10h0m1 24h0m5-105h0m11 154h0m3-128h0m17 145h0m4-24h0m5-235h0m1 234h0m5 33h0m8-32h0m1-97h0m1-30h0m12 58h0m0-239h0m11 199h0m1 58h0m5-125h0m28 141h0m5-3h0m3 93h0m23-104h0m14 94h0m2-224h0m1 22h0m6 4h0m4 174h0m10-147h0m3 34h0m26-97h0m17 257h0m5-80h0m19-177h0m0 36h0m12 215h0m46-218h0m1 3h0m23-70h0m13 288h0m1 12h0m16-130h0m7 94h0m2-3h0m4-226h0m10 101h0m7-178h0m0 111h0m16-76h0m3 233h0m2 33h0m3-92h0m19 107h0m3-162h0m3 105h0m0-209h0m1 203h0m1-182h0m6 130h0m27 92h0m2-18h0m1 28h0m1-208h0m5 93h0m5-35h0m7 145h0m5-67h0m2-228h0m5 337h0m13-58h0m7-39h0m0 13h0m15-106h0m20 148h0m4-64h0m5 40h0m5-34h0m56 51h0m152 93h0m128-92h0"/>
<path class="m" d="M466 1680h0m127 178h0m21 67h0m3 3h0m20 44h0m15-113h0m3 5h0m18 126h0m23-148h0m1 87h0m0-15h0m6-41h0m11-98h0m1 38h0m2 16h0m2 95h0m5-37h0m13 26h0m3 15h0m7-4h0m12-80h0m5 28h0m10 88h0m11-16h0m0-43h0m4 32h0m21 32h0m2 26h0m10-14h0m6-222h0m3 140h0m2-15h0m8 61h0m4-110h0m10 204h0m9-231h0m0 201h0m16-178h0m2 53h0m5 161h0m10-230h0m2 50h0m2 29h0m3 64h0m6-162h0m10 161h0m9-198h0m11 62h0m13-133h0m36 167h0m17 172h0m10-204h0m1-75h0m12 73h0m3 18h0m5 148h0m24-84h0m0-98h0m3 99h0m16-43h0m5 215h0m3-262h0m0-69h0m9 131h0m6 154h0m1-225h0m18 15h0m3 70h0m5-11h0m17 9h0m4-28h0m5 166h0m19-116h0m3 62h0m11-181h0m2 234h0m3-184h0m17 25h0m25 159h0m8-113h0m3-22h0m47-46h0m24 196h0m9-204h0m2 256h0m58-87h0"/>
<path class="f" d="M519 1917h0m26-24h0m55 2h0m5-132h0m5 130h0m26 86h0m6-189h0m3-8h0m3 28h0m0 109h0m67-2h0m8-11h0m7-41h0m10-65h0m9 45h0m1 111h0m10 21h0m3 22h0m1-77h0m22-111h0m3 75h0m12-75h0m12-41h0m3-25h0m1 101h0m6 148h0m9-44h0m4-88h0m3 38h0m12-102h0m4-17h0m8 260h0m3-287h0m4 187h0m10-1h0m2 52h0m4-110h0m12-85h0m6 234h0m4-20h0m2-226h0m4 25h0m16 205h0m16-154h0m7 112h0m2-282h0m3 173h0m11 6h0m5-40h0m4-40h0m1-12h0m6 250h0m4-247h0m0 129h0m7-98h0m10 40h0m8 182h0m18 28h0m5-160h0m0 75h0m2-194h0m9 62h0m5 120h0m6 6h0m3 44h0m9-237h0m16 58h0m16 100h0m3 109h0m0-252h0m2 80h0m17-20h0m2 154h0m6-11h0m6-13h0m4-98h0m7 124h0m0 25h0m5-150h0m5-25h0m11 197h0m1-207h0m1 58h0m3 38h0m23-68h0m11 43h0m6 100h0m6-22h0m14-33h0m2-97h0m11 3h0m5 30h0m30 2h0m1 32h0m3 10h0m11 27h0m125 91h0"/>
<path class="m" d="M614 2000h0m19-207h0m13 57h0m31 84h0m6-60h0m3-77h0m5 48h0m10-51h0m12 89h0m5-21h0m0 97h0m22-61h0m12 107h0m6-117h0m1-26h0m5 39h0m1-100h0m17 4h0m3 103h0m3 103h0m8-130h0m9 105h0m12-134h0m5 122h0m11-167h0m5-56h0m15 239h0m26-193h0m1 93h0m5 155h0m0-264h0m5 246h0m1-54h0m1 40h0m2-65h0m2 77h0m9-92h0m20-63h0m1-30h0m5 65h0m1-91h0m4 62h0m3 139h0m9-27h0m10-220h0m7 170h0m4-134h0m22-64h0m11 107h0m2 28h0m10-29h0m2 195h0m2-188h0m14 157h0m1-190h0m0-17h0m2 125h0m0-86h0m5 174h0m0-150h0m7-59h0m5 71h0m5-24h0m10-79h0m6 34h0m11 63h0m5-34h0m9 52h0m19 143h0m0 20h0m3-80h0m2-166h0m8 99h0m1 115h0m6 11h0m23-66h0m4-102h0m12 113h0m9 5h0m2-109h0m2 167h0m9-73h0m0-15h0m12 83h0m7-174h0m5 43h0m7-30h0m2 29h0m3 76h0m5-69h0m24 71h0m0 36h0m12-89h0m46 30h0m22-18h0m61 151h0m7-173h0"/>
<path class="f" d="M539 1815h0m88 165h0m13 2h0m18-109h0m7-78h0m20 138h0m18-75h0m14-85h0m2 24h0m6 124h0m0-18h0m4-6h0m4 79h0m12-94h0m1-65h0m8 75h0m3-66h0m1 83h0m2 16h0m16 18h0m13-74h0m4 107h0m5-44h0m5 5h0m3-85h0m10 167h0m3-194h0m5 35h0m8-2h0m3 30h0m2-40h0m9 38h0m2-147h0m2 213h0m9-146h0m8 77h0m0-12h0m2 92h0m3-75h0m2-68h0m11-12h0m6 39h0m12-27h0m11 85h0m5-37h0m1 38h0m14 126h0m1-296h0m2 142h0m6 157h0m3-23h0m2-97h0m12-103h0m12 248h0m8-57h0m5-89h0m12 131h0m3-164h0m2 165h0m3-226h0m1 16h0m0-72h0m3 33h0m10 74h0m5 61h0m2 64h0m2-87h0m5 82h0m12-9h0m13-30h0m2-44h0m2 88h0m1-50h0m4-204h0m6 128h0m3-3h0m2-74h0m3 124h0m2 58h0m2-161h0m0 220h0m5-118h0m1-39h0m0 197h0m3-127h0m4-7h0m4-137h0m2 151h0m8-125h0m23 67h0m1-101h0m3 114h0m4-67h0m7 124h0m3-72h0m3-26h0m0 187h0m19-98h0m4 0h0m5-48h0m1 85h0m4-44h0m1 18h0m1-84h0m0 102h0m3-150h0m4 84h0m16 114h0m1-132h0m16 62h0m4 29h0m10 80h0m4-109h0m20 17h0m0-20h0m5 24h0m16 16h0m5 15h0m55-19h0m2-148h0m2 219h0m6-54h0m0-52h0m2-144h0m11 77h0m35 108h0"/>
<path class="m" d="M518 1904h0m90-273h0m32 219h0m19 156h0m3-84h0m4-112h0m3 178h0m7-105h0m11 10h0m9 46h0m4 1h0m20 151h0m11-288h0m6 17h0m3 37h0m1-9h0m12 85h0m16 41h0m11-138h0m11 147h0m6-129h0m0 56h0m6-82h0m4 76h0m6-78h0m2 86h0m0-7h0m1 129h0m4-119h0m0-42h0m11-125h0m25 198h0m2-87h0m2-177h0m2 108h0m1 2h0m7 246h0m10-52h0m1-301h0m2 204h0m1 21h0m1-8h0m0-29h0m2 127h0m3-206h0m9 43h0m5 44h0m8 36h0m3 23h0m4 59h0m8-169h0m6 134h0m3-173h0m3 194h0m4 15h0m6-7h0m5 8h0m13 54h0m0-106h0m5-56h0m5-131h0m9 60h0m5-23h0m9 68h0m4 66h0m4 3h0m11 92h0m1-180h0m10 12h0m3 74h0m1 89h0m5-97h0m0-16h0m3 21h0m3 22h0m2 10h0m4-76h0m2-31h0m4-43h0m1 11h0m7 183h0m4-276h0m11 211h0m16-113h0m8-13h0m28 102h0m1-44h0m19 69h0m4-3h0m8-7h0m5-20h0m2 22h0m0-106h0m4 143h0m0-56h0m6-35h0m0-187h0m8 123h0m1 167h0m15-44h0m24 66h0m9-20h0m28-97h0m31 68h0m22 47h0m10-4h0m16-28h0m26 49h0m7-50h0"/>
<path class="f" d="M482 1927h0m5-10h0m65-38h0m31-122h0m11 119h0m45 25h0m15 53h0m5-126h0m19 115h0m22 15h0m5-115h0m2 60h0m12 83h0m19-43h0m3-49h0m3 28h0m2-16h0m6 35h0m5-92h0m6 114h0m7-20h0m1 49h0m13-57h0m9-83h0m1-106h0m1 58h0m1-16h0m3 202h0m3 3h0m1-177h0m15 17h0m1-29h0m0-16h0m2 210h0m5-92h0m19-88h0m1-8h0m5 101h0m4 107h0m2-9h0m14-135h0m4-91h0m2 134h0m5-114h0m6 145h0m2 34h0m10-40h0m0-12h0m3 69h0m4-153h0m1 81h0m1 110h0m1-147h0m8 149h0m6-40h0m3-64h0m5-49h0m8 55h0m1 73h0m7 7h0m2-93h0m0 39h0m3-118h0m1 179h0m6-102h0m2 1h0m1-7h0m5 22h0m2-63h0m2 122h0m0-139h0m5 133h0m0-143h0m0 7h0m0 112h0m5 87h0m2-117h0m2-10h0m5 67h0m1 9h0m0-134h0m1 145h0m1-141h0m0-29h0m1-41h0m2 13h0m3 148h0m1-187h0m5 221h0m2-10h0m4-68h0m1-41h0m2 8h0m7 34h0m0-38h0m1-116h0m0 104h0m5 125h0m1-155h0m0-20h0m3 207h0m12-54h0m2-18h0m1-29h0m6-148h0m5 103h0m5-9h0m1 13h0m1-29h0m0 136h0m3-53h0m0 29h0m3-88h0m0 26h0m2 105h0m7-45h0m2-57h0m6 9h0m3-17h0m1 119h0m5-61h0m3 9h0m23-174h0m4 187h0m1 58h0m1-124h0m3-54h0m2 144h0m2-133h0m3 148h0m0 26h0m2-231h0m11 179h0m5-67h0m4 8h0m3 55h0m2 4h0m1 31h0m0-148h0m13 42h0m5 62h0m6-46h0m2-33h0m5 52h0m5-56h0m1-90h0m9 152h0m6-16h0m1 73h0m1 36h0m3-53h0m34-95h0m5 79h0m4 2h0m2 5h0m2-42h0m9 0h0m17 49h0m2-17h0m12-81h0m0 137h0m5-19h0m80 9h0m8-12h0"/>
<path class="m" d="M581 1919h0m39 31h0m8-78h0m0 12h0m17-12h0m18-108h0m0 125h0m2-11h0m8 106h0m2-102h0m13 109h0m29-45h0m12-32h0m4 11h0m12 38h0m9-86h0m1-203h0m12 272h0m8-17h0m8 56h0m3-82h0m5-39h0m1-124h0m2 66h0m2 55h0m0 24h0m1 71h0m1-57h0m2-60h0m9 153h0m1-108h0m6-96h0m1 215h0m3-107h0m3 46h0m3-120h0m11-3h0m3 143h0m8-7h0m1-96h0m6 65h0m0-63h0m0 165h0m1-158h0m3 105h0m0-127h0m3 145h0m3 20h0m0-33h0m1-135h0m8 87h0m7-419h0m2 352h0m3 125h0m4-65h0m1-16h0m5-37h0m0 114h0m0-50h0m1-83h0m1-28h0m1 115h0m8-59h0m5-37h0m1 107h0m3-123h0m2-7h0m0 15h0m2 175h0m5-116h0m11 81h0m2-69h0m6 111h0m1 25h0m6-223h0m0 83h0m4 108h0m0-16h0m3-173h0m1 126h0m0-30h0m0 58h0m5-12h0m1 46h0m3-196h0m3 59h0m0 150h0m1-45h0m3-43h0m5 32h0m0 53h0m1-75h0m1-126h0m1 185h0m12-99h0m3 81h0m5-98h0m1 109h0m1-192h0m5 217h0m4-6h0m1-111h0m13 153h0m5-181h0m11 19h0m4 48h0m7-114h0m8 19h0m0 88h0m7-4h0m8 61h0m3-48h0m7 38h0m5 3h0m7 56h0m0-183h0m2 108h0m1-103h0m11-153h0m1 124h0m11 105h0m1-19h0m0 80h0m2-110h0m1-44h0m7-78h0m1 68h0m0 26h0m1 138h0m3-51h0m13-120h0m3 78h0m2-171h0m18 134h0m12 84h0m6-1h0m23-13h0m10 97h0m5-81h0m7 46h0m3-9h0m3-131h0m1 92h0m9-105h0m2 79h0m7-54h0m4 141h0m9-34h0m25-57h0m5-53h0m14 89h0m6 47h0m42-192h0"/>
<path class="f" d="M576 1903h0m35-173h0m18 113h0m35-79h0m2 107h0m15 103h0m4 44h0m10-36h0m17-105h0m3 96h0m0-217h0m10 15h0m5 113h0m7 96h0m1-6h0m7-8h0m0-197h0m7 100h0m0 101h0m1-190h0m4 151h0m5-54h0m2 41h0m8-95h0m1 67h0m11 41h0m4-47h0m1 103h0m6-4h0m0-59h0m2-6h0m1-14h0m3 43h0m5 27h0m3-80h0m2 66h0m3-30h0m3-4h0m0-130h0m10 96h0m1 45h0m2 50h0m4-8h0m3 40h0m1-211h0m2 136h0m3-53h0m2-23h0m1 124h0m0-202h0m2 180h0m4-39h0m2-98h0m2-44h0m1 90h0m5 73h0m1-10h0m1-10h0m4 90h0m3-141h0m1 111h0m4-69h0m1-148h0m9 74h0m1 101h0m1-64h0m1-52h0m2 134h0m5-199h0m1 170h0m0-63h0m3 81h0m1-271h0m2 289h0m2-164h0m3 55h0m1-7h0m2-34h0m1-5h0m5-79h0m3 177h0m2 77h0m0-107h0m7 85h0m2-79h0m3 63h0m0 52h0m3-15h0m0-130h0m2 30h0m3-23h0m6-61h0m1 82h0m2-23h0m0 41h0m1 125h0m2-131h0m4 158h0m0-204h0m1 162h0m3-104h0m3-9h0m4 15h0m1-142h0m1 51h0m1 116h0m1-12h0m1-101h0m1 43h0m2-61h0m3 107h0m6 24h0m2-70h0m1 76h0m6-18h0m1-131h0m0 145h0m5-93h0m0 102h0m3-19h0m4 12h0m2-64h0m0 59h0m1 55h0m3-167h0m3 147h0m3 24h0m2-39h0m3-122h0m0 140h0m1 21h0m0-112h0m3 53h0m0-88h0m10 167h0m0-83h0m0 58h0m2-148h0m1 4h0m1 16h0m0 119h0m6-160h0m2 107h0m2 2h0m1-50h0m0 102h0m3 16h0m2-76h0m2 8h0m0-103h0m2 26h0m3-17h0m7-29h0m0 146h0m0-19h0m2-100h0m0 11h0m3-109h0m2 104h0m1-6h0m2 37h0m2 150h0m0-23h0m1-154h0m0 146h0m1-116h0m2 149h0m1-143h0m0 37h0m1 91h0m1-10h0m3-6h0m1-77h0m2 44h0m7 72h0m2-77h0m1 38h0m1-232h0m3 152h0m1 100h0m5-151h0m0 155h0m2-65h0m1-34h0m1 20h0m8 8h0m6-73h0m1 49h0m0 80h0m3-178h0m1 32h0m0 82h0m1 15h0m4-32h0m3 64h0m11 21h0m3-119h0m1 16h0m4 26h0m12 86h0m6 7h0m5-28h0m2-33h0m11 76h0m9-128h0m2-91h0m1 168h0m1 15h0m7 6h0m4-47h0m34-144h0m4 142h0m9-34h0m9-116h0m2 5h0m3 86h0m17 146h0m2-59h0m13-45h0m9 33h0m7 45h0"/>
<path class="m" d="M609 1912h0m26-36h0m27-93h0m0 3h0m12 6h0m17 125h0m12-146h0m8 81h0m5 85h0m1 7h0m3 20h0m0-152h0m3-13h0m3 55h0m2 57h0m3-42h0m3-41h0m3 169h0m2-134h0m2 83h0m7-89h0m3-11h0m11 69h0m3-12h0m9-17h0m1 68h0m0-56h0m5 10h0m11-76h0m3 132h0m12-123h0m5 90h0m0 79h0m5-148h0m4 78h0m0 31h0m5 0h0m1-96h0m6 17h0m2-54h0m2 119h0m2-163h0m3 84h0m3 98h0m1-139h0m1 12h0m2 117h0m4 32h0m1-100h0m6 2h0m0 12h0m2 51h0m1-29h0m3-34h0m1-44h0m3-117h0m3 261h0m0 30h0m0-85h0m0-95h0m14-92h0m1 180h0m4-58h0m1 109h0m1-116h0m9 25h0m2 94h0m3-20h0m1-62h0m1 34h0m3-121h0m1-67h0m9 269h0m1-94h0m0-122h0m0 110h0m1 48h0m0-238h0m2 127h0m1-95h0m1 103h0m0 45h0m9-17h0m2-10h0m0-45h0m4 129h0m1-112h0m7-153h0m2 244h0m0 18h0m3-26h0m0-199h0m3 256h0m1-95h0m0 80h0m1 36h0m2-29h0m6-98h0m2 103h0m0-171h0m3 177h0m4-98h0m1 12h0m2 128h0m5-152h0m0 11h0m1 76h0m4-289h0m11 203h0m4-24h0m1 45h0m0-99h0m2 59h0m2 82h0m3-149h0m2 190h0m0-148h0m3 94h0m10-24h0m5-30h0m1 63h0m9 54h0m4 1h0m2-143h0m5 67h0m0 53h0m2 66h0m4-174h0m1 60h0m1-67h0m4 177h0m1-145h0m17 49h0m2-46h0m3 37h0m5 62h0m3-69h0m4 125h0m2-39h0m2-114h0m0-37h0m2 174h0m2-112h0m6-62h0m1-101h0m2 118h0m3 37h0m4-22h0m0 27h0m3-160h0m0 233h0m3-39h0m1-13h0m2-91h0m2 31h0m0 94h0m6-138h0m1 134h0m0 31h0m0 12h0m10-198h0m7 173h0m4-121h0m1 35h0m1-38h0m3 12h0m0-12h0m0 23h0m1-10h0m4 117h0m13-95h0m19 72h0m4 22h0m5-18h0m3-117h0m13 12h0m13 30h0m15 119h0m5-2h0m2-51h0m8 2h0m19-15h0m1 207h0m6-116h0m9-59h0m188-50h0"/>
<path class="f" d="M612 1890h0m42-8h0m10 107h0m3-80h0m6-177h0m6 140h0m18 40h0m17-54h0m8 124h0m5-33h0m2-126h0m4-15h0m3 80h0m2-10h0m0 17h0m4-8h0m5-105h0m1 174h0m0-15h0m0-151h0m1 189h0m6 68h0m7-88h0m1-121h0m2-7h0m1-56h0m5 136h0m8-71h0m2 81h0m2-92h0m4-49h0m9 12h0m3 114h0m2 20h0m2 25h0m1-61h0m4 27h0m0-25h0m1 112h0m0-186h0m2 130h0m1-31h0m2-58h0m0 138h0m2-112h0m1-92h0m7 76h0m1 48h0m3-10h0m1 68h0m1-58h0m2 58h0m0-22h0m2-121h0m0 135h0m3 48h0m0-143h0m1-40h0m0 64h0m1 37h0m1-7h0m3-5h0m2 111h0m1-155h0m1 26h0m1 101h0m1-47h0m0 57h0m6-81h0m2-47h0m1-107h0m1 144h0m3-58h0m6-58h0m1 0h0m2 60h0m0 89h0m3 23h0m2-125h0m3 171h0m2-271h0m1 260h0m0-36h0m0 58h0m4-202h0m3 124h0m1-42h0m1-61h0m3 63h0m3 43h0m2-107h0m1 66h0m1-18h0m0 82h0m5 0h0m0-114h0m0 89h0m1-52h0m0 61h0m5-122h0m0 44h0m1 92h0m1-23h0m0-60h0m1-9h0m0-18h0m0-71h0m2 176h0m0-5h0m1-111h0m1 133h0m1-116h0m1 0h0m2 65h0m1 15h0m0-152h0m1 130h0m5 49h0m2 18h0m2-78h0m1-77h0m0 39h0m2-109h0m2 133h0m1 10h0m1 38h0m0 13h0m3-16h0m0-10h0m0-114h0m0 35h0m5-60h0m1 233h0m2-196h0m1 47h0m3 65h0m1-14h0m1-116h0m2 50h0m0-114h0m0-24h0m5 119h0m1-101h0m1 222h0m1-207h0m1 210h0m1-7h0m0-68h0m1 6h0m2-91h0m3 23h0m3 17h0m1-52h0m1 176h0m7-29h0m0 34h0m3-70h0m0-2h0m1-63h0m2 27h0m1 44h0m1-28h0m1-92h0m1 88h0m0 119h0m2-98h0m1 98h0m3-100h0m3-47h0m1 100h0m0 14h0m4-171h0m1 67h0m0-54h0m1 127h0m2-34h0m0 56h0m1-76h0m2 25h0m0 4h0m5-23h0m0 68h0m2-98h0m1-19h0m0 63h0m11-20h0m1-2h0m2 65h0m0 5h0m1-125h0m1 211h0m1-78h0m3 32h0m0-165h0m3 29h0m3 49h0m3 67h0m1 2h0m2 40h0m4-59h0m1 8h0m2-92h0m0 41h0m0 33h0m1 42h0m1-11h0m3 35h0m1-69h0m1 4h0m0-41h0m0 75h0m2-11h0m2-74h0m1 97h0m6-45h0m2 62h0m1-127h0m3-34h0m2 190h0m1-254h0m5 112h0m3-20h0m2 61h0m1 3h0m0-44h0m1 9h0m3-65h0m6 39h0m1 119h0m0-152h0m2 79h0m0 123h0m11-195h0m1-32h0m1 143h0m0-185h0m5 178h0m2-64h0m1-127h0m1 160h0m6-25h0m7 42h0m1 52h0m1-87h0m2-70h0m2 55h0m1 78h0m3-29h0m0-6h0m0 38h0m4-82h0m5-54h0m1 168h0m7-74h0m1-66h0m0 67h0m5 79h0m1-101h0m6 52h0m2 88h0m1-134h0m3-59h0m5 126h0m1-15h0m0 8h0m3-45h0m5 43h0m4 2h0m1-27h0m3-13h0m5 111h0m0-70h0m3-109h0m4 100h0m8 97h0m0-54h0m3-92h0m1 113h0m1-184h0m3 124h0m10 11h0m5-10h0m23-30h0m9-51h0m12 72h0m5 46h0m55-12h0m100-83h0m40 21h0"/>
<path class="m" d="M606 1890h0m37-97h0m36 106h0m19 67h0m3 27h0m0-116h0m2 76h0m6-137h0m1 58h0m5-23h0m3 66h0m9 79h0m10-61h0m20 34h0m2-95h0m3 65h0m4-100h0m11 89h0m3-6h0m0-155h0m0 164h0m13-107h0m3 145h0m1-97h0m8 64h0m1-105h0m1 38h0m6 9h0m7 13h0m2-8h0m0 76h0m3-32h0m3-67h0m2 106h0m2-41h0m1 65h0m1-39h0m2-13h0m0 51h0m4-242h0m1 162h0m2 70h0m2 14h0m4-270h0m3 167h0m2-48h0m7 78h0m0-6h0m8-2h0m4 58h0m0-19h0m3-49h0m4 67h0m3-13h0m1-23h0m7-113h0m2 62h0m4 12h0m0 11h0m4-76h0m5 7h0m3 35h0m8 54h0m1 6h0m2 46h0m1-125h0m1 131h0m9-155h0m1 159h0m0-42h0m0-56h0m1 98h0m2-93h0m2 34h0m2-160h0m1 188h0m4-27h0m2-51h0m3-32h0m6 141h0m0-112h0m2 13h0m1 68h0m2 30h0m4 19h0m1-45h0m8-52h0m2 45h0m0 7h0m1-12h0m0-51h0m6-13h0m5 43h0m2 31h0m2 13h0m5-108h0m2 147h0m0-7h0m1-83h0m0 54h0m5-181h0m5 101h0m1 6h0m5 24h0m0 33h0m3 17h0m6 44h0m0-97h0m1 57h0m1-27h0m4 56h0m1-168h0m0 118h0m1 10h0m8-85h0m2-60h0m0 155h0m1-65h0m1 97h0m0-110h0m4 4h0m1 20h0m4 2h0m2 90h0m2-59h0m0-50h0m1 10h0m0 121h0m3-73h0m7-128h0m6 162h0m0-70h0m1-14h0m3 66h0m1-85h0m2-8h0m5-107h0m0 184h0m4-11h0m0 41h0m10-148h0m4 144h0m0-11h0m0-96h0m2 111h0m2 65h0m1-159h0m4 85h0m0-11h0m1-34h0m0-58h0m1 63h0m1-35h0m0 59h0m1-11h0m3-55h0m1 18h0m2-58h0m1 30h0m2-33h0m4 105h0m10 54h0m6-33h0m1 2h0m0-70h0m7 10h0m5 24h0m9-31h0m4-49h0m0 135h0m6 5h0m1-28h0m2-196h0m2 222h0m4-76h0m7 102h0m6-29h0m3-4h0m4-45h0m4 1h0m16 19h0m0-5h0m7-67h0m11 82h0m1-109h0m5 129h0m41-159h0m2 181h0m10-163h0m12 132h0m39-108h0m118 171h0"/>
<path class="f" d="M794 1997h0m7-34h0m68-71h0m22 40h0m41-17h0m23-4h0m34 73h0m4-82h0m0-44h0m32 122h0m11-62h0m58-73h0m9 169h0m1-136h0m0-13h0m30-42h0m51 94h0m18-35h0m68 94h0m12 22h0"/>
<path class="m" d="M773 1874h0m19 47h0m44-99h0m46 19h0m5 94h0m45-73h0m14 22h0m3 50h0m17-82h0m14 111h0m10 19h0m50-37h0m35 50h0m99-10h0m39-186h0m15 147h0"/>
</g>
<path d="M160.3 921.6L187.5 924.6L214.7 927.5L241.9 930.5L269.1 933.4L296.3 936.4L323.4 939.3L350.6 942.3L377.8 945.2L405.0 948.2L432.2 951.1L459.4 954.0L486.6 956.9L513.8 959.7L541.0 962.5L568.2 965.3L595.4 968.1L622.6 970.8L649.8 973.6L676.9 976.3L704.1 979.1L731.3 981.8L758.5 984.6L785.7 987.4L812.9 990.1L812.9 993.7L785.7 990.7L758.5 987.8L731.3 984.8L704.1 981.9L676.9 978.9L649.8 976.0L622.6 973.0L595.4 970.1L568.2 967.1L541.0 964.2L513.8 961.3L486.6 958.4L459.4 955.6L432.2 952.8L405.0 950.0L377.8 947.2L350.6 944.5L323.4 941.7L296.3 939.0L269.1 936.2L241.9 933.4L214.7 930.7L187.5 927.9L160.3 925.2Z" fill="#92C5DE"/>
<path d="M178.0 922.9L203.7 925.6L229.4 928.4L255.1 931.2L280.8 934.0L306.5 936.7L332.2 939.5L358.0 942.3L383.7 945.0L409.4 947.8L435.1 950.5L460.8 953.3L486.5 956.0L512.2 958.6L537.9 961.3L563.6 963.9L589.3 966.5L615.0 969.1L640.8 971.7L666.5 974.3L692.2 976.8L717.9 979.4L743.6 982.0L769.3 984.6L795.0 987.2L795.0 990.6L769.3 987.9L743.6 985.1L717.9 982.3L692.2 979.5L666.5 976.8L640.8 974.0L615.0 971.2L589.3 968.5L563.6 965.7L537.9 963.0L512.2 960.2L486.5 957.5L460.8 954.9L435.1 952.2L409.4 949.6L383.7 947.0L358.0 944.4L332.2 941.8L306.5 939.2L280.8 936.7L255.1 934.1L229.4 931.5L203.7 928.9L178.0 926.3Z" fill="#0571B0"/>
<path d="M119.6 1055.7 H127.6M119.6 941.5 H127.6M119.6 827.3 H127.6M119.6 713.1 H127.6M289.6 1111.8 V1117.0M486.4 1111.8 V1117.0M683.1 1111.8 V1117.0" stroke="#333" stroke-width="3.3" fill="none"/>
<path d="M127.6 710.4 V1111.8 H845.5" stroke="#000" stroke-width="3.4" fill="none" stroke-linejoin="miter"/>
<text class="tk" text-anchor="end" x="111.0" y="1068.2">0.5</text>
<text class="tk" text-anchor="end" x="111.0" y="954.0">1.0</text>
<text class="tk" text-anchor="end" x="111.0" y="839.8">1.5</text>
<text class="tk" text-anchor="end" x="111.0" y="725.6">2.0</text>
<text class="tk" text-anchor="middle" x="283.8" y="1147.2">-2.5</text>
<text class="tk" text-anchor="middle" x="486.1" y="1147.2">0.0</text>
<text class="tk" text-anchor="middle" x="682.9" y="1147.2">2.5</text>
<text class="at" text-anchor="middle" x="486.9" y="1183.4" textLength="275.4" lengthAdjust="spacingAndGlyphs">Normalised BMFF</text>
<text class="yt" text-anchor="middle" textLength="206" lengthAdjust="spacingAndGlyphs" transform="translate(32.9 907.3) rotate(-90)">BMD (g/cm<tspan class="sup" dy="-10.1">2</tspan><tspan dy="10.1">)</tspan></text>
<text class="pl" x="-0.3" y="702.0">C</text>
<text class="pt" x="160.6" y="697.3">Total hip</text>
<g transform="translate(681.3 706.8)">
<rect x="0.75" y="0.75" width="163.0" height="116.1" rx="18" ry="18" fill="#FAF8F1" stroke="#000" stroke-width="1.5"/>
<path d="M55.0 9.8 V107.8" stroke="#000" stroke-width="1.9"/>
<text class="sb" x="12.6" y="32.3" style="font-family:'Liberation Serif',serif;font-size:29px">β</text>
<text class="sb" x="11.4" y="70.6">R<tspan style="font-size:18.6px" dy="-12.6">2</tspan></text>
<text class="sb" x="12.6" y="105.1" style="font-style:italic">P</text>
<text class="sb" text-anchor="middle" x="110.2" y="32.3">-0.029</text>
<text class="sb" text-anchor="middle" x="110.4" y="70.6">0.113</text>
<text class="sb" text-anchor="middle" x="110.6" y="105.1">&lt;2e-16</text>
</g>
</g>
<g id="panelD">
<path d="M1093.5 710.7 V1111.7M1290.5 710.7 V1111.7M1487.5 710.7 V1111.7M1684.5 710.7 V1111.7M1030.2 1074.0 H1747.5M1030.2 981.6 H1747.5M1030.2 889.2 H1747.5M1030.2 796.8 H1747.5" stroke="#e2e2e2" stroke-width="1.5" fill="none"/>
<path d="M1192.0 710.7 V1111.7M1389.0 710.7 V1111.7M1586.0 710.7 V1111.7M1030.2 1027.8 H1747.5M1030.2 935.4 H1747.5M1030.2 843.0 H1747.5M1030.2 750.6 H1747.5" stroke="#e5e5e5" stroke-width="3.0" fill="none"/>
<path d="M1189 868L1195 874L1201 851L1207 851L1213 863L1219 855L1225 834L1231 834L1237 838L1243 838L1249 834L1255 831L1261 823L1267 823L1273 823L1279 833L1285 831L1291 811L1297 821L1303 812L1309 830L1315 812L1321 822L1327 817L1333 816L1339 816L1345 815L1351 815L1357 810L1363 810L1369 829L1375 829L1381 833L1387 812L1393 820L1399 822L1405 824L1411 832L1417 835L1423 835L1429 826L1435 825L1441 842L1447 831L1453 830L1459 833L1465 844L1471 826L1477 848L1483 848L1489 833L1495 840L1501 841L1507 859L1513 860L1519 864L1525 865L1531 858L1537 873L1543 895L1549 877L1555 895L1561 893L1567 893L1573 892L1579 927L1585 905L1591 907L1591 957L1585 950L1579 980L1573 964L1567 963L1561 981L1555 970L1549 970L1543 973L1537 975L1531 977L1525 981L1519 969L1513 978L1507 980L1501 981L1495 979L1489 973L1483 978L1477 984L1471 974L1465 981L1459 983L1453 984L1447 975L1441 974L1435 976L1429 973L1423 985L1417 985L1411 985L1405 978L1399 971L1393 964L1387 981L1381 973L1375 971L1369 963L1363 973L1357 978L1351 967L1345 967L1339 966L1333 966L1327 964L1321 964L1315 975L1309 965L1303 955L1297 956L1291 953L1285 955L1279 952L1273 954L1267 951L1261 950L1255 940L1249 947L1243 930L1237 941L1231 947L1225 923L1219 913L1213 908L1207 907L1201 910L1195 920L1189 891Z" fill="#92C5DE"/>
<g transform="scale(.5)" fill="none" stroke-linecap="round" stroke-width="13.2">
<path class="f" d="M2583 1914h0m136 48h0m175 7h0m98 64h0m18-75h0m51-286h0m16 271h0m35-208h0m48 298h0"/>
<path class="m" d="M2429 1905h0m31-211h0m33-188h0m615 443h0m54-155h0m15 128h0m44-54h0m68 79h0"/>
<path class="f" d="M2295 1733h0m315-172h0m38-55h0m395 481h0m155 11h0m2-169h0m25 69h0"/>
<path class="m" d="M2565 1625h0m170 310h0m136 40h0m33-408h0m217 389h0m47-93h0m62-54h0m58 37h0"/>
<path class="f" d="M2325 1741h0m24 31h0m91 117h0m67 8h0m81 41h0m299-257h0m71-66h0m47 88h0m19 306h0m114-153h0m36-93h0m80-15h0"/>
<path class="m" d="M2346 1752h0m71 159h0m37-229h0m31-17h0m87-48h0m62-11h0m419 362h0m44-74h0m14 27h0m46 13h0m2-151h0m36 36h0"/>
<path class="f" d="M2381 1804h0m396-186h0m425 154h0"/>
<path class="m" d="M2422 1658h0m86-9h0m379 3h0m32 321h0m186-228h0m5 179h0m56 34h0m108-202h0"/>
<path class="f" d="M2520 1643h0m27 240h0m25 66h0m5-8h0m64-324h0m190 393h0m222-70h0m144 12h0"/>
<path class="m" d="M2428 1852h0m47 73h0m178-317h0m8 54h0m17-151h0m76-36h0m344 293h0"/>
<path class="f" d="M2407 1908h0m208-298h0m100-46h0m176 64h0m267 135h0"/>
<path class="m" d="M2330 1836h0m81 31h0m9-45h0m49 80h0m68-275h0m31 297h0m350-257h0m232 221h0m29-9h0m20 9h0"/>
<path class="f" d="M2343 1784h0m43 2h0m502-144h0m9 11h0m98 19h0m131 54h0m64 138h0m36 52h0"/>
<path class="m" d="M2312 1755h0m79 75h0m22-31h0m44 77h0m60 34h0m24-273h0m340 319h0m366-43h0"/>
<path class="f" d="M2426 1825h0m174-238h0m33 54h0m169-32h0m258 66h0m184 249h0"/>
<path class="m" d="M2376 1717h0m21 177h0m55-162h0m121-137h0m63 25h0m197-4h0m77 17h0m116 122h0m13-45h0m3-21h0m6 166h0m4 78h0m12 29h0m26-256h0m102 133h0m77-168h0"/>
<path class="f" d="M2360 1778h0m79-131h0m51 281h0m5-289h0m213 17h0m31-42h0m29 369h0m182-272h0m48 236h0m10-277h0m95 80h0m39 150h0m39 50h0m61-26h0"/>
<path class="m" d="M2336 1861h0m12-80h0m170 156h0m65-307h0m90 15h0m99 325h0m17-308h0m84-69h0m151 44h0m64 332h0m69-175h0m55 65h0"/>
<path class="f" d="M2363 1870h0m40-168h0m170-44h0m72 314h0m42-361h0m5 345h0m214 64h0m95-34h0m22 20h0m50-37h0m52-187h0m53 24h0"/>
<path class="m" d="M2285 1812h0m79-132h0m2 115h0m16-182h0m316-23h0m101 42h0m143 353h0m6-382h0m100 392h0m121-53h0m60-36h0"/>
<path class="f" d="M2401 1846h0m175 66h0m83-333h0m59 78h0m66-19h0m16 342h0m388-19h0m41-189h0m16 73h0m28 15h0"/>
<path class="m" d="M2367 1827h0m5-37h0m21-93h0m75-8h0m8-22h0m15 0h0m5-99h0m627 428h0"/>
<path class="f" d="M2409 1890h0m5-41h0m191-201h0m56-21h0m133-12h0m61 38h0m163 69h0m33-28h0m69 101h0m7 70h0m32 94h0"/>
<path class="m" d="M2302 1708h0m74 50h0m2 31h0m106-110h0m124-23h0m18 19h0m30-3h0m4-166h0m192 112h0m155-87h0m30 144h0"/>
<path class="f" d="M2159 1820h0m135 22h0m17-105h0m77 111h0m29-102h0m29-145h0m42 26h0m112-5h0m53 293h0m59-304h0m148 33h0m239 64h0m13 262h0m3-215h0m10 205h0m29-80h0m56-10h0m38 74h0m21-19h0"/>
<path class="m" d="M2321 1827h0m126 27h0m100-179h0m277-39h0m42 59h0m94 315h0m38-56h0m161-91h0"/>
<path class="f" d="M2352 1755h0m28 117h0m1-144h0m36-134h0m123 301h0m19 22h0m128 26h0m72 12h0m88 25h0m43-22h0m229-62h0m82 47h0m8-111h0m7 93h0m9-25h0"/>
<path class="m" d="M2370 1683h0m29 53h0m11 16h0m16 107h0m34-153h0m108 10h0m77-116h0m110 370h0m5-337h0m8-66h0m216 455h0m78-70h0m30-176h0m33 123h0m25-145h0m7 221h0m14-171h0m8 153h0m62-198h0"/>
<path class="f" d="M2373 1684h0m45-46h0m147 19h0m35-120h0m164 86h0m64 357h0m62-348h0m51 18h0m88 342h0m20-44h0m138-101h0m55-58h0"/>
<path class="m" d="M2403 1948h0m539 40h0m108 3h0m35-210h0m20-62h0"/>
<path class="f" d="M2193 1866h0m127-128h0m98 101h0m47 12h0m161 88h0m33 5h0m45-283h0m17-50h0m8 14h0m123 346h0m116-355h0m26 359h0m11-320h0m4-36h0"/>
<path class="m" d="M2314 1767h0m115 146h0m11-212h0m5-54h0m25-8h0m23 267h0m223-287h0m8-7h0m168 47h0m94 64h0m163 146h0m52 78h0"/>
<path class="f" d="M2313 1848h0m41-173h0m43 205h0m8-79h0m62 91h0m14 14h0m286-264h0m105 51h0m23 268h0m58 17h0m168-117h0m34 106h0"/>
<path class="m" d="M2357 1768h0m85-20h0m3 88h0m37-169h0m280 286h0m98 62h0m44-23h0m188-277h0m47 147h0m47-128h0m132 179h0"/>
<path class="f" d="M2382 1729h0m25-28h0m36 37h0m79 158h0m292 88h0m141-290h0m17-28h0m16 0h0m169 257h0m9 45h0"/>
<path class="m" d="M2357 1798h0m59-79h0m12 177h0m21-174h0m16 213h0m2-238h0m39 207h0m281-322h0m255 379h0m2 10h0m51-14h0m42-181h0"/>
<path class="f" d="M2261 1765h0m114-87h0m65 26h0m96 219h0m554-200h0m5-146h0m37 250h0m129 97h0"/>
<path class="m" d="M2530 1619h0m57 322h0m39 20h0m55-404h0m28 80h0m81 19h0m23 309h0m11-345h0m201 102h0m13-36h0m6 61h0m172 152h0m103 74h0"/>
<path class="f" d="M2357 1504h0m41 324h0m157-132h0m40-63h0m9-78h0m30 388h0m142 21h0m148-360h0m254 364h0"/>
<path class="m" d="M2309 1759h0m60-66h0m29 76h0m5 90h0m49-201h0m2 191h0m20 53h0m327 59h0m34-322h0m44 344h0m257-67h0"/>
<path class="f" d="M2354 1706h0m70 28h0m41-78h0m393 29h0m11 311h0m61-350h0m153 148h0m38 37h0m54 207h0m55-203h0"/>
<path class="m" d="M2454 1643h0m69 268h0m69 36h0m7-27h0m126-326h0m194 62h0m41 50h0m37 265h0m41 16h0m57-169h0m52 31h0"/>
<path class="f" d="M2178 1782h0m167-95h0m33 90h0m33-144h0m11 117h0m7 118h0m51-232h0m41 276h0m24-8h0m14-398h0m62 422h0m65-281h0m21-24h0m104 26h0m27 12h0m34-21h0m12 33h0m13-56h0m34 47h0m37 343h0m38-280h0m20-8h0m46-9h0m4 72h0m127 1h0"/>
<path class="m" d="M2430 1827h0m10-118h0m31-34h0m63-14h0m94 289h0m19-18h0m94 20h0m155-13h0m152-335h0m30 354h0m33-327h0m37 328h0"/>
<path class="f" d="M2373 1642h0m49-50h0m2 264h0m6-107h0m8-111h0m19 108h0m48-77h0m15-33h0m8 14h0m31 228h0m110-228h0m132-6h0m164 314h0m11-274h0m130-109h0m37 160h0m8 39h0"/>
<path class="m" d="M2359 1612h0m84 75h0m56-78h0m7 314h0m85-15h0m30-312h0m236 30h0m295 222h0m33-68h0m116 103h0"/>
<path class="f" d="M2258 1726h0m62 56h0m17-15h0m33-38h0m15 35h0m8-115h0m63 53h0m3-70h0m92-9h0m20 290h0m163-259h0m81-22h0m18-31h0m32-4h0m124 75h0m40 310h0m55 56h0m27-209h0"/>
<path class="m" d="M2282 1819h0m3 1h0m20-99h0m45 85h0m0 9h0m79-23h0m18-42h0m201-160h0m78 25h0m111 28h0m23 337h0m49-324h0m44 27h0m146 38h0m2 217h0m60-35h0"/>
<path class="f" d="M2287 1868h0m106-126h0m54-8h0m17 35h0m7 93h0m191-221h0m30 26h0m52 254h0m9-273h0m44 12h0m80 319h0m73-334h0m33 357h0m9-283h0m85 199h0m15-123h0m1-16h0m56 174h0m6-41h0m22 4h0"/>
<path class="m" d="M2286 1703h0m73 39h0m68-27h0m174-58h0m219-29h0m15 218h0m34 177h0m25-348h0m71 22h0m4-11h0m152 193h0m33-51h0m8-154h0m50 212h0m6 61h0m35-150h0"/>
<path class="f" d="M2381 1707h0m32 203h0m3-65h0m47-216h0m62-78h0m9 132h0m68 224h0m49 30h0m28-315h0m122 321h0m58 43h0m2-322h0m40 0h0m61 3h0m225 219h0"/>
<path class="m" d="M2413 1681h0m48 91h0m230-141h0m46 3h0m3 314h0m27-374h0m99 59h0m168 346h0m28-201h0m3 0h0m50 57h0m179 9h0m0 92h0"/>
<path class="f" d="M2279 1676h0m15 113h0m70 20h0m25 77h0m43-186h0m14 141h0m170 55h0m17 34h0m1-338h0m49 368h0m21-342h0m15 347h0m79 15h0m35-335h0m12 2h0m5-10h0m6 360h0m231-319h0m13 253h0m21-16h0m75-11h0m40 47h0m26 7h0"/>
<path class="m" d="M2388 1870h0m32 21h0m15-56h0m151-213h0m64-86h0m18 91h0m45 379h0m7-56h0m13 21h0m82-317h0m132 302h0m37-308h0m25 24h0m181 50h0m203 137h0"/>
<path class="f" d="M2341 1775h0m32-78h0m5 36h0m195 186h0m33-280h0m7-55h0m114 59h0m139 11h0m160-22h0m28 121h0m48 170h0m44-142h0"/>
<path class="m" d="M2404 1747h0m12-140h0m52 140h0m105-105h0m4-37h0m11 50h0m131-13h0m40 6h0m44 14h0m96 333h0m42-329h0m32 234h0m100 49h0m12-221h0m25 208h0m65-59h0m23-50h0"/>
<path class="f" d="M2395 1881h0m81-157h0m73-58h0m66 240h0m5 29h0m93 30h0m66 42h0m60-419h0m27 456h0m79-504h0m75 420h0m29-270h0m17 95h0m5-17h0m12-9h0m14 162h0m2-126h0m15 151h0m3 25h0m13-237h0m6 194h0m52-61h0m30-84h0"/>
<path class="m" d="M2306 1711h0m8 176h0m32-41h0m87-103h0m55-17h0m15 163h0m32 25h0m0-240h0m59 270h0m57-313h0m185-63h0m8 94h0m5 306h0m147-220h0m116 65h0m49 16h0m98 47h0"/>
<path class="f" d="M2411 1742h0m150-152h0m45 353h0m25 5h0m8-395h0m22 380h0m34-427h0m31 195h0m33 269h0m16-2h0m106-301h0m13-88h0m18 408h0m8-292h0m15 252h0m14-258h0m65 261h0m27 20h0m14 10h0m65 1h0m4-204h0m32 11h0m101 43h0"/>
<path class="m" d="M2360 1730h0m122-48h0m9 231h0m20-274h0m31 314h0m181-455h0m3 127h0m230 351h0m26-233h0m80 322h0m53-128h0m17 35h0m26-68h0"/>
<path class="f" d="M2374 1960h0m33-215h0m67-67h0m37-23h0m7 232h0m20-197h0m19-42h0m54 276h0m152 60h0m320-249h0m25 46h0m57 163h0m63-140h0"/>
<path class="m" d="M2478 1614h0m207 31h0m242-37h0m41 71h0m9-25h0m51 55h0m55 247h0m52-17h0m37-116h0"/>
<path class="f" d="M2394 1798h0m14-72h0m6 30h0m26 109h0m11 40h0m81-266h0m128-8h0m15 23h0m26-4h0m4-49h0m5 227h0m19 118h0m47-296h0m5 10h0m53-68h0m7 365h0m51-268h0m6 269h0m4-327h0m45 43h0m57 70h0m38 15h0m68 150h0m39-174h0m1 124h0m10-99h0m77 182h0m105-107h0"/>
<path class="m" d="M2386 1798h0m56-68h0m120 175h0m87-242h0m63 5h0m49 310h0m33-336h0m60 312h0m117-323h0m77 112h0m31 90h0m38 7h0"/>
<path class="f" d="M2380 1831h0m27-159h0m128 25h0m86-57h0m12 280h0m184 50h0m21 9h0m151 18h0m6 3h0m6-62h0m90-5h0m8-152h0m13 92h0m13 23h0m17-9h0m80-71h0m9 138h0"/>
<path class="m" d="M2377 1757h0m43 99h0m125-193h0m102 342h0m10-126h0m2 52h0m97-330h0m2 48h0m27-2h0m78 270h0m192-171h0m11 185h0m226-34h0m41-112h0"/>
<path class="f" d="M2385 1833h0m10-135h0m1-4h0m9 103h0m28 10h0m9-87h0m25-61h0m2 113h0m32-106h0m68-89h0m24 341h0m73 45h0m103-371h0m16 365h0m36-290h0m10-14h0m72 355h0m12-319h0m8 250h0m29-196h0m33-123h0m19 134h0m66 206h0m14-103h0"/>
<path class="m" d="M2449 1669h0m28 215h0m131 52h0m22 46h0m8-347h0m7 301h0m8-363h0m71 354h0m50-297h0m23 377h0m132-32h0m100-9h0m45-218h0m38 28h0m10-12h0m5 63h0m65 28h0m64 80h0"/>
<path class="f" d="M2336 1771h0m96 121h0m10 100h0m105-280h0m5 7h0m17 259h0m23-284h0m82-61h0m1 340h0m2-292h0m15 287h0m107-313h0m61 43h0m20 283h0m104-346h0m14 354h0m5-307h0m99 71h0m23 256h0"/>
<path class="m" d="M2322 1752h0m54-16h0m11 54h0m66 40h0m14 108h0m11-247h0m12 23h0m15 154h0m16 56h0m32-20h0m31-230h0m53-107h0m65 63h0m14 285h0m15-300h0m16 302h0m24 47h0m46-12h0m35 41h0m87-22h0m99-76h0m51-169h0m17-44h0m43 269h0m13-35h0"/>
<path class="f" d="M2340 1702h0m24 158h0m12-89h0m11 38h0m25-188h0m17 120h0m39-130h0m7 300h0m21-252h0m43-19h0m26 58h0m105-41h0m34 315h0m21-34h0m8-7h0m4-11h0m42-274h0m13 321h0m49 13h0m15-33h0m19-301h0m69 59h0m29 251h0m43 47h0m42-277h0m52 168h0m6-22h0m13-37h0m3-15h0m6-28h0m20 19h0m96 56h0"/>
<path class="m" d="M2323 1700h0m72 102h0m140 105h0m55-199h0m231-68h0m35 302h0m80-4h0m11-295h0m17 64h0m20-53h0m21 32h0m81 225h0"/>
<path class="f" d="M2345 1732h0m32-54h0m72 174h0m71-202h0m2-76h0m218 28h0m17 396h0m36-358h0m27 337h0m56-10h0m77-15h0m14-264h0m1 262h0m16 31h0m19-325h0m1 370h0m22-76h0m17-158h0m8-68h0m20-1h0m31 107h0m4-33h0m10-67h0m15 21h0m0 199h0m16-26h0m22-40h0"/>
<path class="m" d="M2390 1709h0m10 131h0m19-113h0m28 28h0m19-41h0m3-23h0m25 207h0m2-1h0m5-209h0m24-15h0m40 217h0m15-249h0m15 63h0m29-63h0m30-74h0m45 99h0m44 281h0m5-10h0m38 12h0m33-293h0m26 313h0m152-265h0m59 44h0m36 142h0m10-71h0m26 174h0m40-179h0"/>
<path class="f" d="M2352 1738h0m135 153h0m5-277h0m12 19h0m63 233h0m11-183h0m153-47h0m42-29h0m23 62h0m160 99h0m11 193h0m5-265h0m22 274h0m22-297h0m4 75h0m24 130h0m42-64h0m9 176h0m22 38h0m32-102h0m10-72h0m6-35h0"/>
<path class="m" d="M2335 1691h0m52 47h0m3 96h0m20-5h0m27 46h0m9-162h0m21 210h0m20-407h0m35 14h0m34 348h0m3-256h0m60 34h0m15 13h0m156 24h0m2-13h0m119 7h0m5 303h0m59-318h0m56 285h0m40-194h0m6 138h0m37 7h0m9 61h0m3-147h0m22-50h0m8 60h0"/>
<path class="f" d="M2239 1672h0m133 112h0m15-14h0m15 52h0m24-53h0m56-11h0m5 113h0m36-147h0m68 137h0m9-243h0m17 65h0m40-2h0m122 253h0m2-316h0m65 51h0m7 14h0m62 298h0m17-26h0m86-245h0m30 11h0m59 199h0m0-164h0m17 130h0m2 32h0"/>
<path class="m" d="M2413 1691h0m70 52h0m38-67h0m63-24h0m191-23h0m126 67h0m62 74h0m18 186h0m28-37h0m24 18h0m3-187h0m19 128h0m63-16h0m34-64h0m10-46h0m22 64h0"/>
<path class="f" d="M2354 1715h0m46 100h0m25 3h0m35-80h0m1 105h0m2-171h0m53 212h0m0-219h0m13 37h0m35 217h0m19-252h0m11 11h0m0 198h0m99-273h0m53 54h0m116 79h0m50 226h0m37-24h0m39 19h0m22-3h0m28-23h0m7 31h0m0-257h0m36 162h0m23-58h0m16 63h0m11-39h0m44 77h0m11-129h0m76 137h0"/>
<path class="m" d="M2284 1741h0m88 106h0m34-216h0m13 141h0m7-70h0m35 29h0m3 136h0m14-279h0m17 155h0m19 195h0m29-220h0m1-25h0m27 201h0m4 10h0m41-228h0m77-67h0m53 70h0m5-21h0m23 34h0m46-50h0m49 56h0m14 275h0m1 23h0m43-41h0m21 34h0m30 19h0m11-74h0m103-99h0m26 24h0m7-59h0m11 93h0m51-54h0"/>
<path class="f" d="M2360 1833h0m10-163h0m32 23h0m30-90h0m6 227h0m31-15h0m26 152h0m27-337h0m1 81h0m50-89h0m16 19h0m14 41h0m2-53h0m71 299h0m12 10h0m60 13h0m27-290h0m3-30h0m7 1h0m55 334h0m6-325h0m21 19h0m18 313h0m20-329h0m27 175h0m19 113h0m34-22h0m23 88h0m1-28h0m0-38h0m16-170h0m0-3h0m0 203h0m71-221h0m0-28h0m58 240h0m35-125h0m143 113h0"/>
<path class="m" d="M2232 1652h0m4 112h0m55-22h0m141 27h0m1 139h0m22-189h0m5 177h0m21 26h0m7-168h0m8-23h0m1-54h0m36-11h0m46 237h0m12-239h0m38 249h0m55-320h0m12 53h0m43 2h0m101-41h0m28 98h0m16-18h0m30 62h0m10-42h0m28 23h0m14 201h0m8-273h0m26 121h0m13-28h0m26-35h0m19 124h0m30 61h0m25-51h0m81 27h0"/>
<path class="f" d="M2430 1658h0m33 4h0m16 216h0m35-277h0m33 129h0m4 70h0m1 99h0m46-252h0m14 225h0m2-261h0m51 25h0m25-17h0m62 45h0m6 261h0m119-323h0m35 143h0m1-88h0m16 304h0m2-25h0m79-200h0m16 228h0m3 24h0m45-74h0m38-25h0m22-39h0m68-50h0"/>
<path class="m" d="M2283 1782h0m60-66h0m36 95h0m5-62h0m12 108h0m1-145h0m79-35h0m24 202h0m1-39h0m11-168h0m43 273h0m40-366h0m2 319h0m41-325h0m79 103h0m34-43h0m18 37h0m94 287h0m139-226h0m18-13h0m9 186h0m5-263h0m8 246h0m15 86h0m55-8h0m70-23h0m7-87h0m4 25h0"/>
<path class="f" d="M2267 1786h0m50-8h0m34 46h0m11 39h0m41-120h0m52-40h0m0 155h0m5 28h0m5-66h0m77-214h0m13 103h0m24-14h0m38-185h0m57 188h0m29-79h0m9 323h0m15-310h0m24 299h0m10-259h0m7 266h0m23-1h0m8 22h0m3-288h0m105 305h0m7-45h0m70-5h0m0 41h0m15 13h0m42-260h0m4-45h0m6 254h0m21-192h0m3 125h0m57-70h0m12-5h0m21 92h0m73 35h0"/>
<path class="m" d="M2127 1754h0m317-98h0m44 85h0m8 119h0m63-151h0m2-29h0m87-43h0m18 319h0m21-219h0m24 222h0m35-261h0m11-41h0m29 329h0m3-307h0m49 247h0m16-259h0m33 331h0m7-63h0m8-250h0m92 300h0m25-231h0m56 30h0m14 94h0m40 49h0m15-86h0"/>
<path class="f" d="M2355 1682h0m68 35h0m8 4h0m9 97h0m15-142h0m27 188h0m18-145h0m72 129h0m29-240h0m15 331h0m4-268h0m48 257h0m33-295h0m26 338h0m57-343h0m22 328h0m18 20h0m77 0h0m17-57h0m1-11h0m27-228h0m12 229h0m11 56h0m21-233h0m17-15h0m14 248h0m22-189h0m61 125h0m17-81h0m46-20h0m20-52h0m4-5h0m177 263h0"/>
<path class="m" d="M2374 1789h0m98 99h0m5-102h0m15-6h0m18-50h0m8-12h0m86 217h0m7-18h0m117-332h0m24 89h0m1 6h0m89-12h0m4 280h0m4-294h0m7 280h0m21-377h0m15 376h0m15-4h0m55-205h0m1-184h0m14 210h0m13-126h0m45 287h0m3 9h0m49-81h0m9-16h0m22-13h0m14-1h0m195-10h0"/>
<path class="f" d="M2362 1628h0m29 218h0m86-41h0m27 48h0m12-217h0m2 237h0m16 70h0m26-73h0m33-284h0m20 101h0m25 2h0m28 7h0m13 229h0m35 79h0m35-379h0m85 297h0m39-273h0m1 306h0m1-36h0m44-242h0m20 38h0m1 218h0m17 32h0m4-165h0m18 108h0m7-53h0m3-112h0m8 169h0m5-24h0m2 38h0m9-221h0m23 276h0m20-274h0m36 119h0m30 112h0m15-43h0"/>
<path class="m" d="M2405 1820h0m51-2h0m1 48h0m34 17h0m5-149h0m5-35h0m53-64h0m0 93h0m19-56h0m6 41h0m18 174h0m36-280h0m38 61h0m19 24h0m7-36h0m2-16h0m16 23h0m4 272h0m17-275h0m4 271h0m33-254h0m34 264h0m152-224h0m5 59h0m49 137h0m19 5h0m15-183h0m7 126h0m16 16h0m12-92h0m14 164h0m6-1h0m18-56h0m111-58h0"/>
<path class="f" d="M2211 1808h0m137-112h0m1 94h0m24 22h0m6-258h0m0 200h0m51-23h0m3 29h0m9 13h0m34 71h0m10-240h0m7 200h0m17-59h0m11 92h0m12-129h0m7 42h0m4-81h0m9 215h0m7-221h0m35 21h0m5 187h0m20 89h0m7-336h0m4 52h0m15-18h0m1 244h0m2-16h0m24 10h0m10 35h0m3-261h0m79 247h0m76-240h0m52 33h0m27-70h0m6 328h0m13-191h0m12-59h0m0 144h0m9-250h0m19 335h0m11-196h0m14-27h0m49-37h0m8 50h0m4 110h0m60 28h0m14-10h0m41-63h0m10 6h0m9 122h0m11 25h0m28-139h0"/>
<path class="m" d="M2291 1806h0m92-129h0m96 116h0m16 62h0m10-171h0m2 50h0m38 117h0m16-110h0m6 2h0m4 144h0m30-198h0m6 34h0m23-87h0m25 18h0m36 21h0m42 9h0m35 227h0m71 27h0m28 42h0m28-249h0m7-57h0m1 7h0m12 33h0m7-4h0m8 209h0m11-230h0m33 48h0m16-57h0m17 265h0m30-164h0m1-45h0m4 27h0m15-3h0m4 72h0m2 114h0m17 32h0m10-302h0m70 216h0m21-94h0"/>
<path class="f" d="M2355 1557h0m35 117h0m20 62h0m2 32h0m8-11h0m9 19h0m11-115h0m4 99h0m11-53h0m28 141h0m0-69h0m13-14h0m11 20h0m17-36h0m33 104h0m2 6h0m12-154h0m90 243h0m48-5h0m19-340h0m65 396h0m1-385h0m16 324h0m41-12h0m1 83h0m47-273h0m33 192h0m25-213h0m21-56h0m5 55h0m6 230h0m17-186h0m3 130h0m22 10h0m4-37h0m17-61h0m1-152h0m24 104h0m19 47h0m5 116h0m33 47h0"/>
<path class="m" d="M2192 1627h0m161 232h0m49-136h0m68 12h0m9 83h0m31 8h0m48 69h0m25-230h0m8 34h0m6-3h0m2-35h0m8 235h0m18-179h0m8 175h0m46-1h0m6-232h0m62 28h0m16-72h0m18 68h0m20 289h0m5-50h0m0 27h0m0-310h0m11 67h0m38 2h0m54 293h0m11-283h0m4 2h0m2 246h0m1 23h0m42-243h0m2-3h0m13 191h0m34 38h0m10-200h0m21 76h0m1 48h0m19-32h0m9 89h0m8-58h0m17-7h0m4-5h0m13 47h0m1-116h0"/>
<path class="f" d="M2367 1778h0m11 58h0m23-59h0m17 83h0m3-2h0m11-78h0m21-9h0m7 56h0m9-31h0m1 133h0m10-311h0m49 105h0m24-38h0m19-22h0m3 58h0m30-201h0m15 149h0m6 235h0m15 9h0m2-21h0m4-250h0m25 281h0m24-284h0m6 304h0m21-277h0m6 275h0m38-252h0m49 259h0m7-15h0m6-279h0m2 11h0m18 36h0m72 251h0m34-209h0m12 205h0m7-231h0m48 228h0m2-8h0m10-209h0m2 34h0m9 172h0m9-154h0m44 50h0m13-27h0m16-45h0m4 88h0m31-38h0m14 55h0m0-28h0m65 65h0"/>
<path class="m" d="M2321 1775h0m140 46h0m2-19h0m2 81h0m59 3h0m11-11h0m13-117h0m38-144h0m62 42h0m0 14h0m54 18h0m35-35h0m2 54h0m13 243h0m12-3h0m17-240h0m15-102h0m151 348h0m12-217h0m0-81h0m4 268h0m14-3h0m9-120h0m12 93h0m2 4h0m1-102h0m0 135h0m37-131h0m14 125h0m9-52h0m18 21h0m14-102h0m26-5h0m6 35h0m3 53h0m22 43h0m47-111h0"/>
<path class="f" d="M2336 1772h0m21 35h0m42-113h0m32 42h0m32 141h0m4-99h0m6-30h0m8-18h0m9 119h0m20-12h0m20-183h0m8 265h0m1-191h0m9 160h0m26-143h0m6 148h0m61-123h0m0 163h0m10-291h0m11 17h0m1 210h0m4-181h0m14-47h0m47 82h0m30-94h0m14 32h0m6 269h0m10-300h0m2 20h0m19 48h0m6-80h0m22 327h0m19-243h0m2-2h0m15 9h0m35 240h0m39-23h0m4-4h0m11-186h0m5-30h0m51 96h0m2 127h0m6-63h0m3-70h0m10 88h0m2-9h0m10 83h0m17-45h0m3 7h0m2-14h0m2-111h0m18-46h0m14 192h0m75-23h0m9-9h0m33-43h0"/>
<path class="m" d="M2366 1724h0m32 126h0m35-27h0m12-3h0m3-63h0m10 147h0m11-189h0m12 24h0m7 186h0m11-93h0m23-2h0m21-133h0m1-58h0m26 156h0m1-99h0m31 186h0m9 137h0m2-394h0m7 323h0m1-282h0m21 41h0m83 4h0m4-17h0m20-33h0m14 3h0m36 38h0m8-44h0m5 266h0m2-256h0m48-209h0m7 224h0m22 113h0m9 72h0m0 86h0m59-207h0m20 87h0m33-134h0m25 155h0m2-109h0m21 145h0m1-101h0m6 25h0m21 12h0m22 54h0m16 41h0m7 11h0m2-321h0m16 206h0m58 138h0"/>
<path class="f" d="M2427 1880h0m44-155h0m3 130h0m0-32h0m17-111h0m21-10h0m15-22h0m7 60h0m0 16h0m15 11h0m17-13h0m2 3h0m0 90h0m11-144h0m49-44h0m8 34h0m0 225h0m10-201h0m17 179h0m6-9h0m4-197h0m3 51h0m7 175h0m9-198h0m14 217h0m49 0h0m41 15h0m18 9h0m5-21h0m26-325h0m0 310h0m29-238h0m27 54h0m2-33h0m12-29h0m8 102h0m1 140h0m2-240h0m35 225h0m2-255h0m3 254h0m4-143h0m30 200h0m2-151h0m3 90h0m19-19h0m2 22h0m15 2h0m8-121h0m4 85h0m6-153h0m13 176h0m2 43h0m29 41h0m32-27h0m18-243h0m35 217h0m12-101h0m7-38h0m7 19h0m33 55h0m7-106h0m84 179h0"/>
<path class="m" d="M2212 1772h0m98-39h0m6 53h0m74 53h0m44-200h0m18 175h0m38 52h0m3-158h0m7 103h0m11-93h0m11 79h0m12-34h0m6 151h0m1-89h0m4-121h0m17 34h0m11 54h0m43 53h0m24-144h0m15 223h0m39-57h0m32-198h0m5 80h0m16-162h0m23 322h0m3-267h0m3 211h0m9-228h0m63 190h0m3 106h0m12-200h0m45-74h0m23 188h0m11 131h0m5-19h0m5-191h0m5 109h0m11-134h0m11 24h0m26 11h0m6 112h0m6-62h0m35-49h0m7 135h0m2-5h0m10-167h0m26 158h0m46-86h0m0-82h0m3 142h0"/>
<path class="f" d="M2317 1839h0m2-31h0m93-15h0m8-91h0m17 82h0m31 76h0m30-78h0m6-123h0m12 24h0m1 58h0m5-47h0m1 206h0m26-243h0m14-53h0m8 18h0m5 253h0m4-115h0m2 94h0m18-97h0m9 107h0m0 25h0m26-82h0m5 132h0m10-210h0m4-9h0m3-9h0m6 161h0m50 61h0m68 38h0m30-279h0m1-15h0m20 256h0m21-237h0m9 11h0m8 243h0m7-22h0m14-180h0m2 14h0m2-92h0m16 63h0m26-26h0m30 210h0m8-274h0m22 149h0m4 67h0m2-10h0m22-2h0m37 2h0m34 59h0m42-100h0m7 97h0m22-146h0m48 226h0m51-157h0m13-33h0"/>
<path class="m" d="M2350 1726h0m65 60h0m10 52h0m22-164h0m20 84h0m4-2h0m2-51h0m3 187h0m8-71h0m1-114h0m28 151h0m13-127h0m10 174h0m0-74h0m5-163h0m33 195h0m6-114h0m10 79h0m17-204h0m3 63h0m5 30h0m5-8h0m3-61h0m0 65h0m3 187h0m6-147h0m3 77h0m10-182h0m2-25h0m11 300h0m6-212h0m3-94h0m7 339h0m9-45h0m15-235h0m5 211h0m4 78h0m27-285h0m33 218h0m30 30h0m5-194h0m11-43h0m15-17h0m33 258h0m5-170h0m11-63h0m47 52h0m1 212h0m3-194h0m5-38h0m3-58h0m4-34h0m2 318h0m1 106h0m7-165h0m11 3h0m2-55h0m1 32h0m7 45h0m30-131h0m9-81h0m3 34h0m40 145h0m6 22h0m5-161h0m1 52h0m2-41h0m13 119h0m5 72h0m7-108h0m10 37h0m21-90h0m10 88h0m3 21h0m20-58h0m48-19h0"/>
<path class="f" d="M2218 1790h0m224 8h0m26-87h0m13 4h0m7 99h0m6-115h0m9 106h0m8-117h0m12 11h0m0 17h0m2 71h0m3 20h0m0 43h0m4-124h0m6 16h0m4-67h0m4 197h0m6-98h0m10-60h0m8-45h0m2 170h0m38 22h0m2-106h0m14-59h0m1 150h0m22 69h0m18-31h0m32-258h0m10 67h0m6 210h0m13-143h0m0 144h0m11-190h0m1 5h0m24-33h0m6 267h0m3-257h0m8 211h0m6-234h0m15 4h0m9 9h0m15 234h0m3-201h0m2-15h0m1 253h0m23-173h0m6-6h0m9-164h0m27 274h0m22-22h0m8-263h0m17 216h0m19 148h0m1 14h0m11-272h0m14 178h0m1 10h0m4-135h0m1 27h0m8-29h0m19 98h0m5 39h0m19-70h0m2 12h0m11 86h0m0-115h0m5 58h0m2 95h0m12-126h0m0 11h0m11 6h0m6-47h0m4-74h0m7 114h0m1-10h0m10 8h0m19-87h0m17 144h0m6-15h0"/>
<path class="m" d="M2375 1742h0m34 0h0m61 112h0m12-63h0m33-29h0m6-81h0m4 162h0m0-75h0m7 91h0m0-56h0m8-88h0m7 76h0m1 69h0m3-55h0m19-35h0m12-24h0m0 55h0m1 68h0m9-135h0m9-9h0m23 73h0m11-149h0m16 128h0m3-75h0m1-91h0m5 110h0m5 133h0m21 17h0m2-243h0m5 252h0m0-113h0m4-54h0m10 207h0m17-260h0m14 40h0m39 248h0m1-4h0m29-117h0m16-45h0m4 93h0m24-191h0m1 67h0m4-79h0m69 53h0m19 27h0m19 55h0m4 105h0m7-114h0m16 163h0m7-147h0m0-79h0m3 187h0m13-55h0m3-97h0m9 64h0m4-90h0m2 61h0m7-21h0m10 124h0m10-170h0m19 61h0m69 139h0m7-151h0m4 150h0m12-79h0m29 61h0m10-55h0m4 18h0"/>
<path class="f" d="M2289 1859h0m106 8h0m96-181h0m0 105h0m13 30h0m18-65h0m5 60h0m6 82h0m1-188h0m1 129h0m5 26h0m1-120h0m4 187h0m11-302h0m6 268h0m0-51h0m4-10h0m14-71h0m0-103h0m5 240h0m1-38h0m6 76h0m4-85h0m2-114h0m2 105h0m3 58h0m11 3h0m3-158h0m9-62h0m6 87h0m3 151h0m1 32h0m3-280h0m3-6h0m4 244h0m1-27h0m5-201h0m8 210h0m5-237h0m14 203h0m12 57h0m20-213h0m17 125h0m43-128h0m19 30h0m1 195h0m7-12h0m7-211h0m16-23h0m25 118h0m3 171h0m2-59h0m12-161h0m15 12h0m1-15h0m5-9h0m6-84h0m10 218h0m1-156h0m17 13h0m6-35h0m4 66h0m1 146h0m4-104h0m2-109h0m5 114h0m0 83h0m4-168h0m7 127h0m17 85h0m9-12h0m17-62h0m1-57h0m27 109h0m5-130h0m4 74h0m7 52h0m4-146h0m18 7h0m3 86h0m7 24h0m13-39h0m16 26h0m19 98h0m24-61h0m42-77h0"/>
<path class="m" d="M2382 1847h0m12-80h0m1 14h0m27 25h0m6 8h0m4 19h0m18-137h0m15 30h0m0-157h0m8 305h0m13-13h0m26 43h0m5-60h0m1-36h0m4-107h0m13 80h0m4 160h0m14-205h0m2 101h0m8-69h0m10-32h0m32-41h0m3 212h0m2-190h0m4 113h0m8 61h0m0-136h0m7 1h0m1 6h0m6 138h0m5 83h0m19-99h0m9 56h0m13-263h0m4 91h0m5 36h0m5-93h0m3-13h0m1 174h0m3-199h0m1 49h0m6-4h0m9 105h0m0 87h0m3-171h0m7 58h0m3-69h0m4 55h0m1-24h0m1-94h0m5 56h0m1-103h0m3 248h0m7 54h0m14-243h0m8 38h0m3 30h0m6 182h0m8-64h0m18-91h0m14 121h0m11-212h0m5 113h0m3-51h0m22 4h0m4 197h0m13-234h0m11 131h0m16-97h0m1-40h0m9 60h0m15 114h0m5-127h0m14-37h0m13 109h0m18-1h0m6 27h0m9 106h0m4 3h0m9-274h0m35 162h0m11-94h0m1 151h0m25 42h0m4-4h0m16-79h0m25-59h0m10-19h0m36 35h0m57 35h0"/>
<path class="f" d="M2285 1797h0m26-35h0m38 34h0m47-56h0m13 83h0m4 23h0m0-35h0m12-118h0m27 163h0m3-74h0m5-25h0m12 49h0m4-63h0m2 91h0m16-59h0m0-78h0m2 95h0m27 68h0m5 37h0m15-55h0m4 13h0m8-168h0m7 147h0m8-151h0m1 145h0m14-15h0m6 89h0m2-86h0m13-48h0m0 87h0m6-33h0m25 12h0m8-153h0m5 188h0m4-97h0m9 42h0m10 105h0m0-199h0m2 145h0m1-6h0m5 43h0m13 44h0m4-210h0m5 179h0m6-128h0m11 96h0m1-60h0m19-98h0m4 76h0m2-51h0m4 194h0m0-243h0m3 242h0m3-171h0m4 90h0m4-13h0m1-108h0m5 192h0m10-264h0m6 183h0m12-178h0m10 110h0m9-109h0m7 43h0m5 170h0m12 31h0m9-92h0m3 51h0m2 9h0m2-166h0m10 3h0m4 76h0m1-69h0m4 61h0m1-74h0m2-41h0m12 40h0m1 200h0m2-102h0m2-128h0m3 101h0m9-1h0m18 9h0m3-107h0m0 152h0m7 90h0m4-171h0m0 116h0m16-59h0m1 99h0m0-247h0m1 305h0m9-84h0m12-73h0m34 90h0m12-19h0m2-149h0m1-5h0m2 56h0m8 81h0m1 54h0m0 12h0m9 84h0m4-107h0m1-84h0m17 59h0m2-51h0m1-16h0m6-74h0m3-140h0m87 288h0m54-78h0"/>
<path class="m" d="M2382 1558h0m54 157h0m3 147h0m18-21h0m1 43h0m1-216h0m4 155h0m4-33h0m17-22h0m25 0h0m9 77h0m1-151h0m1 40h0m3 47h0m5-36h0m3 77h0m7-172h0m12-5h0m6 204h0m3-123h0m5 55h0m6 96h0m2-229h0m5 164h0m2 151h0m1-119h0m3-102h0m5 138h0m12-17h0m9-121h0m1-39h0m0-38h0m1 218h0m9-158h0m1-78h0m6 239h0m6-4h0m13-129h0m2-80h0m8 131h0m3-192h0m3 63h0m0 157h0m1-104h0m3 188h0m1-113h0m3 70h0m2-114h0m5-28h0m6 85h0m1-61h0m13-47h0m0 201h0m16-219h0m2 15h0m1 188h0m7-3h0m2-207h0m2-10h0m1 72h0m10 33h0m24-67h0m1 10h0m7 16h0m14-52h0m5 250h0m3-191h0m3-46h0m7 86h0m13 150h0m10-163h0m0 139h0m10-232h0m2 275h0m1-46h0m1-135h0m16 80h0m6-240h0m16 328h0m12-217h0m11 116h0m4 125h0m10-26h0m5-148h0m26-23h0m8 420h0m3-252h0m3-144h0m3-52h0m6 136h0m6-56h0m17-4h0m5 90h0m5-43h0m7 35h0m3-109h0m7-27h0m9-71h0m10 158h0m8-146h0m8 145h0m16 98h0m1-17h0m8-57h0m4-53h0m9 43h0m9-198h0m51 257h0m24-20h0m99-66h0"/>
<path class="f" d="M2393 1755h0m3-102h0m2 103h0m1 98h0m25-67h0m13 2h0m15 109h0m0-113h0m10 7h0m12-32h0m1 65h0m3-46h0m6-112h0m18 87h0m0-13h0m5-12h0m9 41h0m6-10h0m2 107h0m3 7h0m6 12h0m7-95h0m1-6h0m15 1h0m0 30h0m11-41h0m2-50h0m5 49h0m8 59h0m6-149h0m2 232h0m10-90h0m4-90h0m4 64h0m9-63h0m0-9h0m3 181h0m5-168h0m7-39h0m4 6h0m0 9h0m7 185h0m2-247h0m1 153h0m0-86h0m4 39h0m12 18h0m7 125h0m6-56h0m2-31h0m1-9h0m5-121h0m7 206h0m3-198h0m1-108h0m8 341h0m10-46h0m2-158h0m1-23h0m6-67h0m3 154h0m5 110h0m2-118h0m3 82h0m5-9h0m1-60h0m1-55h0m3-54h0m1 107h0m13 90h0m1-147h0m4 18h0m24 166h0m3-179h0m10-49h0m7 147h0m1-14h0m1-90h0m8 47h0m9-90h0m5 71h0m6 158h0m3-96h0m5 17h0m3-63h0m1 59h0m17-18h0m0-74h0m1 104h0m0-46h0m2-6h0m2 40h0m5-113h0m1 31h0m4 53h0m3-116h0m4 112h0m6-101h0m3 202h0m3-24h0m2 49h0m3-203h0m3 14h0m0-25h0m1 240h0m3-283h0m14 150h0m2 111h0m3-192h0m1 29h0m4-35h0m1 120h0m8-154h0m2 209h0m2-212h0m11 133h0m2-19h0m1 45h0m3-92h0m0 88h0m2-27h0m2-76h0m1 92h0m2 45h0m12-114h0m3 36h0m4 34h0m2-72h0m6 15h0m6 94h0m17-65h0m2 57h0m6-105h0m4 59h0m1-31h0m3 151h0m1-174h0m0 40h0m4 21h0m0 34h0m4 83h0m7-152h0m0-32h0m7 88h0m2-149h0m11 161h0m27 54h0m8-128h0m0-111h0m16 173h0m29-144h0m4 128h0m5 74h0m9-65h0m24 35h0"/>
<path class="m" d="M2238 1768h0m162 21h0m11-8h0m26 23h0m17-6h0m43 11h0m9 79h0m8-39h0m21-126h0m11 111h0m0-49h0m1 73h0m8-83h0m16-34h0m5 49h0m2-64h0m13-83h0m3 115h0m7-66h0m1-25h0m2 78h0m3 98h0m9 32h0m11-101h0m7-112h0m10 109h0m3-28h0m2-54h0m13 163h0m12-191h0m5 86h0m0-113h0m3 60h0m0 27h0m3 169h0m7-72h0m2-71h0m6 22h0m1 17h0m2-85h0m6 226h0m5-279h0m3 110h0m4-71h0m1 235h0m3-195h0m3 49h0m7-67h0m7 161h0m2-21h0m13-86h0m2 145h0m4-251h0m18 247h0m1-15h0m2-195h0m3 182h0m3-155h0m1 138h0m5 59h0m9-102h0m17-118h0m5 247h0m2-187h0m10 101h0m3 56h0m5-146h0m0 166h0m9-138h0m4-57h0m2 204h0m3-136h0m16-16h0m2 115h0m1 44h0m25-123h0m7 74h0m1-23h0m2-96h0m7-2h0m0-119h0m7 200h0m1 29h0m1-3h0m5-70h0m6 153h0m2-105h0m6 77h0m4-254h0m5 96h0m3 50h0m0-29h0m4 64h0m4-26h0m2 98h0m4-58h0m2-199h0m3 71h0m2 49h0m0 102h0m11-193h0m11 66h0m5 69h0m3-117h0m6 92h0m9 30h0m9-126h0m20 213h0m1-196h0m10-77h0m0 47h0m3 137h0m8-11h0m8-76h0m49 111h0m2-37h0m41-55h0m82 127h0m80-91h0"/>
<path class="f" d="M2335 1833h0m79 55h0m31-112h0m15 31h0m22-98h0m13 134h0m6 29h0m1-93h0m8-7h0m2 2h0m5-77h0m3-41h0m6 125h0m5-35h0m1 70h0m0-69h0m25 60h0m3-39h0m1-12h0m0-45h0m10 77h0m3 102h0m7-158h0m3 65h0m2-7h0m1-39h0m2 26h0m7-47h0m1 66h0m2 64h0m8-56h0m8 4h0m1-113h0m1 143h0m9-222h0m12 265h0m1-32h0m9-19h0m9-29h0m0-15h0m1 35h0m3 53h0m2-124h0m3 44h0m2 33h0m6-6h0m1-68h0m3 128h0m3-180h0m1 192h0m4-120h0m1-51h0m6 117h0m8-175h0m2 239h0m1-26h0m0-194h0m3-112h0m2 108h0m6 121h0m3-9h0m7 7h0m3-56h0m1 214h0m5-131h0m2-56h0m3 47h0m3-129h0m1-43h0m1 81h0m0 62h0m6-22h0m3 30h0m2-33h0m8-62h0m9 222h0m4-66h0m5-12h0m2-147h0m13 135h0m1-90h0m2 192h0m0-217h0m1 57h0m0 71h0m10-8h0m1 65h0m7-81h0m6 6h0m10 43h0m2-39h0m3-21h0m9 68h0m1-80h0m5-200h0m9 128h0m1 83h0m0 34h0m1-77h0m2 20h0m1 89h0m0 51h0m2-41h0m5-151h0m4 86h0m1 101h0m3-78h0m0 46h0m3-98h0m1 91h0m1-57h0m1-188h0m1 255h0m3-121h0m0 175h0m9-128h0m1 33h0m1-188h0m3 225h0m1 22h0m1 11h0m4-144h0m3 21h0m0 170h0m0-132h0m3 104h0m3-51h0m9-63h0m10 37h0m14-27h0m19-62h0m1-197h0m1 192h0m0-47h0m3 9h0m0-58h0m11 155h0m2 92h0m14-178h0m6 59h0m1 20h0m2 67h0m1 4h0m1-65h0m14-19h0m1 76h0m17-23h0m3-46h0m3 12h0m4 40h0m6-79h0m2 36h0m0 4h0m1-129h0m6 293h0m5-63h0m19-74h0m15 4h0m10 31h0m4-147h0m62 7h0m243 71h0"/>
<path class="m" d="M2410 1871h0m1-59h0m23-202h0m14 153h0m18 65h0m16 11h0m7-81h0m24-52h0m8-46h0m6 136h0m13 10h0m1-39h0m7-80h0m0 152h0m4 34h0m4-81h0m15 68h0m5-76h0m0-168h0m4 102h0m7 175h0m2-99h0m2 95h0m1-86h0m1-31h0m4-134h0m3 168h0m6-95h0m12 102h0m1-49h0m0 90h0m1-60h0m4 39h0m3-130h0m0 168h0m3-77h0m7-2h0m3-48h0m3 37h0m4 4h0m3-33h0m0-130h0m4 211h0m2 53h0m0-193h0m0 214h0m2-49h0m6-93h0m1 145h0m1-126h0m9-62h0m1 66h0m0 153h0m4-206h0m2 122h0m4-32h0m0-98h0m16 1h0m2 170h0m5 12h0m6-130h0m2-88h0m0 116h0m2-91h0m3 153h0m8-100h0m0-30h0m2 20h0m2-28h0m1 80h0m4-61h0m1-16h0m1-69h0m0 166h0m0 5h0m3 7h0m1-4h0m0-69h0m2 7h0m3-49h0m2 11h0m2-46h0m1 52h0m1 52h0m0-86h0m2 182h0m0-99h0m3 80h0m6-2h0m4-143h0m6 129h0m3-62h0m3 74h0m9-76h0m3-10h0m2 75h0m8-117h0m9 170h0m0-161h0m1 145h0m2-4h0m4-138h0m0-52h0m0 41h0m4-33h0m14 32h0m2-51h0m1 152h0m2 71h0m1-186h0m1 141h0m9 41h0m2-148h0m3 155h0m1-89h0m13-9h0m4 67h0m0 9h0m3 16h0m7-19h0m2-82h0m8 139h0m4-179h0m3-17h0m1 30h0m1 158h0m4-218h0m7 36h0m2 38h0m1 27h0m3 54h0m1 54h0m1-240h0m6 19h0m3-12h0m4 132h0m5 20h0m1-202h0m1 137h0m4-10h0m2 114h0m4-60h0m2 63h0m11-58h0m7-48h0m7-80h0m0 81h0m1 15h0m34-127h0m2 116h0m15 42h0m5 36h0m4-132h0m35-36h0m6 84h0m5 18h0m13 1h0m9 30h0m11 76h0m5 44h0m52-167h0m0 64h0m23 114h0m108 18h0"/>
<path class="f" d="M2178 1721h0m171-41h0m1-30h0m26 226h0m17-117h0m22 17h0m31 117h0m4-132h0m2-80h0m16 154h0m5-61h0m8-78h0m3 142h0m5 20h0m3-123h0m1 101h0m4-14h0m2-1h0m13-14h0m0 9h0m2-10h0m0-22h0m5 38h0m2 2h0m7-219h0m5 5h0m0 166h0m5 21h0m8 127h0m4-40h0m0 29h0m10-149h0m3 59h0m1-32h0m3-98h0m3 5h0m2 184h0m2-65h0m1-173h0m3 244h0m7-16h0m2-151h0m5 63h0m3 24h0m0 24h0m4-128h0m1 38h0m1 100h0m3-64h0m1 58h0m0-121h0m3 66h0m1 57h0m4-103h0m1 157h0m0-275h0m1 36h0m1 137h0m6 34h0m3-16h0m3 51h0m5-54h0m4-81h0m1 138h0m5-102h0m3 39h0m9 91h0m4-48h0m0-50h0m4-61h0m2 12h0m1 34h0m4 105h0m5-112h0m7 5h0m3 22h0m0 78h0m2-166h0m1 47h0m3-58h0m1 9h0m1 149h0m1 45h0m3-51h0m0-20h0m1-53h0m1 41h0m1-55h0m3 128h0m4-149h0m0 99h0m4-108h0m2 25h0m8 154h0m1-231h0m3 85h0m7 159h0m2-250h0m4 134h0m3 97h0m6 6h0m2-105h0m1-38h0m1 90h0m1-138h0m6 27h0m4 113h0m4-1h0m1-15h0m4 37h0m0-168h0m1 182h0m2-150h0m1 80h0m1 93h0m4-95h0m1 52h0m2-137h0m3 95h0m1-77h0m3 33h0m4-11h0m1 25h0m0 112h0m4-189h0m4-17h0m1 45h0m7-17h0m4 39h0m3-12h0m0 22h0m1 70h0m0-24h0m0 38h0m0 14h0m4-154h0m1 176h0m5-3h0m3-70h0m1 105h0m2 29h0m0-137h0m1-55h0m1-156h0m2 117h0m4 119h0m1-91h0m1-46h0m3 103h0m2 73h0m1-50h0m2-51h0m1 73h0m1-112h0m0 67h0m1-88h0m4 176h0m4-143h0m2-110h0m1 273h0m2-136h0m1 170h0m1-67h0m9-185h0m1-11h0m1 17h0m0 128h0m5-118h0m1 106h0m0-21h0m2 90h0m0-35h0m1 62h0m2-146h0m1 120h0m3 15h0m3-122h0m2 79h0m4-54h0m1-57h0m0 79h0m3 1h0m6 44h0m1-72h0m0 37h0m5-67h0m2 57h0m4-54h0m0-70h0m2 128h0m3-5h0m3-58h0m4 56h0m1-19h0m0-20h0m0 100h0m3-63h0m1 84h0m0-74h0m5-53h0m0 8h0m3 21h0m1 43h0m1-54h0m1 31h0m7 45h0m6-123h0m5 101h0m3 64h0m1-233h0m0 165h0m2-53h0m8 38h0m11 22h0m1-47h0m5 89h0m4-41h0m1-40h0m3-59h0m11 128h0m3-61h0m10-22h0m3 8h0m17 55h0m1-228h0m6 141h0m10 14h0m12-2h0m2 114h0m10-194h0m0 148h0m24-88h0m17 117h0m8-25h0m15-33h0m21 79h0m24-112h0"/>
<path class="m" d="M2350 1677h0m27 62h0m21-72h0m10 100h0m7 115h0m10-84h0m22-9h0m18 46h0m7-6h0m2-141h0m28 18h0m1 269h0m27-88h0m3-117h0m1 83h0m20-152h0m4 19h0m25-8h0m12 103h0m2-64h0m3 32h0m3-110h0m1 28h0m3 116h0m3 39h0m9 81h0m1-20h0m2-69h0m5-35h0m0-103h0m3 186h0m1-165h0m5 139h0m0-132h0m5 91h0m0 122h0m3-215h0m4 134h0m2-35h0m2-185h0m5 90h0m0 20h0m8 165h0m1-143h0m4-27h0m0 24h0m2 29h0m4 67h0m1-202h0m5 182h0m3 76h0m0-149h0m5 63h0m0-116h0m1 177h0m3-92h0m2-133h0m1 134h0m10-66h0m1 26h0m0 38h0m2 2h0m1-21h0m4-17h0m7 31h0m9-45h0m4 106h0m2-63h0m0-3h0m1 92h0m1 16h0m5-22h0m1-59h0m6-120h0m1 163h0m6-58h0m0-29h0m1 57h0m0-32h0m0-28h0m1-3h0m13 17h0m1 20h0m0 95h0m5-73h0m12-165h0m3 33h0m1 17h0m3 32h0m0 43h0m4 4h0m2-39h0m4 87h0m4 37h0m1-70h0m1 51h0m2-81h0m0 83h0m7 95h0m2-106h0m2-149h0m2 148h0m0 93h0m2-128h0m0-39h0m4 8h0m1-56h0m0-35h0m1 177h0m0-78h0m1-23h0m1 118h0m0-138h0m2 147h0m5-192h0m2 189h0m1-47h0m3-120h0m0 75h0m0-123h0m3 104h0m4 153h0m0-169h0m2 127h0m3-33h0m3-159h0m4 71h0m1 61h0m2 69h0m3-187h0m4 130h0m4 86h0m0-88h0m1 46h0m0-165h0m9 8h0m2 27h0m2-14h0m2 82h0m0 24h0m1 27h0m3 36h0m1-89h0m0-138h0m1 162h0m0 12h0m4 24h0m6-127h0m4 111h0m5-123h0m1 144h0m2-90h0m3-58h0m6 37h0m1 121h0m2-60h0m0-111h0m17 45h0m1-24h0m15 119h0m4-63h0m5-36h0m0 58h0m0-7h0m0 61h0m3 46h0m7-105h0m1 48h0m21 52h0m4-99h0m7 92h0m21-116h0m5-14h0m13 28h0m8 12h0m16 34h0m5-112h0m13 62h0m26 26h0m45 37h0"/>
<path class="f" d="M2283 1746h0m1-27h0m95 94h0m13 22h0m31-108h0m22 79h0m1-91h0m6 37h0m5 45h0m13 54h0m1-124h0m14 78h0m5 26h0m10-75h0m1 10h0m4-129h0m5 196h0m1 17h0m1-53h0m1 70h0m16-37h0m11-12h0m7-40h0m2 32h0m2 62h0m0-119h0m5-80h0m2 158h0m2-37h0m1-61h0m1 77h0m1-9h0m3-277h0m14 215h0m0 35h0m4-14h0m6 9h0m1 157h0m2-210h0m4 166h0m13-91h0m7 73h0m7 18h0m2-109h0m0 81h0m0-126h0m3 24h0m0 103h0m4-94h0m1 57h0m1-112h0m5 84h0m1 57h0m0-67h0m2 56h0m0-49h0m5 86h0m1-199h0m1 183h0m0-55h0m0-103h0m2 116h0m6 2h0m1-184h0m6 75h0m1 32h0m3-33h0m2 156h0m1 52h0m3-118h0m8 109h0m1-83h0m1 16h0m0-94h0m4 34h0m1 3h0m2-27h0m5 46h0m0-7h0m1 136h0m1-116h0m1 50h0m2-13h0m0-92h0m0 75h0m3-73h0m0 109h0m2-65h0m2 151h0m2-217h0m1 14h0m1 15h0m0 129h0m1-102h0m1-108h0m1 175h0m1-25h0m3-86h0m2 61h0m1 9h0m1 41h0m0-33h0m1-51h0m0 71h0m1-115h0m2 108h0m1-138h0m2 4h0m0 112h0m2-79h0m1 98h0m1-32h0m0 96h0m0-159h0m0 178h0m1-57h0m5 13h0m6 14h0m3-71h0m2-122h0m1 53h0m1 83h0m0 16h0m0-25h0m3-144h0m3 22h0m0 239h0m1-106h0m0 59h0m2 37h0m1-113h0m0-8h0m2 76h0m1-98h0m0-172h0m1 214h0m0-76h0m1 11h0m1 117h0m2-106h0m1-51h0m1 63h0m1 97h0m2-167h0m1 45h0m2 94h0m0 37h0m0-122h0m1-46h0m1 135h0m1-79h0m2 25h0m2-38h0m0-58h0m2 190h0m2-202h0m0 67h0m0 61h0m0 64h0m3-63h0m2-79h0m0 147h0m1 10h0m0-98h0m0-64h0m1 109h0m1 30h0m2-75h0m1-15h0m0 52h0m1-139h0m0 184h0m1-28h0m1-104h0m3 32h0m0 87h0m1 27h0m1-185h0m0 36h0m1 115h0m1-70h0m1-7h0m0-80h0m2 141h0m0-9h0m0-121h0m1 80h0m1 112h0m4-102h0m2-9h0m2 74h0m0-41h0m1-100h0m2 14h0m0-27h0m2 85h0m1 34h0m1-154h0m1 172h0m1-5h0m3-103h0m2 134h0m2-164h0m1-30h0m3 81h0m1-94h0m1 69h0m12 172h0m1-37h0m0-25h0m1 31h0m2-13h0m3-65h0m1 88h0m0-45h0m1 36h0m2 14h0m0-134h0m5-26h0m0-6h0m3 118h0m1-175h0m4 210h0m1 32h0m0-270h0m0 268h0m2-97h0m1 49h0m1-21h0m0-98h0m2 25h0m0 69h0m0 3h0m1 41h0m5-44h0m3-46h0m1-36h0m4 89h0m0 55h0m1-155h0m0 140h0m3-97h0m4 42h0m0-180h0m1 18h0m3 216h0m4-66h0m0 58h0m6 44h0m10-256h0m2 118h0m2-15h0m0 13h0m1 39h0m1 65h0m0 48h0m2-168h0m1 53h0m4 53h0m6 7h0m2-9h0m7 64h0m3-167h0m1 28h0m2 49h0m8 41h0m2-26h0m2-113h0m0 145h0m2-32h0m7-104h0m0 64h0m0-49h0m5 90h0m4-27h0m5-9h0m2-24h0m4 43h0m3 88h0m3-97h0m6-65h0m4 109h0m1-33h0m8 34h0m11-81h0m23 73h0m2-85h0m42 133h0m10-120h0m29 132h0"/>
<path class="m" d="M2396 1819h0m3-78h0m75 150h0m14-45h0m5-51h0m3-187h0m12 187h0m1 85h0m21-114h0m13 162h0m4-119h0m3-60h0m0 72h0m7-28h0m1-41h0m3 80h0m1-106h0m4 105h0m3-13h0m1-10h0m8 30h0m1-9h0m2 78h0m6-65h0m2 8h0m7-83h0m5-3h0m1 24h0m0-20h0m11 24h0m1-17h0m1-15h0m3 15h0m2 7h0m11 118h0m0-79h0m1 55h0m0-90h0m2 58h0m7-123h0m0 97h0m0 46h0m8-20h0m1 8h0m0-55h0m3 23h0m7-58h0m7-85h0m2 165h0m0-131h0m8 121h0m0-125h0m1 138h0m0-39h0m2-37h0m2 65h0m2 48h0m3-96h0m9 23h0m5-146h0m0 179h0m0-53h0m2 57h0m2-19h0m3 25h0m4-5h0m3 27h0m1-41h0m4-18h0m1 39h0m1-214h0m0 236h0m6 14h0m0-35h0m1 57h0m3-208h0m1 175h0m1-114h0m1 80h0m9-22h0m0-70h0m6 152h0m0-18h0m6-30h0m3-59h0m1 135h0m5-254h0m1 27h0m1 73h0m0 20h0m3-43h0m1 85h0m0-118h0m1 88h0m2-55h0m1 109h0m5 7h0m1-131h0m2 16h0m1 19h0m1-14h0m3 84h0m0 37h0m1-68h0m1 100h0m1-97h0m4 19h0m3 37h0m2-2h0m3-146h0m2 185h0m0-122h0m3 139h0m5-239h0m1 38h0m1 106h0m1 9h0m5-48h0m2 129h0m2-106h0m1-16h0m1 45h0m3-120h0m8-13h0m1 71h0m0-54h0m4 152h0m5-124h0m0 90h0m1-60h0m4 34h0m0 35h0m2-47h0m3-71h0m3 99h0m3-65h0m2 5h0m5 81h0m1-30h0m2 34h0m2-86h0m1 97h0m1-63h0m0 55h0m2-88h0m1-5h0m0-74h0m0 68h0m2 62h0m5-41h0m2 167h0m7-130h0m10 97h0m4-49h0m0-58h0m0-12h0m2-85h0m6 91h0m1 106h0m1-175h0m1 119h0m2-76h0m5 89h0m1-147h0m2 29h0m3 42h0m6 124h0m5-117h0m3-68h0m3 144h0m5 8h0m9-91h0m10 47h0m6-48h0m7 35h0m0 37h0m1 17h0m16-27h0m0 19h0m9 51h0m1-124h0m2 107h0m2-67h0m1-53h0m10 154h0m2-58h0m33 14h0m58-126h0m75 130h0"/>
<path class="f" d="M2317 1695h0m194 56h0m35 146h0m2-162h0m24 50h0m25 23h0m45-113h0m44 52h0m24 117h0m64-31h0m19-13h0m36 65h0m26-49h0m105 33h0m23-16h0m29-17h0m181 98h0"/>
<path class="m" d="M2413 1663h0m172 159h0m101 25h0m6-118h0m42 155h0m40 5h0m4-82h0m7 34h0m46-92h0m4 67h0m61-43h0m17 90h0m5-5h0m4 16h0m140-55h0"/>
</g>
<path d="M1075.0 865.1L1101.7 868.4L1128.3 871.7L1155.0 875.0L1181.7 878.3L1208.3 881.6L1235.0 884.9L1261.7 888.2L1288.3 891.5L1315.0 894.8L1341.7 898.1L1368.3 901.3L1395.0 904.6L1421.7 907.8L1448.3 910.9L1475.0 914.1L1501.7 917.2L1528.3 920.3L1555.0 923.4L1581.7 926.5L1608.3 929.7L1635.0 932.8L1661.7 935.9L1688.3 939.0L1715.0 942.1L1715.0 945.7L1688.3 942.4L1661.7 939.1L1635.0 935.8L1608.3 932.4L1581.7 929.1L1555.0 925.8L1528.3 922.5L1501.7 919.2L1475.0 915.9L1448.3 912.6L1421.7 909.4L1395.0 906.1L1368.3 902.9L1341.7 899.8L1315.0 896.6L1288.3 893.5L1261.7 890.4L1235.0 887.2L1208.3 884.1L1181.7 881.0L1155.0 877.9L1128.3 874.8L1101.7 871.7L1075.0 868.5Z" fill="#92C5DE"/>
<path d="M1062.9 863.1L1089.4 866.4L1115.8 869.6L1142.3 872.9L1168.7 876.2L1195.2 879.5L1221.7 882.7L1248.1 886.0L1274.6 889.2L1301.0 892.5L1327.5 895.7L1353.9 899.0L1380.4 902.2L1406.9 905.3L1433.3 908.5L1459.8 911.6L1486.2 914.7L1512.7 917.8L1539.2 920.8L1565.6 923.9L1592.1 927.0L1618.5 930.1L1645.0 933.1L1671.4 936.2L1697.9 939.3L1697.9 942.7L1671.4 939.5L1645.0 936.2L1618.5 932.9L1592.1 929.6L1565.6 926.4L1539.2 923.1L1512.7 919.9L1486.2 916.6L1459.8 913.4L1433.3 910.1L1406.9 906.9L1380.4 903.7L1353.9 900.6L1327.5 897.5L1301.0 894.4L1274.6 891.3L1248.1 888.2L1221.7 885.1L1195.2 882.1L1168.7 879.0L1142.3 875.9L1115.8 872.8L1089.4 869.8L1062.9 866.7Z" fill="#0571B0"/>
<path d="M1022.2 1027.8 H1030.2M1022.2 935.4 H1030.2M1022.2 843.0 H1030.2M1022.2 750.6 H1030.2M1022.2 1111.7 H1030.2M1192.0 1111.7 V1116.9M1389.0 1111.7 V1116.9M1586.0 1111.7 V1116.9" stroke="#333" stroke-width="3.3" fill="none"/>
<path d="M1030.2 710.7 V1111.7 H1747.5" stroke="#000" stroke-width="3.4" fill="none" stroke-linejoin="miter"/>
<text class="tk" text-anchor="end" x="1017.0" y="1037.0">0.5</text>
<text class="tk" text-anchor="end" x="1017.0" y="944.6">1.0</text>
<text class="tk" text-anchor="end" x="1017.0" y="852.2">1.5</text>
<text class="tk" text-anchor="end" x="1017.0" y="759.8">2.0</text>
<text class="tk" text-anchor="end" x="1017.0" y="1120.9">0.0</text>
<text class="tk" text-anchor="middle" x="1189.7" y="1147.2">-2.5</text>
<text class="tk" text-anchor="middle" x="1392.3" y="1147.2">0.0</text>
<text class="tk" text-anchor="middle" x="1589.3" y="1147.2">2.5</text>
<text class="at" text-anchor="middle" x="1391.9" y="1183.4" textLength="275.4" lengthAdjust="spacingAndGlyphs">Normalised BMFF</text>
<text class="yt" text-anchor="middle" textLength="206" lengthAdjust="spacingAndGlyphs" transform="translate(938.1 939.2) rotate(-90)">BMD (g/cm<tspan class="sup" dy="-10.1">2</tspan><tspan dy="10.1">)</tspan></text>
<text class="pl" x="908.0" y="702.0">D</text>
<text class="pt" x="1062.6" y="697.0">Diaphyisis</text>
<g transform="translate(1581.4 706.8)">
<rect x="0.75" y="0.75" width="163.0" height="116.1" rx="18" ry="18" fill="#FAF8F1" stroke="#000" stroke-width="1.5"/>
<path d="M55.0 9.8 V107.8" stroke="#000" stroke-width="1.9"/>
<text class="sb" x="12.6" y="32.3" style="font-family:'Liberation Serif',serif;font-size:29px">β</text>
<text class="sb" x="11.4" y="70.6">R<tspan style="font-size:18.6px" dy="-12.6">2</tspan></text>
<text class="sb" x="12.6" y="105.1" style="font-style:italic">P</text>
<text class="sb" text-anchor="middle" x="110.2" y="32.3">-0.043</text>
<text class="sb" text-anchor="middle" x="110.4" y="70.6">0.166</text>
<text class="sb" text-anchor="middle" x="110.6" y="105.1">&lt;2e-16</text>
</g>
</g>
</svg></body></html>
